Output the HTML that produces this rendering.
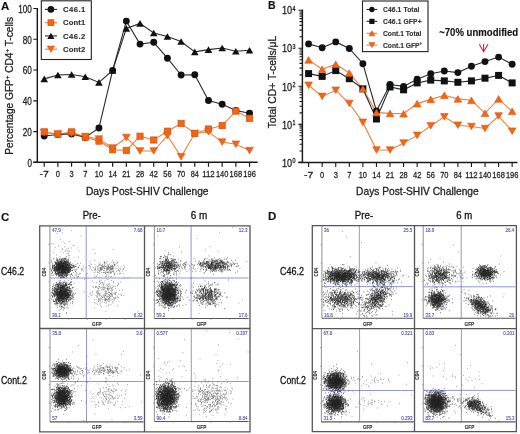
<!DOCTYPE html>
<html><head><meta charset="utf-8"><style>
html,body{margin:0;padding:0;background:#fff;width:520px;height:434px;overflow:hidden}
svg{display:block;font-family:"Liberation Sans", sans-serif;filter:blur(0.35px)}
</style></head><body>
<svg width="520" height="434" viewBox="0 0 520 434"><defs><filter id="soft" x="-5%" y="-5%" width="110%" height="110%"><feGaussianBlur stdDeviation="1.2"/></filter></defs>
<text x="1" y="9.6" font-size="11.5" text-anchor="start" font-weight="bold" fill="#111"  stroke="#111" stroke-width="0.14">A</text>
<path d="M37.3 8V162.3M33.3 162.3H257.7" stroke="#1a1a1a" stroke-width="1.45" fill="none"/>
<path d="M33.3 162.30H37.3M33.3 131.54H37.3M33.3 100.78H37.3M33.3 70.02H37.3M33.3 39.26H37.3M33.3 8.50H37.3M44.20 162.3V166.8M57.89 162.3V166.8M71.58 162.3V166.8M85.27 162.3V166.8M98.96 162.3V166.8M112.65 162.3V166.8M126.34 162.3V166.8M140.03 162.3V166.8M153.72 162.3V166.8M167.41 162.3V166.8M181.10 162.3V166.8M194.79 162.3V166.8M208.48 162.3V166.8M222.17 162.3V166.8M235.86 162.3V166.8M249.55 162.3V166.8" stroke="#1a1a1a" stroke-width="1.2" fill="none"/>
<text x="31.9" y="166.60" font-size="10.2" text-anchor="end" fill="#222" textLength="4.5" lengthAdjust="spacingAndGlyphs" stroke="#222" stroke-width="0.28">0</text>
<text x="31.9" y="135.84" font-size="10.2" text-anchor="end" fill="#222" textLength="9.1" lengthAdjust="spacingAndGlyphs" stroke="#222" stroke-width="0.28">20</text>
<text x="31.9" y="105.08" font-size="10.2" text-anchor="end" fill="#222" textLength="9.1" lengthAdjust="spacingAndGlyphs" stroke="#222" stroke-width="0.28">40</text>
<text x="31.9" y="74.32" font-size="10.2" text-anchor="end" fill="#222" textLength="9.1" lengthAdjust="spacingAndGlyphs" stroke="#222" stroke-width="0.28">60</text>
<text x="31.9" y="43.56" font-size="10.2" text-anchor="end" fill="#222" textLength="9.1" lengthAdjust="spacingAndGlyphs" stroke="#222" stroke-width="0.28">80</text>
<text x="31.9" y="12.80" font-size="10.2" text-anchor="end" fill="#222" textLength="13.6" lengthAdjust="spacingAndGlyphs" stroke="#222" stroke-width="0.28">100</text>
<text x="44.20" y="177.4" font-size="9.9" text-anchor="middle" fill="#222" textLength="9.3" lengthAdjust="spacingAndGlyphs" stroke="#222" stroke-width="0.28">-7</text>
<text x="57.89" y="177.4" font-size="9.9" text-anchor="middle" fill="#222" textLength="4.2" lengthAdjust="spacingAndGlyphs" stroke="#222" stroke-width="0.28">0</text>
<text x="71.58" y="177.4" font-size="9.9" text-anchor="middle" fill="#222" textLength="4.2" lengthAdjust="spacingAndGlyphs" stroke="#222" stroke-width="0.28">3</text>
<text x="85.27" y="177.4" font-size="9.9" text-anchor="middle" fill="#222" textLength="4.2" lengthAdjust="spacingAndGlyphs" stroke="#222" stroke-width="0.28">7</text>
<text x="98.96" y="177.4" font-size="9.9" text-anchor="middle" fill="#222" textLength="8.3" lengthAdjust="spacingAndGlyphs" stroke="#222" stroke-width="0.28">10</text>
<text x="112.65" y="177.4" font-size="9.9" text-anchor="middle" fill="#222" textLength="8.3" lengthAdjust="spacingAndGlyphs" stroke="#222" stroke-width="0.28">14</text>
<text x="126.34" y="177.4" font-size="9.9" text-anchor="middle" fill="#222" textLength="8.3" lengthAdjust="spacingAndGlyphs" stroke="#222" stroke-width="0.28">21</text>
<text x="140.03" y="177.4" font-size="9.9" text-anchor="middle" fill="#222" textLength="8.3" lengthAdjust="spacingAndGlyphs" stroke="#222" stroke-width="0.28">28</text>
<text x="153.72" y="177.4" font-size="9.9" text-anchor="middle" fill="#222" textLength="8.3" lengthAdjust="spacingAndGlyphs" stroke="#222" stroke-width="0.28">42</text>
<text x="167.41" y="177.4" font-size="9.9" text-anchor="middle" fill="#222" textLength="8.3" lengthAdjust="spacingAndGlyphs" stroke="#222" stroke-width="0.28">56</text>
<text x="181.10" y="177.4" font-size="9.9" text-anchor="middle" fill="#222" textLength="8.3" lengthAdjust="spacingAndGlyphs" stroke="#222" stroke-width="0.28">70</text>
<text x="194.79" y="177.4" font-size="9.9" text-anchor="middle" fill="#222" textLength="8.3" lengthAdjust="spacingAndGlyphs" stroke="#222" stroke-width="0.28">84</text>
<text x="208.48" y="177.4" font-size="9.9" text-anchor="middle" fill="#222" textLength="12.5" lengthAdjust="spacingAndGlyphs" stroke="#222" stroke-width="0.28">112</text>
<text x="222.17" y="177.4" font-size="9.9" text-anchor="middle" fill="#222" textLength="12.5" lengthAdjust="spacingAndGlyphs" stroke="#222" stroke-width="0.28">140</text>
<text x="235.86" y="177.4" font-size="9.9" text-anchor="middle" fill="#222" textLength="12.5" lengthAdjust="spacingAndGlyphs" stroke="#222" stroke-width="0.28">168</text>
<text x="249.55" y="177.4" font-size="9.9" text-anchor="middle" fill="#222" textLength="12.5" lengthAdjust="spacingAndGlyphs" stroke="#222" stroke-width="0.28">196</text>
<text x="86" y="194.7" font-size="10.2" fill="#222" textLength="122.5" lengthAdjust="spacingAndGlyphs" stroke="#222" stroke-width="0.28">Days Post-SHIV Challenge</text>
<text transform="translate(13.2,154.7) rotate(-90)" font-size="10.2" fill="#222" textLength="137.7" lengthAdjust="spacingAndGlyphs" stroke="#222" stroke-width="0.28">Percentage GFP<tspan font-size="6" dy="-4">+</tspan><tspan dy="4"> CD4</tspan><tspan font-size="6" dy="-4">+</tspan><tspan dy="4"> T-cells</tspan></text>
<polyline points="44.20,132.50 57.89,134.00 71.58,133.50 85.27,136.50 98.96,139.00 112.65,148.00 126.34,137.50 140.03,151.00 153.72,151.00 167.41,135.60 181.10,156.70 194.79,133.50 208.48,131.80 222.17,142.10 235.86,144.20 249.55,150.60" fill="none" stroke="#f0813a" stroke-width="1.1"/>
<polyline points="44.20,131.90 57.89,134.20 71.58,131.90 85.27,137.20 98.96,141.10 112.65,149.70 126.34,150.40 140.03,136.20 153.72,140.00 167.41,131.20 181.10,123.40 194.79,133.50 208.48,129.00 222.17,125.60 235.86,111.10 249.55,118.30" fill="none" stroke="#f0813a" stroke-width="1.1"/>
<polyline points="44.20,78.90 57.89,75.00 71.58,74.50 85.27,76.80 98.96,82.40 112.65,70.40 126.34,28.40 140.03,23.40 153.72,33.00 167.41,36.50 181.10,41.50 194.79,51.90 208.48,49.60 222.17,48.00 235.86,51.20 249.55,50.30" fill="none" stroke="#2a2a2a" stroke-width="1.1"/>
<polyline points="44.20,136.00 57.89,134.50 71.58,134.00 85.27,137.50 98.96,128.00 112.65,70.40 126.34,21.10 140.03,44.10 153.72,42.30 167.41,58.20 181.10,75.00 194.79,74.70 208.48,100.50 222.17,104.30 235.86,110.50 249.55,113.20" fill="none" stroke="#2a2a2a" stroke-width="1.1"/>
<circle cx="44.20" cy="136.00" r="3.45" fill="#111"/>
<circle cx="57.89" cy="134.50" r="3.45" fill="#111"/>
<circle cx="71.58" cy="134.00" r="3.45" fill="#111"/>
<circle cx="85.27" cy="137.50" r="3.45" fill="#111"/>
<circle cx="98.96" cy="128.00" r="3.45" fill="#111"/>
<circle cx="112.65" cy="70.40" r="3.45" fill="#111"/>
<circle cx="126.34" cy="21.10" r="3.45" fill="#111"/>
<circle cx="140.03" cy="44.10" r="3.45" fill="#111"/>
<circle cx="153.72" cy="42.30" r="3.45" fill="#111"/>
<circle cx="167.41" cy="58.20" r="3.45" fill="#111"/>
<circle cx="181.10" cy="75.00" r="3.45" fill="#111"/>
<circle cx="194.79" cy="74.70" r="3.45" fill="#111"/>
<circle cx="208.48" cy="100.50" r="3.45" fill="#111"/>
<circle cx="222.17" cy="104.30" r="3.45" fill="#111"/>
<circle cx="235.86" cy="110.50" r="3.45" fill="#111"/>
<circle cx="249.55" cy="113.20" r="3.45" fill="#111"/>
<path d="M40.40 82.20L44.20 75.60L48.00 82.20Z" fill="#111"/>
<path d="M54.09 78.30L57.89 71.70L61.69 78.30Z" fill="#111"/>
<path d="M67.78 77.80L71.58 71.20L75.38 77.80Z" fill="#111"/>
<path d="M81.47 80.10L85.27 73.50L89.07 80.10Z" fill="#111"/>
<path d="M95.16 85.70L98.96 79.10L102.76 85.70Z" fill="#111"/>
<path d="M108.85 73.70L112.65 67.10L116.45 73.70Z" fill="#111"/>
<path d="M122.54 31.70L126.34 25.10L130.14 31.70Z" fill="#111"/>
<path d="M136.23 26.70L140.03 20.10L143.83 26.70Z" fill="#111"/>
<path d="M149.92 36.30L153.72 29.70L157.52 36.30Z" fill="#111"/>
<path d="M163.61 39.80L167.41 33.20L171.21 39.80Z" fill="#111"/>
<path d="M177.30 44.80L181.10 38.20L184.90 44.80Z" fill="#111"/>
<path d="M190.99 55.20L194.79 48.60L198.59 55.20Z" fill="#111"/>
<path d="M204.68 52.90L208.48 46.30L212.28 52.90Z" fill="#111"/>
<path d="M218.37 51.30L222.17 44.70L225.97 51.30Z" fill="#111"/>
<path d="M232.06 54.50L235.86 47.90L239.66 54.50Z" fill="#111"/>
<path d="M245.75 53.60L249.55 47.00L253.35 53.60Z" fill="#111"/>
<rect x="41.10" y="128.80" width="6.20" height="6.20" fill="#f6660e" stroke="#d4561a" stroke-width=".8"/>
<rect x="54.79" y="131.10" width="6.20" height="6.20" fill="#f6660e" stroke="#d4561a" stroke-width=".8"/>
<rect x="68.48" y="128.80" width="6.20" height="6.20" fill="#f6660e" stroke="#d4561a" stroke-width=".8"/>
<rect x="82.17" y="134.10" width="6.20" height="6.20" fill="#f6660e" stroke="#d4561a" stroke-width=".8"/>
<rect x="95.86" y="138.00" width="6.20" height="6.20" fill="#f6660e" stroke="#d4561a" stroke-width=".8"/>
<rect x="109.55" y="146.60" width="6.20" height="6.20" fill="#f6660e" stroke="#d4561a" stroke-width=".8"/>
<rect x="123.24" y="147.30" width="6.20" height="6.20" fill="#f6660e" stroke="#d4561a" stroke-width=".8"/>
<rect x="136.93" y="133.10" width="6.20" height="6.20" fill="#f6660e" stroke="#d4561a" stroke-width=".8"/>
<rect x="150.62" y="136.90" width="6.20" height="6.20" fill="#f6660e" stroke="#d4561a" stroke-width=".8"/>
<rect x="164.31" y="128.10" width="6.20" height="6.20" fill="#f6660e" stroke="#d4561a" stroke-width=".8"/>
<rect x="178.00" y="120.30" width="6.20" height="6.20" fill="#f6660e" stroke="#d4561a" stroke-width=".8"/>
<rect x="191.69" y="130.40" width="6.20" height="6.20" fill="#f6660e" stroke="#d4561a" stroke-width=".8"/>
<rect x="205.38" y="125.90" width="6.20" height="6.20" fill="#f6660e" stroke="#d4561a" stroke-width=".8"/>
<rect x="219.07" y="122.50" width="6.20" height="6.20" fill="#f6660e" stroke="#d4561a" stroke-width=".8"/>
<rect x="232.76" y="108.00" width="6.20" height="6.20" fill="#f6660e" stroke="#d4561a" stroke-width=".8"/>
<rect x="246.45" y="115.20" width="6.20" height="6.20" fill="#f6660e" stroke="#d4561a" stroke-width=".8"/>
<path d="M40.40 129.20L44.20 135.80L48.00 129.20Z" fill="#f6660e" stroke="#d4561a" stroke-width=".6" stroke-linejoin="round"/>
<path d="M54.09 130.70L57.89 137.30L61.69 130.70Z" fill="#f6660e" stroke="#d4561a" stroke-width=".6" stroke-linejoin="round"/>
<path d="M67.78 130.20L71.58 136.80L75.38 130.20Z" fill="#f6660e" stroke="#d4561a" stroke-width=".6" stroke-linejoin="round"/>
<path d="M81.47 133.20L85.27 139.80L89.07 133.20Z" fill="#f6660e" stroke="#d4561a" stroke-width=".6" stroke-linejoin="round"/>
<path d="M95.16 135.70L98.96 142.30L102.76 135.70Z" fill="#f6660e" stroke="#d4561a" stroke-width=".6" stroke-linejoin="round"/>
<path d="M108.85 144.70L112.65 151.30L116.45 144.70Z" fill="#f6660e" stroke="#d4561a" stroke-width=".6" stroke-linejoin="round"/>
<path d="M122.54 134.20L126.34 140.80L130.14 134.20Z" fill="#f6660e" stroke="#d4561a" stroke-width=".6" stroke-linejoin="round"/>
<path d="M136.23 147.70L140.03 154.30L143.83 147.70Z" fill="#f6660e" stroke="#d4561a" stroke-width=".6" stroke-linejoin="round"/>
<path d="M149.92 147.70L153.72 154.30L157.52 147.70Z" fill="#f6660e" stroke="#d4561a" stroke-width=".6" stroke-linejoin="round"/>
<path d="M163.61 132.30L167.41 138.90L171.21 132.30Z" fill="#f6660e" stroke="#d4561a" stroke-width=".6" stroke-linejoin="round"/>
<path d="M177.30 153.40L181.10 160.00L184.90 153.40Z" fill="#f6660e" stroke="#d4561a" stroke-width=".6" stroke-linejoin="round"/>
<path d="M190.99 130.20L194.79 136.80L198.59 130.20Z" fill="#f6660e" stroke="#d4561a" stroke-width=".6" stroke-linejoin="round"/>
<path d="M204.68 128.50L208.48 135.10L212.28 128.50Z" fill="#f6660e" stroke="#d4561a" stroke-width=".6" stroke-linejoin="round"/>
<path d="M218.37 138.80L222.17 145.40L225.97 138.80Z" fill="#f6660e" stroke="#d4561a" stroke-width=".6" stroke-linejoin="round"/>
<path d="M232.06 140.90L235.86 147.50L239.66 140.90Z" fill="#f6660e" stroke="#d4561a" stroke-width=".6" stroke-linejoin="round"/>
<path d="M245.75 147.30L249.55 153.90L253.35 147.30Z" fill="#f6660e" stroke="#d4561a" stroke-width=".6" stroke-linejoin="round"/>
<rect x="41.3" y="0.8" width="50" height="58.7" fill="#fff" stroke="#222" stroke-width="1.1"/>
<path d="M45 9.40H57" stroke="#2a2a2a" stroke-width="1.1"/>
<circle cx="50.90" cy="9.40" r="3.3" fill="#111"/>
<text x="63" y="12.10" font-size="7.7" font-weight="bold" fill="#333" textLength="22.3" lengthAdjust="spacing" stroke="#333" stroke-width="0.14">C46.1</text>
<path d="M45 22.65H57" stroke="#f0813a" stroke-width="1.1"/>
<rect x="48.00" y="19.75" width="5.80" height="5.80" fill="#f6660e" stroke="#d4561a" stroke-width=".8"/>
<text x="63" y="25.35" font-size="7.7" font-weight="bold" fill="#333" textLength="22.3" lengthAdjust="spacing" stroke="#333" stroke-width="0.14">Cont1</text>
<path d="M45 35.90H57" stroke="#2a2a2a" stroke-width="1.1"/>
<path d="M47.30 39.00L50.90 32.80L54.50 39.00Z" fill="#111"/>
<text x="63" y="38.60" font-size="7.7" font-weight="bold" fill="#333" textLength="22.3" lengthAdjust="spacing" stroke="#333" stroke-width="0.14">C46.2</text>
<path d="M45 49.15H57" stroke="#f0813a" stroke-width="1.1"/>
<path d="M47.30 46.05L50.90 52.25L54.50 46.05Z" fill="#f6660e" stroke="#d4561a" stroke-width=".6" stroke-linejoin="round"/>
<text x="63" y="51.85" font-size="7.7" font-weight="bold" fill="#333" textLength="22.3" lengthAdjust="spacing" stroke="#333" stroke-width="0.14">Cont2</text>
<text x="268" y="9.4" font-size="10.5" text-anchor="start" font-weight="bold" fill="#111"  stroke="#111" stroke-width="0.14">B</text>
<path d="M302.4 9.5V162.5M298.5 162.5H517.5" stroke="#1a1a1a" stroke-width="1.45" fill="none"/>
<path d="M298.4 162.40H302.2M299.5 150.95H302.4M299.5 144.25H302.4M299.5 139.49H302.4M299.5 135.80H302.4M299.5 132.79H302.4M299.5 130.24H302.4M299.5 128.04H302.4M299.5 126.09H302.4M298.4 124.35H302.2M299.5 112.90H302.4M299.5 106.20H302.4M299.5 101.44H302.4M299.5 97.75H302.4M299.5 94.74H302.4M299.5 92.19H302.4M299.5 89.99H302.4M299.5 88.04H302.4M298.4 86.30H302.2M299.5 74.85H302.4M299.5 68.15H302.4M299.5 63.39H302.4M299.5 59.70H302.4M299.5 56.69H302.4M299.5 54.14H302.4M299.5 51.94H302.4M299.5 49.99H302.4M298.4 48.25H302.2M299.5 36.80H302.4M299.5 30.10H302.4M299.5 25.34H302.4M299.5 21.65H302.4M299.5 18.64H302.4M299.5 16.09H302.4M299.5 13.89H302.4M299.5 11.94H302.4M298.4 10.20H302.2M308.60 162.5V167M322.17 162.5V167M335.74 162.5V167M349.31 162.5V167M362.88 162.5V167M376.45 162.5V167M390.02 162.5V167M403.59 162.5V167M417.16 162.5V167M430.73 162.5V167M444.30 162.5V167M457.87 162.5V167M471.44 162.5V167M485.01 162.5V167M498.58 162.5V167M512.15 162.5V167" stroke="#1a1a1a" stroke-width="1.1" fill="none"/>
<text x="292.1" y="166.60" font-size="11.6" text-anchor="end" fill="#222" textLength="10.2" lengthAdjust="spacingAndGlyphs" stroke="#222" stroke-width="0.28">10</text>
<text x="292.4" y="162.80" font-size="6.6" fill="#222" textLength="3" lengthAdjust="spacingAndGlyphs" stroke="#222" stroke-width="0.28">0</text>
<text x="292.1" y="128.55" font-size="11.6" text-anchor="end" fill="#222" textLength="10.2" lengthAdjust="spacingAndGlyphs" stroke="#222" stroke-width="0.28">10</text>
<text x="292.4" y="124.75" font-size="6.6" fill="#222" textLength="3" lengthAdjust="spacingAndGlyphs" stroke="#222" stroke-width="0.28">1</text>
<text x="292.1" y="90.50" font-size="11.6" text-anchor="end" fill="#222" textLength="10.2" lengthAdjust="spacingAndGlyphs" stroke="#222" stroke-width="0.28">10</text>
<text x="292.4" y="86.70" font-size="6.6" fill="#222" textLength="3" lengthAdjust="spacingAndGlyphs" stroke="#222" stroke-width="0.28">2</text>
<text x="292.1" y="52.45" font-size="11.6" text-anchor="end" fill="#222" textLength="10.2" lengthAdjust="spacingAndGlyphs" stroke="#222" stroke-width="0.28">10</text>
<text x="292.4" y="48.65" font-size="6.6" fill="#222" textLength="3" lengthAdjust="spacingAndGlyphs" stroke="#222" stroke-width="0.28">3</text>
<text x="292.1" y="14.40" font-size="11.6" text-anchor="end" fill="#222" textLength="10.2" lengthAdjust="spacingAndGlyphs" stroke="#222" stroke-width="0.28">10</text>
<text x="292.4" y="10.60" font-size="6.6" fill="#222" textLength="3" lengthAdjust="spacingAndGlyphs" stroke="#222" stroke-width="0.28">4</text>
<text x="308.60" y="177.5" font-size="9.9" text-anchor="middle" fill="#222" textLength="9.3" lengthAdjust="spacingAndGlyphs" stroke="#222" stroke-width="0.28">-7</text>
<text x="322.17" y="177.5" font-size="9.9" text-anchor="middle" fill="#222" textLength="4.2" lengthAdjust="spacingAndGlyphs" stroke="#222" stroke-width="0.28">0</text>
<text x="335.74" y="177.5" font-size="9.9" text-anchor="middle" fill="#222" textLength="4.2" lengthAdjust="spacingAndGlyphs" stroke="#222" stroke-width="0.28">3</text>
<text x="349.31" y="177.5" font-size="9.9" text-anchor="middle" fill="#222" textLength="4.2" lengthAdjust="spacingAndGlyphs" stroke="#222" stroke-width="0.28">7</text>
<text x="362.88" y="177.5" font-size="9.9" text-anchor="middle" fill="#222" textLength="8.3" lengthAdjust="spacingAndGlyphs" stroke="#222" stroke-width="0.28">10</text>
<text x="376.45" y="177.5" font-size="9.9" text-anchor="middle" fill="#222" textLength="8.3" lengthAdjust="spacingAndGlyphs" stroke="#222" stroke-width="0.28">14</text>
<text x="390.02" y="177.5" font-size="9.9" text-anchor="middle" fill="#222" textLength="8.3" lengthAdjust="spacingAndGlyphs" stroke="#222" stroke-width="0.28">21</text>
<text x="403.59" y="177.5" font-size="9.9" text-anchor="middle" fill="#222" textLength="8.3" lengthAdjust="spacingAndGlyphs" stroke="#222" stroke-width="0.28">28</text>
<text x="417.16" y="177.5" font-size="9.9" text-anchor="middle" fill="#222" textLength="8.3" lengthAdjust="spacingAndGlyphs" stroke="#222" stroke-width="0.28">42</text>
<text x="430.73" y="177.5" font-size="9.9" text-anchor="middle" fill="#222" textLength="8.3" lengthAdjust="spacingAndGlyphs" stroke="#222" stroke-width="0.28">56</text>
<text x="444.30" y="177.5" font-size="9.9" text-anchor="middle" fill="#222" textLength="8.3" lengthAdjust="spacingAndGlyphs" stroke="#222" stroke-width="0.28">70</text>
<text x="457.87" y="177.5" font-size="9.9" text-anchor="middle" fill="#222" textLength="8.3" lengthAdjust="spacingAndGlyphs" stroke="#222" stroke-width="0.28">84</text>
<text x="471.44" y="177.5" font-size="9.9" text-anchor="middle" fill="#222" textLength="12.5" lengthAdjust="spacingAndGlyphs" stroke="#222" stroke-width="0.28">112</text>
<text x="485.01" y="177.5" font-size="9.9" text-anchor="middle" fill="#222" textLength="12.5" lengthAdjust="spacingAndGlyphs" stroke="#222" stroke-width="0.28">140</text>
<text x="498.58" y="177.5" font-size="9.9" text-anchor="middle" fill="#222" textLength="12.5" lengthAdjust="spacingAndGlyphs" stroke="#222" stroke-width="0.28">168</text>
<text x="512.15" y="177.5" font-size="9.9" text-anchor="middle" fill="#222" textLength="12.5" lengthAdjust="spacingAndGlyphs" stroke="#222" stroke-width="0.28">196</text>
<text x="356.1" y="194.6" font-size="10.2" fill="#222" textLength="122.6" lengthAdjust="spacingAndGlyphs" stroke="#222" stroke-width="0.28">Days Post-SHIV Challenge</text>
<text transform="translate(276.2,128.3) rotate(-90)" font-size="10.8" fill="#222" textLength="92.5" lengthAdjust="spacingAndGlyphs" stroke="#222" stroke-width="0.28">Total CD+ T-cells/μL</text>
<polyline points="308.60,85.30 322.17,96.40 335.74,90.30 349.31,103.50 362.88,122.40 376.45,150.00 390.02,150.00 403.59,143.00 417.16,135.40 430.73,125.70 444.30,116.90 457.87,125.20 471.44,126.50 485.01,128.50 498.58,116.00 512.15,131.20" fill="none" stroke="#f0813a" stroke-width="1.1"/>
<polyline points="308.60,59.90 322.17,69.30 335.74,64.20 349.31,73.10 362.88,88.80 376.45,112.60 390.02,113.40 403.59,113.80 417.16,103.60 430.73,99.40 444.30,95.30 457.87,98.90 471.44,100.30 485.01,113.30 498.58,98.90 512.15,111.30" fill="none" stroke="#f0813a" stroke-width="1.1"/>
<polyline points="308.60,73.60 322.17,76.40 335.74,70.60 349.31,78.70 362.88,88.80 376.45,119.00 390.02,87.00 403.59,89.80 417.16,82.90 430.73,80.10 444.30,80.90 457.87,82.30 471.44,80.90 485.01,78.20 498.58,75.40 512.15,82.90" fill="none" stroke="#1f2a3a" stroke-width="1.1"/>
<polyline points="308.60,43.90 322.17,47.70 335.74,41.90 349.31,48.50 362.88,63.70 376.45,111.00 390.02,84.50 403.59,86.40 417.16,79.30 430.73,73.70 444.30,71.00 457.87,72.60 471.44,66.30 485.01,61.60 498.58,57.10 512.15,64.30" fill="none" stroke="#2a2a2a" stroke-width="1.1"/>
<rect x="305.10" y="70.10" width="7.00" height="7.00" fill="#111"/>
<rect x="318.67" y="72.90" width="7.00" height="7.00" fill="#111"/>
<rect x="332.24" y="67.10" width="7.00" height="7.00" fill="#111"/>
<rect x="345.81" y="75.20" width="7.00" height="7.00" fill="#111"/>
<rect x="359.38" y="85.30" width="7.00" height="7.00" fill="#111"/>
<rect x="372.95" y="115.50" width="7.00" height="7.00" fill="#111"/>
<rect x="386.52" y="83.50" width="7.00" height="7.00" fill="#111"/>
<rect x="400.09" y="86.30" width="7.00" height="7.00" fill="#111"/>
<rect x="413.66" y="79.40" width="7.00" height="7.00" fill="#111"/>
<rect x="427.23" y="76.60" width="7.00" height="7.00" fill="#111"/>
<rect x="440.80" y="77.40" width="7.00" height="7.00" fill="#111"/>
<rect x="454.37" y="78.80" width="7.00" height="7.00" fill="#111"/>
<rect x="467.94" y="77.40" width="7.00" height="7.00" fill="#111"/>
<rect x="481.51" y="74.70" width="7.00" height="7.00" fill="#111"/>
<rect x="495.08" y="71.90" width="7.00" height="7.00" fill="#111"/>
<rect x="508.65" y="79.40" width="7.00" height="7.00" fill="#111"/>
<circle cx="308.60" cy="43.90" r="3.45" fill="#111"/>
<circle cx="322.17" cy="47.70" r="3.45" fill="#111"/>
<circle cx="335.74" cy="41.90" r="3.45" fill="#111"/>
<circle cx="349.31" cy="48.50" r="3.45" fill="#111"/>
<circle cx="362.88" cy="63.70" r="3.45" fill="#111"/>
<circle cx="376.45" cy="111.00" r="3.45" fill="#111"/>
<circle cx="390.02" cy="84.50" r="3.45" fill="#111"/>
<circle cx="403.59" cy="86.40" r="3.45" fill="#111"/>
<circle cx="417.16" cy="79.30" r="3.45" fill="#111"/>
<circle cx="430.73" cy="73.70" r="3.45" fill="#111"/>
<circle cx="444.30" cy="71.00" r="3.45" fill="#111"/>
<circle cx="457.87" cy="72.60" r="3.45" fill="#111"/>
<circle cx="471.44" cy="66.30" r="3.45" fill="#111"/>
<circle cx="485.01" cy="61.60" r="3.45" fill="#111"/>
<circle cx="498.58" cy="57.10" r="3.45" fill="#111"/>
<circle cx="512.15" cy="64.30" r="3.45" fill="#111"/>
<path d="M304.80 82.00L308.60 88.60L312.40 82.00Z" fill="#f6660e" stroke="#d4561a" stroke-width=".6" stroke-linejoin="round"/>
<path d="M318.37 93.10L322.17 99.70L325.97 93.10Z" fill="#f6660e" stroke="#d4561a" stroke-width=".6" stroke-linejoin="round"/>
<path d="M331.94 87.00L335.74 93.60L339.54 87.00Z" fill="#f6660e" stroke="#d4561a" stroke-width=".6" stroke-linejoin="round"/>
<path d="M345.51 100.20L349.31 106.80L353.11 100.20Z" fill="#f6660e" stroke="#d4561a" stroke-width=".6" stroke-linejoin="round"/>
<path d="M359.08 119.10L362.88 125.70L366.68 119.10Z" fill="#f6660e" stroke="#d4561a" stroke-width=".6" stroke-linejoin="round"/>
<path d="M372.65 146.70L376.45 153.30L380.25 146.70Z" fill="#f6660e" stroke="#d4561a" stroke-width=".6" stroke-linejoin="round"/>
<path d="M386.22 146.70L390.02 153.30L393.82 146.70Z" fill="#f6660e" stroke="#d4561a" stroke-width=".6" stroke-linejoin="round"/>
<path d="M399.79 139.70L403.59 146.30L407.39 139.70Z" fill="#f6660e" stroke="#d4561a" stroke-width=".6" stroke-linejoin="round"/>
<path d="M413.36 132.10L417.16 138.70L420.96 132.10Z" fill="#f6660e" stroke="#d4561a" stroke-width=".6" stroke-linejoin="round"/>
<path d="M426.93 122.40L430.73 129.00L434.53 122.40Z" fill="#f6660e" stroke="#d4561a" stroke-width=".6" stroke-linejoin="round"/>
<path d="M440.50 113.60L444.30 120.20L448.10 113.60Z" fill="#f6660e" stroke="#d4561a" stroke-width=".6" stroke-linejoin="round"/>
<path d="M454.07 121.90L457.87 128.50L461.67 121.90Z" fill="#f6660e" stroke="#d4561a" stroke-width=".6" stroke-linejoin="round"/>
<path d="M467.64 123.20L471.44 129.80L475.24 123.20Z" fill="#f6660e" stroke="#d4561a" stroke-width=".6" stroke-linejoin="round"/>
<path d="M481.21 125.20L485.01 131.80L488.81 125.20Z" fill="#f6660e" stroke="#d4561a" stroke-width=".6" stroke-linejoin="round"/>
<path d="M494.78 112.70L498.58 119.30L502.38 112.70Z" fill="#f6660e" stroke="#d4561a" stroke-width=".6" stroke-linejoin="round"/>
<path d="M508.35 127.90L512.15 134.50L515.95 127.90Z" fill="#f6660e" stroke="#d4561a" stroke-width=".6" stroke-linejoin="round"/>
<path d="M304.80 63.20L308.60 56.60L312.40 63.20Z" fill="#f6660e" stroke="#d4561a" stroke-width=".6" stroke-linejoin="round"/>
<path d="M318.37 72.60L322.17 66.00L325.97 72.60Z" fill="#f6660e" stroke="#d4561a" stroke-width=".6" stroke-linejoin="round"/>
<path d="M331.94 67.50L335.74 60.90L339.54 67.50Z" fill="#f6660e" stroke="#d4561a" stroke-width=".6" stroke-linejoin="round"/>
<path d="M345.51 76.40L349.31 69.80L353.11 76.40Z" fill="#f6660e" stroke="#d4561a" stroke-width=".6" stroke-linejoin="round"/>
<path d="M359.08 92.10L362.88 85.50L366.68 92.10Z" fill="#f6660e" stroke="#d4561a" stroke-width=".6" stroke-linejoin="round"/>
<path d="M372.65 115.90L376.45 109.30L380.25 115.90Z" fill="#f6660e" stroke="#d4561a" stroke-width=".6" stroke-linejoin="round"/>
<path d="M386.22 116.70L390.02 110.10L393.82 116.70Z" fill="#f6660e" stroke="#d4561a" stroke-width=".6" stroke-linejoin="round"/>
<path d="M399.79 117.10L403.59 110.50L407.39 117.10Z" fill="#f6660e" stroke="#d4561a" stroke-width=".6" stroke-linejoin="round"/>
<path d="M413.36 106.90L417.16 100.30L420.96 106.90Z" fill="#f6660e" stroke="#d4561a" stroke-width=".6" stroke-linejoin="round"/>
<path d="M426.93 102.70L430.73 96.10L434.53 102.70Z" fill="#f6660e" stroke="#d4561a" stroke-width=".6" stroke-linejoin="round"/>
<path d="M440.50 98.60L444.30 92.00L448.10 98.60Z" fill="#f6660e" stroke="#d4561a" stroke-width=".6" stroke-linejoin="round"/>
<path d="M454.07 102.20L457.87 95.60L461.67 102.20Z" fill="#f6660e" stroke="#d4561a" stroke-width=".6" stroke-linejoin="round"/>
<path d="M467.64 103.60L471.44 97.00L475.24 103.60Z" fill="#f6660e" stroke="#d4561a" stroke-width=".6" stroke-linejoin="round"/>
<path d="M481.21 116.60L485.01 110.00L488.81 116.60Z" fill="#f6660e" stroke="#d4561a" stroke-width=".6" stroke-linejoin="round"/>
<path d="M494.78 102.20L498.58 95.60L502.38 102.20Z" fill="#f6660e" stroke="#d4561a" stroke-width=".6" stroke-linejoin="round"/>
<path d="M508.35 114.60L512.15 108.00L515.95 114.60Z" fill="#f6660e" stroke="#d4561a" stroke-width=".6" stroke-linejoin="round"/>
<rect x="362.5" y="1" width="65.5" height="50.6" fill="#fff" stroke="#222" stroke-width="1.1"/>
<path d="M366.5 9.50H377.3" stroke="#2a2a2a" stroke-width="1.1"/>
<circle cx="371.90" cy="9.50" r="2.7" fill="#111"/>
<text x="383" y="12.00" font-size="6.7" font-weight="bold" fill="#333" textLength="36.4" lengthAdjust="spacing" stroke="#333" stroke-width="0.14">C46.1 Total</text>
<path d="M366.5 21.37H377.3" stroke="#2a2a2a" stroke-width="1.1"/>
<rect x="369.30" y="18.77" width="5.20" height="5.20" fill="#111"/>
<text x="383" y="23.87" font-size="6.7" font-weight="bold" fill="#333" textLength="38.6" lengthAdjust="spacing" stroke="#333" stroke-width="0.14">C46.1 GFP+</text>
<path d="M366.5 33.24H377.3" stroke="#f0813a" stroke-width="1.1"/>
<path d="M368.90 35.74L371.90 30.74L374.90 35.74Z" fill="#f6660e" stroke="#d4561a" stroke-width=".6" stroke-linejoin="round"/>
<text x="383" y="35.74" font-size="6.7" font-weight="bold" fill="#333" textLength="38.3" lengthAdjust="spacing" stroke="#333" stroke-width="0.14">Cont.1 Total</text>
<path d="M366.5 45.11H377.3" stroke="#f0813a" stroke-width="1.1"/>
<path d="M368.90 42.61L371.90 47.61L374.90 42.61Z" fill="#f6660e" stroke="#d4561a" stroke-width=".6" stroke-linejoin="round"/>
<text x="383" y="47.61" font-size="6.7" font-weight="bold" fill="#333" textLength="39.2" lengthAdjust="spacing" stroke="#333" stroke-width="0.14">Cont.1 GFP<tspan font-size="4.5" dy="-2.5">+</tspan></text>
<text x="439.2" y="35.6" font-size="10.6" font-weight="bold" fill="#111" textLength="79" lengthAdjust="spacingAndGlyphs" stroke="#111" stroke-width="0.14">~70% unmodified</text>
<path d="M479.3 44.2L483.6 51.7L488 44.2M483.6 44V51.7" stroke="#d8232a" stroke-width="1.1" fill="none"/>
<text x="1" y="220.5" font-size="11.5" text-anchor="start" font-weight="bold" fill="#111"  stroke="#111" stroke-width="0.14">C</text>
<text x="82.7" y="219.4" font-size="10.2" fill="#111" textLength="18.1" lengthAdjust="spacingAndGlyphs" stroke="#111" stroke-width="0.28">Pre-</text>
<text x="190.8" y="219" font-size="10.2" fill="#111" textLength="16.6" lengthAdjust="spacingAndGlyphs" stroke="#111" stroke-width="0.28">6 m</text>
<text x="0.9" y="274.9" font-size="10.9" fill="#111" textLength="23.3" lengthAdjust="spacingAndGlyphs" stroke="#111" stroke-width="0.28">C46.2</text>
<text x="1" y="383.9" font-size="10.7" fill="#111" textLength="25.9" lengthAdjust="spacingAndGlyphs" stroke="#111" stroke-width="0.28">Cont.2</text>
<path filter="url(#soft)" transform="scale(0.333333)" d="M213 692h2m-29 7h2m-18 1h2m70 8h2m-63 10h2m5 6h2m18 1h2m-18 5h2m-41 1h2m6 1h2m55 4h2m-46 1h2m45 0h2m-29 4h2m-31 2h2m47 1h2m17 0h2m-30 1h2m-20 2h2m11 0h2m76 1h2m58 0h2m-154 1h2m8 2h2m2 2h2m3 0h2m29 0h2m-31 1h2m-27 1h2m10 0h2m-36 3h2m28 1h2m9 1h2m82 0h2m-82 1h2m-39 4h2m38 1h2m-5 1h2m27 5h2m-40 3h2m84 6h2m52 0h2m-26 3h2m-45 1h2m50 0h2m16 1h2m9 1h2m-52 1h2m9 0h2m0 0h2m0 0h2m18 0h2m15 0h2m-40 1h2m3 0h2m19 0h2m2 0h2m-179 1h2m72 0h2m53 0h2m14 0h2m36 0h2m-82 2h2m56 0h2m-56 1h2m67 0h2m-61 1h2m10 0h2m8 0h2m34 0h2m2 0h2m-51 1h2m0 0h2m0 0h2m4 0h2m3 0h2m7 0h2m0 0h2m1 0h2m7 0h2m5 0h2m-106 1h2m64 0h2m7 0h2m21 0h2m4 0h2m-79 1h2m0 0h2m62 0h2m2 0h2m34 0h2m-79 1h2m12 0h2m14 0h2m17 0h2m5 0h2m-102 1h2m38 0h2m12 0h2m0 0h2m-1 0h2m7 0h2m1 0h2m2 0h2m0 0h2m8 0h2m-1 0h2m-30 1h2m-1 0h2m0 0h2m2 0h2m7 0h2m5 0h2m1 0h2m3 0h2m-143 1h2m35 0h2m32 0h2m0 0h2m12 0h2m5 0h2m18 0h2m9 0h2m4 0h2m-1 0h2m1 0h2m1 0h2m16 0h2m6 0h2m-141 1h2m9 0h2m21 0h2m43 0h2m22 0h2m-93 1h2m42 0h2m20 0h2m1 0h2m2 0h2m11 0h2m0 0h2m3 0h2m-1 0h2m6 0h2m34 0h2m-142 1h2m60 0h2m1 0h2m1 0h2m5 0h2m9 0h2m1 0h2m1 0h2m3 0h2m3 0h2m-1 0h2m1 0h2m4 0h2m-103 1h2m2 0h2m35 0h2m15 0h2m2 0h2m4 0h2m6 0h2m3 0h2m9 0h2m0 0h2m19 0h2m-92 1h2m21 0h2m6 0h2m0 0h2m1 0h2m6 0h2m0 0h2m7 0h2m2 0h2m-1 0h2m2 0h2m-1 0h2m2 0h2m10 0h2m18 0h2m-87 1h2m16 0h2m15 0h2m-1 0h2m2 0h2m4 0h2m-1 0h2m-159 1h2m44 0h2m20 0h2m37 0h2m15 0h2m0 0h2m-1 0h2m3 0h2m9 0h2m1 0h2m7 0h2m2 0h2m24 0h2m6 0h2m0 0h2m-142 1h2m15 0h2m24 0h2m10 0h2m6 0h2m28 0h2m7 0h2m3 0h2m15 0h2m-129 1h2m74 0h2m0 0h2m32 0h2m-63 1h2m4 0h2m7 0h2m15 0h2m1 0h2m3 0h2m1 0h2m5 0h2m5 0h2m19 0h2m-114 1h2m51 0h2m1 0h2m27 0h2m22 0h2m22 0h2m-129 1h2m47 0h2m26 0h2m29 0h2m6 0h2m-142 1h2m107 0h2m0 0h2m10 0h2m-53 1h2m39 0h2m-56 1h2m5 0h2m22 0h2m-1 0h2m5 0h2m5 0h2m-1 0h2m6 0h2m17 0h2m-167 1h2m85 0h2m8 0h2m16 0h2m1 0h2m6 0h2m-1 0h2m3 0h2m-123 1h2m22 0h2m63 0h2m7 0h2m4 0h2m4 0h2m5 0h2m6 0h2m-1 0h2m0 0h2m-11 1h2m-89 1h2m22 0h2m68 0h2m10 0h2m-1 0h2m-106 1h2m55 0h2m16 0h2m43 0h2m-162 1h2m150 0h2m4 0h2m10 0h2m-139 1h2m108 0h2m-109 1h2m19 0h2m61 0h2m-31 1h2m50 0h2m-116 1h2m52 1h2m-64 1h2m94 0h2m5 0h2m-92 1h2m52 0h2m29 0h2m12 0h2m-103 1h2m1 0h2m79 0h2m11 0h2m-35 1h2m-12 1h2m95 1h2m-162 1h2m6 0h2m138 1h2m-53 2h2m-70 1h2m69 1h2m-27 2h2m2 0h2m-99 1h2m126 0h2m-58 1h2m35 0h2m-17 2h2m38 0h2m-44 1h2m62 0h2m-82 1h2m24 0h2m-21 1h2m13 0h2m6 0h2m26 0h2m-152 1h2m31 1h2m76 0h2m26 0h2m-23 1h2m45 0h2m-33 1h2m-16 1h2m0 0h2m12 0h2m28 0h2m-60 1h2m20 1h2m14 0h2m-9 1h2m-20 1h2m10 0h2m27 0h2m-1 0h2m-78 2h2m18 0h2m26 0h2m15 0h2m3 0h2m-62 1h2m1 0h2m7 0h2m11 0h2m7 0h2m7 0h2m-44 1h2m9 0h2m6 0h2m30 0h2m-61 1h2m23 0h2m5 0h2m3 0h2m5 0h2m11 0h2m-52 1h2m3 0h2m17 0h2m20 0h2m-34 1h2m10 0h2m15 0h2m-35 1h2m36 0h2m-22 1h2m4 0h2m-1 0h2m0 0h2m2 0h2m16 0h2m-117 1h2m61 0h2m-1 0h2m11 0h2m-1 0h2m11 0h2m-1 0h2m-1 0h2m1 0h2m5 0h2m-12 1h2m12 0h2m-28 1h2m-10 1h2m5 0h2m12 0h2m40 0h2m-36 1h2m2 0h2m20 0h2m-69 1h2m3 0h2m17 0h2m-160 1h2m164 0h2m-49 1h2m12 0h2m41 0h2m-82 1h2m35 0h2m22 0h2m2 0h2m-26 1h2m20 0h2m8 0h2m18 1h2m0 0h2m-74 1h2m10 0h2m34 0h2m1 0h2m-59 1h2m19 0h2m9 0h2m13 0h2m14 0h2m4 0h2m-46 1h2m-1 0h2m21 0h2m1 0h2m19 0h2m-1 0h2m-77 1h2m45 0h2m12 0h2m-1 0h2m1 0h2m-45 1h2m-1 0h2m4 0h2m11 0h2m1 0h2m19 0h2m8 0h2m8 0h2m3 0h2m-26 1h2m7 0h2m-51 1h2m19 0h2m5 0h2m1 0h2m4 0h2m10 0h2m-72 1h2m20 0h2m17 0h2m14 0h2m-62 1h2m13 0h2m11 0h2m6 0h2m6 0h2m45 0h2m6 0h2m-83 1h2m19 0h2m2 0h2m10 0h2m-1 0h2m6 0h2m26 0h2m-69 1h2m14 0h2m6 0h2m11 0h2m-72 1h2m37 0h2m6 0h2m11 0h2m5 0h2m3 0h2m13 0h2m-61 1h2m23 0h2m-30 1h2m14 0h2m13 0h2m0 0h2m3 0h2m3 0h2m-28 1h2m0 0h2m2 0h2m12 0h2m18 0h2m-20 1h2m10 0h2m8 0h2m2 0h2m-63 1h2m49 0h2m-50 1h2m3 0h2m23 0h2m14 0h2m-41 1h2m9 0h2m1 0h2m6 0h2m19 0h2m-34 1h2m12 0h2m-1 0h2m-35 1h2m1 0h2m15 0h2m-1 0h2m1 0h2m1 0h2m11 0h2m-56 1h2m10 0h2m9 0h2m1 0h2m8 0h2m-1 0h2m4 0h2m-32 1h2m16 0h2m0 0h2m11 0h2m2 0h2m6 0h2m1 0h2m-48 1h2m15 0h2m-1 0h2m5 1h2m-128 1h2m102 0h2m14 0h2m-24 1h2m28 0h2m1 0h2m-34 1h2m8 0h2m30 0h2m17 0h2m-40 1h2m-7 1h2m-32 1h2m17 1h2m34 0h2m-172 1h2m117 0h2m28 0h2m-20 2h2m-10 1h2m39 0h2m-8 2h2m-28 1h2m23 0h2m25 1h2m-35 1h2m-18 3h2m-22 4h2m32 9h2m94 1h2m-216 3h2" stroke="#5a5a5a" stroke-width="2.40" fill="none"/>
<path filter="url(#soft)" transform="scale(0.333333)" d="M198 769h2m-21 2h2m-13 3h2m25 0h2m9 0h2m-47 1h2m27 0h2m1 0h2m2 0h2m-20 1h2m4 0h2m0 0h2m-29 1h2m10 0h2m19 0h2m-1 0h2m-25 1h2m11 0h2m1 0h2m5 0h2m0 0h2m1 0h2m-33 1h2m7 0h2m3 0h2m5 0h2m12 0h2m0 0h2m-34 1h2m2 0h2m0 0h2m2 0h2m3 0h2m-8 1h2m1 0h2m3 0h2m-1 0h2m-40 1h2m14 0h2m0 0h2m25 0h2m5 0h2m-36 1h2m2 0h2m2 0h2m6 0h2m2 0h2m-1 0h2m-1 0h2m2 0h2m-1 0h2m2 0h2m-34 1h2m1 0h2m1 0h2m3 0h2m-1 0h2m0 0h2m-1 0h2m1 0h2m3 0h2m1 0h2m0 0h2m0 0h2m-1 0h2m-29 1h2m4 0h2m0 0h2m-1 0h2m-1 0h2m7 0h2m-1 0h2m-1 0h2m-1 0h2m6 0h2m-52 1h2m7 0h2m0 0h2m11 0h2m-1 0h2m0 0h2m1 0h2m1 0h2m2 0h2m-1 0h2m0 0h2m1 0h2m4 0h2m-40 1h2m4 0h2m3 0h2m1 0h2m1 0h2m0 0h2m2 0h2m-1 0h2m2 0h2m2 0h2m-1 0h2m1 0h2m-1 0h2m-36 1h2m0 0h2m1 0h2m-1 0h2m1 0h2m2 0h2m-1 0h2m-1 0h2m1 0h2m1 0h2m-1 0h2m-1 0h2m0 0h2m0 0h2m-1 0h2m-1 0h2m1 0h2m2 0h2m4 0h2m-46 1h2m-1 0h2m-1 0h2m4 0h2m0 0h2m2 0h2m-1 0h2m2 0h2m2 0h2m-1 0h2m-1 0h2m-1 0h2m-1 0h2m-1 0h2m0 0h2m5 0h2m0 0h2m0 0h2m-53 1h2m7 0h2m3 0h2m-1 0h2m0 0h2m-1 0h2m0 0h2m1 0h2m1 0h2m-1 0h2m0 0h2m-1 0h2m-1 0h2m0 0h2m5 0h2m0 0h2m-1 0h2m0 0h2m2 0h2m1 0h2m-44 1h2m1 0h2m4 0h2m-1 0h2m-1 0h2m-1 0h2m0 0h2m0 0h2m1 0h2m0 0h2m-1 0h2m1 0h2m-1 0h2m0 0h2m5 0h2m6 0h2m20 0h2m-65 1h2m-1 0h2m0 0h2m1 0h2m-1 0h2m0 0h2m1 0h2m0 0h2m1 0h2m-1 0h2m0 0h2m0 0h2m-1 0h2m-1 0h2m1 0h2m-1 0h2m-1 0h2m0 0h2m0 0h2m4 0h2m0 0h2m6 0h2m-54 1h2m0 0h2m2 0h2m-1 0h2m-1 0h2m-1 0h2m-1 0h2m-1 0h2m-1 0h2m-1 0h2m-1 0h2m1 0h2m-1 0h2m-1 0h2m-1 0h2m2 0h2m0 0h2m0 0h2m0 0h2m-1 0h2m-1 0h2m0 0h2m1 0h2m-35 1h2m1 0h2m0 0h2m1 0h2m-1 0h2m2 0h2m-1 0h2m-1 0h2m-1 0h2m2 0h2m3 0h2m2 0h2m0 0h2m-1 0h2m1 0h2m2 0h2m-1 0h2m1 0h2m0 0h2m-59 1h2m3 0h2m12 0h2m-1 0h2m0 0h2m-1 0h2m0 0h2m-1 0h2m-1 0h2m-1 0h2m-1 0h2m-1 0h2m-1 0h2m-1 0h2m2 0h2m0 0h2m-1 0h2m1 0h2m0 0h2m0 0h2m-1 0h2m-1 0h2m0 0h2m-1 0h2m17 0h2m-72 1h2m-1 0h2m-1 0h2m1 0h2m-1 0h2m3 0h2m-1 0h2m-1 0h2m0 0h2m-1 0h2m0 0h2m-1 0h2m-1 0h2m-1 0h2m-1 0h2m0 0h2m-1 0h2m-1 0h2m-1 0h2m-1 0h2m-1 0h2m-1 0h2m-1 0h2m-1 0h2m-1 0h2m-1 0h2m-1 0h2m1 0h2m-1 0h2m-1 0h2m-1 0h2m-1 0h2m0 0h2m-1 0h2m1 0h2m2 0h2m3 0h2m3 0h2m-50 1h2m0 0h2m0 0h2m-1 0h2m0 0h2m0 0h2m0 0h2m-1 0h2m-1 0h2m-1 0h2m-1 0h2m-1 0h2m0 0h2m-1 0h2m3 0h2m-1 0h2m-1 0h2m0 0h2m-1 0h2m-1 0h2m0 0h2m-1 0h2m-1 0h2m1 0h2m8 0h2m-1 0h2m-65 1h2m3 0h2m4 0h2m-1 0h2m0 0h2m0 0h2m-1 0h2m-1 0h2m0 0h2m-1 0h2m-1 0h2m-1 0h2m-1 0h2m-1 0h2m0 0h2m-1 0h2m-1 0h2m0 0h2m-1 0h2m-1 0h2m2 0h2m-1 0h2m-1 0h2m0 0h2m0 0h2m7 0h2m6 0h2m5 0h2m-65 1h2m4 0h2m0 0h2m3 0h2m0 0h2m-1 0h2m1 0h2m-1 0h2m-1 0h2m-1 0h2m0 0h2m-1 0h2m-1 0h2m-1 0h2m-1 0h2m-1 0h2m-1 0h2m-1 0h2m-1 0h2m-1 0h2m-1 0h2m1 0h2m-1 0h2m-1 0h2m3 0h2m2 0h2m1 0h2m7 0h2m4 0h2m-71 1h2m3 0h2m3 0h2m-1 0h2m0 0h2m1 0h2m-1 0h2m-1 0h2m-1 0h2m0 0h2m0 0h2m-1 0h2m-1 0h2m-1 0h2m0 0h2m-1 0h2m-1 0h2m-1 0h2m-1 0h2m-1 0h2m-1 0h2m-1 0h2m-1 0h2m-1 0h2m0 0h2m-1 0h2m0 0h2m-1 0h2m2 0h2m3 0h2m0 0h2m6 0h2m3 0h2m1 0h2m-62 1h2m-1 0h2m2 0h2m-1 0h2m-1 0h2m-1 0h2m-1 0h2m-1 0h2m0 0h2m-1 0h2m-1 0h2m-1 0h2m-1 0h2m0 0h2m0 0h2m-1 0h2m-1 0h2m-1 0h2m-1 0h2m0 0h2m0 0h2m0 0h2m2 0h2m-1 0h2m0 0h2m3 0h2m3 0h2m-59 1h2m3 0h2m0 0h2m0 0h2m0 0h2m-1 0h2m2 0h2m0 0h2m0 0h2m-1 0h2m0 0h2m-1 0h2m-1 0h2m-1 0h2m-1 0h2m-1 0h2m-1 0h2m-1 0h2m-1 0h2m-1 0h2m-1 0h2m-1 0h2m-1 0h2m-1 0h2m-1 0h2m-1 0h2m-1 0h2m0 0h2m-1 0h2m-1 0h2m0 0h2m0 0h2m-1 0h2m-1 0h2m1 0h2m0 0h2m0 0h2m3 0h2m1 0h2m-67 1h2m-1 0h2m-1 0h2m2 0h2m0 0h2m-1 0h2m1 0h2m3 0h2m-1 0h2m-1 0h2m-1 0h2m0 0h2m-1 0h2m-1 0h2m-1 0h2m-1 0h2m0 0h2m-1 0h2m-1 0h2m1 0h2m-1 0h2m-1 0h2m0 0h2m-1 0h2m0 0h2m-1 0h2m-1 0h2m-1 0h2m1 0h2m-1 0h2m2 0h2m0 0h2m-1 0h2m1 0h2m0 0h2m-1 0h2m-60 1h2m3 0h2m0 0h2m1 0h2m1 0h2m-1 0h2m0 0h2m-1 0h2m-1 0h2m0 0h2m-1 0h2m0 0h2m-1 0h2m-1 0h2m-1 0h2m1 0h2m-1 0h2m-1 0h2m-1 0h2m-1 0h2m1 0h2m-1 0h2m-1 0h2m1 0h2m-1 0h2m-1 0h2m1 0h2m4 0h2m1 0h2m-56 1h2m0 0h2m-1 0h2m3 0h2m0 0h2m-1 0h2m0 0h2m-1 0h2m0 0h2m0 0h2m-1 0h2m-1 0h2m0 0h2m0 0h2m-1 0h2m-1 0h2m-1 0h2m-1 0h2m-1 0h2m-1 0h2m-1 0h2m-1 0h2m-1 0h2m-1 0h2m-1 0h2m0 0h2m0 0h2m0 0h2m-1 0h2m-1 0h2m-1 0h2m-1 0h2m2 0h2m0 0h2m-55 1h2m3 0h2m6 0h2m-1 0h2m-1 0h2m0 0h2m1 0h2m0 0h2m-1 0h2m-1 0h2m0 0h2m-1 0h2m-1 0h2m-1 0h2m-1 0h2m-1 0h2m-1 0h2m-1 0h2m0 0h2m2 0h2m-1 0h2m4 0h2m1 0h2m0 0h2m0 0h2m3 0h2m-65 1h2m11 0h2m-1 0h2m0 0h2m0 0h2m-1 0h2m-1 0h2m0 0h2m0 0h2m0 0h2m-1 0h2m-1 0h2m-1 0h2m-1 0h2m1 0h2m-1 0h2m0 0h2m0 0h2m-1 0h2m0 0h2m-1 0h2m0 0h2m0 0h2m-1 0h2m-1 0h2m-1 0h2m1 0h2m0 0h2m1 0h2m-53 1h2m3 0h2m4 0h2m-1 0h2m0 0h2m-1 0h2m-1 0h2m1 0h2m0 0h2m-1 0h2m-1 0h2m1 0h2m-1 0h2m-1 0h2m-1 0h2m-1 0h2m-1 0h2m-1 0h2m-1 0h2m-1 0h2m-1 0h2m-1 0h2m0 0h2m-1 0h2m-1 0h2m-1 0h2m-1 0h2m-1 0h2m-1 0h2m-1 0h2m-1 0h2m0 0h2m-45 1h2m-1 0h2m-1 0h2m0 0h2m0 0h2m-1 0h2m0 0h2m-1 0h2m-1 0h2m-1 0h2m-1 0h2m0 0h2m-1 0h2m2 0h2m-1 0h2m-1 0h2m-1 0h2m-1 0h2m-1 0h2m-1 0h2m-1 0h2m-1 0h2m-1 0h2m-1 0h2m-1 0h2m-1 0h2m-1 0h2m5 0h2m0 0h2m-1 0h2m0 0h2m-1 0h2m-1 0h2m-1 0h2m-59 1h2m5 0h2m0 0h2m-1 0h2m-1 0h2m0 0h2m-1 0h2m1 0h2m-1 0h2m0 0h2m-1 0h2m-1 0h2m0 0h2m-1 0h2m1 0h2m-1 0h2m2 0h2m0 0h2m0 0h2m1 0h2m2 0h2m1 0h2m0 0h2m0 0h2m1 0h2m14 0h2m-64 1h2m-1 0h2m0 0h2m7 0h2m-1 0h2m-1 0h2m-1 0h2m3 0h2m1 0h2m0 0h2m-1 0h2m-1 0h2m0 0h2m0 0h2m1 0h2m0 0h2m-1 0h2m0 0h2m-1 0h2m-1 0h2m2 0h2m1 0h2m3 0h2m-1 0h2m-65 1h2m5 0h2m-1 0h2m5 0h2m1 0h2m-1 0h2m1 0h2m0 0h2m1 0h2m1 0h2m-1 0h2m-1 0h2m-1 0h2m-1 0h2m-1 0h2m-1 0h2m-1 0h2m-1 0h2m0 0h2m-1 0h2m-1 0h2m-1 0h2m2 0h2m-1 0h2m-1 0h2m0 0h2m-1 0h2m2 0h2m4 0h2m-49 1h2m-1 0h2m1 0h2m0 0h2m1 0h2m1 0h2m0 0h2m0 0h2m-1 0h2m-1 0h2m5 0h2m-1 0h2m-1 0h2m0 0h2m-1 0h2m1 0h2m-1 0h2m-1 0h2m2 0h2m-39 1h2m7 0h2m0 0h2m0 0h2m-1 0h2m-1 0h2m0 0h2m-1 0h2m0 0h2m-1 0h2m-1 0h2m0 0h2m-1 0h2m2 0h2m1 0h2m0 0h2m1 0h2m0 0h2m0 0h2m-58 1h2m5 0h2m2 0h2m-1 0h2m2 0h2m4 0h2m-1 0h2m3 0h2m-1 0h2m-1 0h2m-1 0h2m-1 0h2m0 0h2m0 0h2m0 0h2m1 0h2m4 0h2m0 0h2m19 0h2m-61 1h2m3 0h2m1 0h2m-1 0h2m-1 0h2m-1 0h2m3 0h2m-1 0h2m-1 0h2m-1 0h2m1 0h2m-1 0h2m1 0h2m-1 0h2m-1 0h2m0 0h2m2 0h2m0 0h2m0 0h2m-1 0h2m-1 0h2m1 0h2m-54 1h2m6 0h2m-1 0h2m6 0h2m-1 0h2m1 0h2m0 0h2m-1 0h2m1 0h2m-1 0h2m-1 0h2m-1 0h2m-1 0h2m-1 0h2m-1 0h2m-1 0h2m-1 0h2m-1 0h2m-1 0h2m-1 0h2m-1 0h2m-1 0h2m-1 0h2m2 0h2m16 0h2m-57 1h2m5 0h2m0 0h2m-1 0h2m2 0h2m0 0h2m-1 0h2m-1 0h2m-1 0h2m1 0h2m0 0h2m-1 0h2m3 0h2m-1 0h2m0 0h2m2 0h2m-1 0h2m1 0h2m0 0h2m-54 1h2m12 0h2m4 0h2m-1 0h2m-1 0h2m2 0h2m3 0h2m0 0h2m-1 0h2m0 0h2m-1 0h2m0 0h2m-1 0h2m0 0h2m1 0h2m-39 1h2m-1 0h2m2 0h2m0 0h2m0 0h2m0 0h2m-1 0h2m7 0h2m-1 0h2m10 0h2m2 0h2m-50 1h2m12 0h2m0 0h2m-1 0h2m4 0h2m-1 0h2m1 0h2m0 0h2m2 0h2m-1 0h2m-1 0h2m1 0h2m0 0h2m1 0h2m15 0h2m-44 1h2m6 0h2m3 0h2m2 0h2m4 0h2m1 0h2m2 0h2m23 0h2m-64 1h2m1 0h2m5 0h2m2 0h2m0 0h2m2 0h2m-1 0h2m0 0h2m14 0h2m8 0h2m-48 1h2m0 0h2m1 0h2m0 0h2m-1 0h2m3 0h2m2 0h2m4 0h2m0 0h2m0 0h2m0 0h2m3 0h2m8 0h2m-55 1h2m15 0h2m1 0h2m3 0h2m0 0h2m9 0h2m-1 0h2m-1 0h2m8 0h2m-56 1h2m21 0h2m3 0h2m0 0h2m1 0h2m1 0h2m5 0h2m1 0h2m13 0h2m-49 1h2m4 0h2m4 0h2m-1 0h2m9 0h2m-1 0h2m2 0h2m0 0h2m-26 1h2m-1 0h2m0 0h2m4 0h2m0 0h2m5 0h2m-17 1h2m9 0h2m5 0h2m11 0h2m-37 1h2m7 0h2m4 0h2m6 0h2m-14 1h2m10 0h2m-19 1h2m0 0h2m3 0h2m0 0h2m0 0h2m-6 1h2m3 0h2m-14 1h2m1 0h2m27 5h2m-34 3h2m-6 1h2m13 0h2m-6 3h2m7 0h2m12 0h2m1 0h2m-47 1h2m5 0h2m4 0h2m6 0h2m5 0h2m13 0h2m-37 1h2m13 0h2m16 0h2m-43 1h2m7 0h2m2 0h2m16 0h2m-20 1h2m2 0h2m8 0h2m-1 0h2m8 0h2m-36 1h2m6 0h2m7 0h2m4 0h2m-1 0h2m-39 1h2m11 0h2m1 0h2m-1 0h2m1 0h2m26 0h2m-41 1h2m-1 0h2m0 0h2m-1 0h2m22 0h2m1 0h2m2 0h2m3 0h2m-45 1h2m2 0h2m-1 0h2m2 0h2m0 0h2m0 0h2m7 0h2m1 0h2m2 0h2m1 0h2m-1 0h2m3 0h2m3 0h2m3 0h2m-37 1h2m2 0h2m-1 0h2m-1 0h2m2 0h2m1 0h2m1 0h2m-1 0h2m12 0h2m2 0h2m-42 1h2m-1 0h2m2 0h2m1 0h2m1 0h2m1 0h2m6 0h2m-1 0h2m0 0h2m-1 0h2m-38 1h2m0 0h2m2 0h2m2 0h2m6 0h2m1 0h2m0 0h2m0 0h2m1 0h2m1 0h2m2 0h2m-41 1h2m8 0h2m1 0h2m2 0h2m1 0h2m4 0h2m0 0h2m0 0h2m-1 0h2m-1 0h2m-1 0h2m-1 0h2m-1 0h2m2 0h2m-31 1h2m0 0h2m0 0h2m4 0h2m-1 0h2m2 0h2m-1 0h2m1 0h2m1 0h2m-38 1h2m7 0h2m5 0h2m0 0h2m-1 0h2m7 0h2m4 0h2m11 0h2m2 0h2m-38 1h2m3 0h2m4 0h2m2 0h2m0 0h2m-1 0h2m2 0h2m-1 0h2m0 0h2m4 0h2m3 0h2m-40 1h2m6 0h2m1 0h2m-1 0h2m-1 0h2m-1 0h2m-1 0h2m-1 0h2m-1 0h2m-1 0h2m-1 0h2m-1 0h2m1 0h2m4 0h2m1 0h2m-1 0h2m3 0h2m11 0h2m-59 1h2m-1 0h2m7 0h2m0 0h2m-1 0h2m0 0h2m-1 0h2m-1 0h2m1 0h2m2 0h2m1 0h2m1 0h2m6 0h2m0 0h2m-1 0h2m11 0h2m-61 1h2m2 0h2m0 0h2m7 0h2m3 0h2m1 0h2m-1 0h2m3 0h2m0 0h2m3 0h2m2 0h2m-1 0h2m-1 0h2m-1 0h2m0 0h2m12 0h2m-54 1h2m2 0h2m3 0h2m4 0h2m0 0h2m2 0h2m-1 0h2m1 0h2m-1 0h2m1 0h2m0 0h2m2 0h2m4 0h2m4 0h2m-57 1h2m-1 0h2m7 0h2m2 0h2m4 0h2m0 0h2m-1 0h2m-1 0h2m-1 0h2m3 0h2m-1 0h2m-1 0h2m0 0h2m-1 0h2m0 0h2m1 0h2m1 0h2m5 0h2m-1 0h2m0 0h2m-50 1h2m1 0h2m2 0h2m1 0h2m-1 0h2m-1 0h2m0 0h2m2 0h2m1 0h2m-1 0h2m-1 0h2m-1 0h2m3 0h2m0 0h2m12 0h2m-44 1h2m1 0h2m-1 0h2m2 0h2m-1 0h2m2 0h2m0 0h2m-1 0h2m1 0h2m1 0h2m-1 0h2m1 0h2m2 0h2m-1 0h2m-1 0h2m-1 0h2m-1 0h2m-37 1h2m4 0h2m-1 0h2m-1 0h2m2 0h2m3 0h2m-1 0h2m5 0h2m-1 0h2m2 0h2m-1 0h2m3 0h2m-1 0h2m2 0h2m-51 1h2m2 0h2m-1 0h2m0 0h2m6 0h2m1 0h2m0 0h2m2 0h2m-1 0h2m-1 0h2m-1 0h2m0 0h2m-1 0h2m4 0h2m-1 0h2m3 0h2m-1 0h2m-1 0h2m-1 0h2m1 0h2m6 0h2m-55 1h2m7 0h2m2 0h2m-1 0h2m3 0h2m0 0h2m-1 0h2m-1 0h2m-1 0h2m2 0h2m2 0h2m-1 0h2m0 0h2m-1 0h2m-1 0h2m0 0h2m0 0h2m1 0h2m0 0h2m-1 0h2m1 0h2m-49 1h2m-1 0h2m2 0h2m0 0h2m-1 0h2m0 0h2m6 0h2m-1 0h2m-1 0h2m-1 0h2m1 0h2m-1 0h2m0 0h2m1 0h2m0 0h2m-1 0h2m0 0h2m-1 0h2m-1 0h2m-1 0h2m0 0h2m-1 0h2m-1 0h2m2 0h2m-1 0h2m1 0h2m1 0h2m-61 1h2m7 0h2m1 0h2m0 0h2m4 0h2m1 0h2m0 0h2m-1 0h2m-1 0h2m-1 0h2m-1 0h2m-1 0h2m1 0h2m-1 0h2m-1 0h2m-1 0h2m5 0h2m0 0h2m-1 0h2m3 0h2m3 0h2m-52 1h2m1 0h2m-1 0h2m2 0h2m5 0h2m-1 0h2m-1 0h2m-1 0h2m-1 0h2m-1 0h2m-1 0h2m-1 0h2m0 0h2m3 0h2m0 0h2m1 0h2m-1 0h2m0 0h2m2 0h2m7 0h2m1 0h2m-54 1h2m-1 0h2m1 0h2m3 0h2m-1 0h2m0 0h2m-1 0h2m0 0h2m-1 0h2m-1 0h2m-1 0h2m-1 0h2m0 0h2m0 0h2m0 0h2m-1 0h2m-1 0h2m-1 0h2m-1 0h2m-1 0h2m0 0h2m0 0h2m10 0h2m-44 1h2m1 0h2m0 0h2m-1 0h2m1 0h2m-1 0h2m-1 0h2m-1 0h2m-1 0h2m1 0h2m-1 0h2m-1 0h2m-1 0h2m-1 0h2m0 0h2m0 0h2m-1 0h2m-1 0h2m0 0h2m1 0h2m8 0h2m1 0h2m-51 1h2m1 0h2m0 0h2m1 0h2m1 0h2m0 0h2m0 0h2m0 0h2m0 0h2m0 0h2m0 0h2m-1 0h2m-1 0h2m0 0h2m-1 0h2m-1 0h2m-1 0h2m0 0h2m-1 0h2m-1 0h2m-1 0h2m0 0h2m1 0h2m0 0h2m1 0h2m-1 0h2m-57 1h2m2 0h2m3 0h2m4 0h2m0 0h2m-1 0h2m1 0h2m1 0h2m-1 0h2m0 0h2m-1 0h2m-1 0h2m-1 0h2m1 0h2m-1 0h2m-1 0h2m0 0h2m0 0h2m0 0h2m-1 0h2m-1 0h2m-1 0h2m0 0h2m-1 0h2m-1 0h2m-1 0h2m-1 0h2m-1 0h2m4 0h2m1 0h2m-59 1h2m0 0h2m7 0h2m0 0h2m1 0h2m1 0h2m1 0h2m-1 0h2m-1 0h2m-1 0h2m0 0h2m-1 0h2m-1 0h2m-1 0h2m-1 0h2m-1 0h2m1 0h2m-1 0h2m4 0h2m5 0h2m0 0h2m3 0h2m3 0h2m-61 1h2m0 0h2m4 0h2m-1 0h2m0 0h2m-1 0h2m-1 0h2m-1 0h2m-1 0h2m0 0h2m-1 0h2m-1 0h2m-1 0h2m0 0h2m-1 0h2m0 0h2m-1 0h2m-1 0h2m-1 0h2m-1 0h2m-1 0h2m-1 0h2m-1 0h2m0 0h2m-1 0h2m-1 0h2m-1 0h2m-1 0h2m-1 0h2m1 0h2m-1 0h2m-1 0h2m6 0h2m7 0h2m5 0h2m-67 1h2m2 0h2m2 0h2m-1 0h2m3 0h2m0 0h2m-1 0h2m0 0h2m0 0h2m-1 0h2m-1 0h2m-1 0h2m-1 0h2m0 0h2m-1 0h2m-1 0h2m1 0h2m0 0h2m-1 0h2m0 0h2m-1 0h2m1 0h2m-1 0h2m-1 0h2m-1 0h2m-48 1h2m1 0h2m0 0h2m1 0h2m1 0h2m-1 0h2m-1 0h2m1 0h2m-1 0h2m-1 0h2m0 0h2m-1 0h2m-1 0h2m-1 0h2m0 0h2m-1 0h2m-1 0h2m0 0h2m2 0h2m0 0h2m-1 0h2m-1 0h2m-1 0h2m-1 0h2m-1 0h2m4 0h2m-1 0h2m1 0h2m-50 1h2m-1 0h2m6 0h2m-1 0h2m-1 0h2m-1 0h2m-1 0h2m-1 0h2m-1 0h2m-1 0h2m-1 0h2m-1 0h2m0 0h2m-1 0h2m-1 0h2m-1 0h2m0 0h2m0 0h2m-1 0h2m0 0h2m0 0h2m-1 0h2m-1 0h2m0 0h2m0 0h2m2 0h2m-1 0h2m-1 0h2m1 0h2m1 0h2m8 0h2m-64 1h2m2 0h2m1 0h2m0 0h2m0 0h2m0 0h2m0 0h2m1 0h2m-1 0h2m-1 0h2m-1 0h2m-1 0h2m0 0h2m-1 0h2m-1 0h2m-1 0h2m-1 0h2m-1 0h2m2 0h2m-1 0h2m1 0h2m0 0h2m0 0h2m-1 0h2m2 0h2m2 0h2m-1 0h2m4 0h2m-65 1h2m12 0h2m0 0h2m-1 0h2m1 0h2m-1 0h2m-1 0h2m0 0h2m0 0h2m0 0h2m0 0h2m-1 0h2m0 0h2m-1 0h2m-1 0h2m-1 0h2m-1 0h2m-1 0h2m-1 0h2m-1 0h2m1 0h2m0 0h2m0 0h2m-1 0h2m-1 0h2m-1 0h2m-1 0h2m0 0h2m-1 0h2m6 0h2m-57 1h2m1 0h2m0 0h2m5 0h2m0 0h2m-1 0h2m-1 0h2m-1 0h2m-1 0h2m0 0h2m0 0h2m-1 0h2m-1 0h2m-1 0h2m-1 0h2m0 0h2m-1 0h2m-1 0h2m-1 0h2m1 0h2m-1 0h2m-1 0h2m-1 0h2m-1 0h2m0 0h2m-1 0h2m2 0h2m0 0h2m0 0h2m-1 0h2m-1 0h2m-58 1h2m5 0h2m4 0h2m0 0h2m-1 0h2m0 0h2m5 0h2m-1 0h2m-1 0h2m-1 0h2m-1 0h2m-1 0h2m-1 0h2m0 0h2m-1 0h2m0 0h2m-1 0h2m-1 0h2m-1 0h2m-1 0h2m0 0h2m0 0h2m-1 0h2m-1 0h2m0 0h2m-1 0h2m7 0h2m2 0h2m-53 1h2m4 0h2m0 0h2m3 0h2m-1 0h2m-1 0h2m-1 0h2m-1 0h2m0 0h2m-1 0h2m0 0h2m2 0h2m-1 0h2m-1 0h2m5 0h2m-1 0h2m0 0h2m-1 0h2m1 0h2m9 0h2m-65 1h2m0 0h2m2 0h2m11 0h2m1 0h2m0 0h2m0 0h2m-1 0h2m0 0h2m-1 0h2m1 0h2m-1 0h2m2 0h2m0 0h2m-1 0h2m1 0h2m1 0h2m-1 0h2m-49 1h2m3 0h2m8 0h2m-1 0h2m-1 0h2m1 0h2m0 0h2m-1 0h2m-1 0h2m-1 0h2m-1 0h2m-1 0h2m-1 0h2m-1 0h2m3 0h2m-1 0h2m0 0h2m-1 0h2m-1 0h2m1 0h2m4 0h2m0 0h2m7 0h2m-55 1h2m4 0h2m-1 0h2m-1 0h2m-1 0h2m0 0h2m-1 0h2m-1 0h2m-1 0h2m0 0h2m0 0h2m-1 0h2m-1 0h2m2 0h2m3 0h2m1 0h2m1 0h2m-1 0h2m-1 0h2m-1 0h2m0 0h2m-1 0h2m0 0h2m4 0h2m1 0h2m-60 1h2m11 0h2m4 0h2m-1 0h2m-1 0h2m-1 0h2m-1 0h2m0 0h2m0 0h2m-1 0h2m-1 0h2m2 0h2m-1 0h2m0 0h2m3 0h2m1 0h2m-1 0h2m-1 0h2m-32 1h2m0 0h2m-1 0h2m1 0h2m1 0h2m0 0h2m-1 0h2m-1 0h2m-1 0h2m-1 0h2m0 0h2m2 0h2m6 0h2m0 0h2m2 0h2m0 0h2m6 0h2m-1 0h2m-52 1h2m-1 0h2m2 0h2m1 0h2m0 0h2m0 0h2m-1 0h2m0 0h2m1 0h2m0 0h2m-1 0h2m-1 0h2m-1 0h2m0 0h2m0 0h2m1 0h2m-1 0h2m-1 0h2m2 0h2m2 0h2m-38 1h2m-1 0h2m0 0h2m-1 0h2m1 0h2m-1 0h2m0 0h2m0 0h2m-1 0h2m-1 0h2m-1 0h2m0 0h2m-1 0h2m2 0h2m-1 0h2m0 0h2m-1 0h2m0 0h2m9 0h2m0 0h2m-50 1h2m1 0h2m2 0h2m-1 0h2m2 0h2m-1 0h2m1 0h2m0 0h2m2 0h2m0 0h2m0 0h2m0 0h2m0 0h2m1 0h2m1 0h2m5 0h2m-58 1h2m16 0h2m-1 0h2m0 0h2m-1 0h2m-1 0h2m-1 0h2m-1 0h2m0 0h2m3 0h2m0 0h2m-1 0h2m-1 0h2m-1 0h2m1 0h2m-1 0h2m21 0h2m-49 1h2m0 0h2m-1 0h2m-1 0h2m-1 0h2m3 0h2m2 0h2m-1 0h2m-1 0h2m-1 0h2m1 0h2m1 0h2m5 0h2m1 0h2m1 0h2m4 0h2m7 0h2m-63 1h2m3 0h2m0 0h2m1 0h2m-1 0h2m-1 0h2m3 0h2m-1 0h2m3 0h2m0 0h2m1 0h2m-1 0h2m4 0h2m1 0h2m-1 0h2m-1 0h2m7 0h2m0 0h2m-44 1h2m0 0h2m11 0h2m-1 0h2m4 0h2m0 0h2m4 0h2m3 0h2m3 0h2m-45 1h2m-1 0h2m4 0h2m1 0h2m-1 0h2m0 0h2m-1 0h2m2 0h2m7 0h2m2 0h2m0 0h2m3 0h2m-38 1h2m4 0h2m-1 0h2m1 0h2m-1 0h2m1 0h2m-1 0h2m1 0h2m-1 0h2m8 0h2m6 0h2m-48 1h2m-1 0h2m13 0h2m-1 0h2m0 0h2m0 0h2m5 0h2m1 0h2m5 0h2m7 0h2m-45 1h2m5 0h2m3 0h2m4 0h2m4 0h2m-1 0h2m-1 0h2m-1 0h2m-1 0h2m-1 0h2m4 0h2m0 0h2m15 0h2m-60 1h2m2 0h2m2 0h2m-1 0h2m5 0h2m2 0h2m5 0h2m-1 0h2m2 0h2m-28 1h2m10 0h2m-1 0h2m-1 0h2m2 0h2m1 0h2m0 0h2m0 0h2m4 0h2m1 0h2m0 0h2m15 0h2m-51 1h2m-1 0h2m-1 0h2m10 0h2m15 0h2m-23 1h2m11 0h2m-14 1h2m1 0h2m1 0h2m1 0h2m2 0h2m15 0h2m-46 1h2m0 0h2m1 0h2m0 0h2m1 0h2m4 0h2m-1 0h2m0 0h2m13 0h2m-40 1h2m7 0h2m23 0h2m18 0h2m-39 1h2m0 0h2m5 0h2m4 0h2m4 0h2m-36 1h2m2 0h2m10 0h2m6 0h2m5 0h2m-7 1h2m-12 1h2m7 0h2m1 0h2m6 0h2m-34 1h2m21 1h2m-17 1h2m4 0h2m-3 2h2m-1 0h2m0 0h2m-9 1h2m4 0h2m-15 1h2m25 0h2m-12 1h2m0 0h2m10 1h2m-12 1h2m-11 1h2m-5 2h2m7 2h2m-16 1h2m21 9h2" stroke="#222" stroke-width="2.40" fill="none"/>
<path d="M86.2 226V318.5M49.9 278H143.6" stroke="#3a3ab8" stroke-width=".55" fill="none"/>
<path d="M49.9 226V318.5" stroke="#999" stroke-width="1.1" fill="none"/>
<path d="M49.9 318.5H143.6" stroke="#555" stroke-width="1.1" fill="none"/>
<path d="M48.5 300.0H49.9M48.5 281.5H49.9M48.5 263.0H49.9M48.5 244.5H49.9M68.6 318.5v1.4M87.4 318.5v1.4M106.1 318.5v1.4M124.9 318.5v1.4" stroke="#888" stroke-width=".7" fill="none"/>
<text x="52.1" y="232.1" font-size="4.5" fill="#5050a8" stroke="#5050a8" stroke-width=".12" text-anchor="start">47.9</text>
<text x="142.4" y="232.1" font-size="4.5" fill="#5050a8" stroke="#5050a8" stroke-width=".12" text-anchor="end">7.68</text>
<text x="52.1" y="316.9" font-size="4.5" fill="#5050a8" stroke="#5050a8" stroke-width=".12" text-anchor="start">38.1</text>
<text x="142.4" y="316.9" font-size="4.5" fill="#5050a8" stroke="#5050a8" stroke-width=".12" text-anchor="end">6.32</text>
<text x="96.8" y="325.9" font-size="5.4" font-weight="bold" fill="#333" text-anchor="middle" textLength="9.4" lengthAdjust="spacingAndGlyphs" stroke="#333" stroke-width="0.14">GFP</text>
<text transform="translate(45.5,272.2) rotate(-90)" font-size="5" font-weight="bold" fill="#333" text-anchor="middle" textLength="8.8" lengthAdjust="spacingAndGlyphs" stroke="#333" stroke-width="0.14">CD4</text>
<path filter="url(#soft)" transform="scale(0.333333)" d="M696 682h2m-40 15h2m-189 11h2m117 8h2m37 24h2m-94 1h2m76 9h2m-123 3h2m48 1h2m107 1h2m-171 15h2m48 7h2m-16 3h2m19 4h2m197 0h2m-185 2h2m-38 1h2m11 0h2m18 1h2m-2 1h2m-5 1h2m1 0h2m-35 1h2m27 0h2m-20 1h2m6 0h2m10 0h2m9 0h2m-17 1h2m-14 1h2m9 0h2m5 0h2m-16 1h2m14 0h2m1 0h2m-37 1h2m9 0h2m3 0h2m7 0h2m17 0h2m-37 1h2m15 0h2m-28 1h2m9 0h2m8 1h2m6 0h2m1 0h2m-26 1h2m3 0h2m13 1h2m-26 1h2m13 0h2m-31 1h2m12 0h2m-7 1h2m2 0h2m9 0h2m5 0h2m7 0h2m19 0h2m-31 1h2m5 0h2m164 0h2m-176 2h2m8 2h2m27 0h2m15 0h2m-69 1h2m-38 1h2m30 0h2m8 2h2m-7 1h2m23 1h2m144 3h2m-170 2h2m73 0h2m-73 36h2m91 16h2m-95 18h2m61 10h2m119 0h2m-12 9h2m-94 4h2m-30 27h2m121 9h2" stroke="#5a5a5a" stroke-width="2.40" fill="none"/>
<path filter="url(#soft)" transform="scale(0.333333)" d="M505 758h2m-2 5h2m-4 1h2m6 0h2m-21 3h2m25 1h2m105 0h2m-126 1h2m-24 1h2m0 0h2m13 0h2m-5 1h2m1 0h2m-10 1h2m-1 1h2m9 0h2m179 0h2m-182 1h2m139 0h2m-165 1h2m18 0h2m79 0h2m31 0h2m-138 1h2m2 0h2m13 0h2m13 0h2m0 0h2m104 0h2m35 0h2m-163 1h2m3 0h2m15 0h2m113 0h2m2 0h2m34 0h2m3 0h2m-183 1h2m19 0h2m3 0h2m1 0h2m119 0h2m4 0h2m22 0h2m-179 1h2m2 0h2m106 0h2m0 0h2m19 0h2m17 0h2m-166 1h2m3 0h2m0 0h2m-1 0h2m-1 0h2m1 0h2m0 0h2m19 0h2m99 0h2m32 0h2m-165 1h2m14 0h2m1 0h2m-1 0h2m0 0h2m0 0h2m112 0h2m3 0h2m2 0h2m3 0h2m11 0h2m0 0h2m0 0h2m26 0h2m10 0h2m-212 1h2m7 0h2m35 0h2m92 0h2m10 0h2m2 0h2m4 0h2m1 0h2m-183 1h2m13 0h2m-1 0h2m-1 0h2m-1 0h2m13 0h2m2 0h2m78 0h2m10 0h2m18 0h2m4 0h2m4 0h2m0 0h2m0 0h2m-155 1h2m6 0h2m0 0h2m9 0h2m3 0h2m1 0h2m62 0h2m35 0h2m5 0h2m12 0h2m2 0h2m2 0h2m-1 0h2m-1 0h2m6 0h2m0 0h2m-1 0h2m-188 1h2m5 0h2m-1 0h2m-1 0h2m-1 0h2m7 0h2m3 0h2m-1 0h2m0 0h2m0 0h2m0 0h2m11 0h2m94 0h2m-1 0h2m1 0h2m11 0h2m8 0h2m1 0h2m13 0h2m3 0h2m11 0h2m-203 1h2m5 0h2m0 0h2m1 0h2m12 0h2m3 0h2m-1 0h2m0 0h2m6 0h2m5 0h2m65 0h2m10 0h2m3 0h2m4 0h2m-1 0h2m2 0h2m-1 0h2m6 0h2m3 0h2m1 0h2m1 0h2m13 0h2m5 0h2m2 0h2m1 0h2m5 0h2m0 0h2m14 0h2m-205 1h2m3 0h2m0 0h2m14 0h2m6 0h2m1 0h2m27 0h2m51 0h2m4 0h2m1 0h2m1 0h2m9 0h2m-1 0h2m0 0h2m-1 0h2m-1 0h2m5 0h2m9 0h2m4 0h2m0 0h2m1 0h2m14 0h2m-187 1h2m2 0h2m-1 0h2m-1 0h2m-1 0h2m-1 0h2m-1 0h2m2 0h2m-1 0h2m3 0h2m3 0h2m75 0h2m4 0h2m1 0h2m13 0h2m9 0h2m5 0h2m6 0h2m4 0h2m-1 0h2m2 0h2m-1 0h2m-1 0h2m2 0h2m1 0h2m-191 1h2m0 0h2m2 0h2m2 0h2m2 0h2m0 0h2m3 0h2m0 0h2m-1 0h2m1 0h2m16 0h2m2 0h2m62 0h2m5 0h2m0 0h2m16 0h2m6 0h2m2 0h2m-1 0h2m2 0h2m11 0h2m-1 0h2m-1 0h2m-1 0h2m10 0h2m3 0h2m0 0h2m-1 0h2m7 0h2m4 0h2m-209 1h2m3 0h2m2 0h2m2 0h2m0 0h2m0 0h2m1 0h2m2 0h2m1 0h2m2 0h2m5 0h2m74 0h2m3 0h2m8 0h2m-1 0h2m2 0h2m7 0h2m6 0h2m-1 0h2m-1 0h2m-1 0h2m3 0h2m6 0h2m6 0h2m0 0h2m5 0h2m0 0h2m4 0h2m3 0h2m-209 1h2m12 0h2m4 0h2m5 0h2m-1 0h2m-1 0h2m-1 0h2m2 0h2m1 0h2m-1 0h2m1 0h2m2 0h2m81 0h2m-1 0h2m9 0h2m1 0h2m1 0h2m-1 0h2m7 0h2m5 0h2m8 0h2m0 0h2m-1 0h2m-1 0h2m1 0h2m-1 0h2m-1 0h2m5 0h2m-1 0h2m2 0h2m0 0h2m6 0h2m14 0h2m5 0h2m1 0h2m3 0h2m2 0h2m-227 1h2m0 0h2m2 0h2m1 0h2m6 0h2m-1 0h2m1 0h2m3 0h2m1 0h2m56 0h2m29 0h2m0 0h2m0 0h2m4 0h2m0 0h2m0 0h2m1 0h2m-1 0h2m7 0h2m1 0h2m2 0h2m7 0h2m-1 0h2m3 0h2m14 0h2m7 0h2m-203 1h2m3 0h2m6 0h2m1 0h2m3 0h2m6 0h2m0 0h2m0 0h2m-1 0h2m0 0h2m1 0h2m3 0h2m0 0h2m-1 0h2m1 0h2m63 0h2m4 0h2m-1 0h2m6 0h2m0 0h2m0 0h2m9 0h2m5 0h2m4 0h2m2 0h2m3 0h2m10 0h2m15 0h2m0 0h2m2 0h2m16 0h2m-221 1h2m19 0h2m7 0h2m2 0h2m1 0h2m7 0h2m30 0h2m19 0h2m20 0h2m0 0h2m21 0h2m-1 0h2m-1 0h2m3 0h2m0 0h2m-1 0h2m0 0h2m0 0h2m6 0h2m1 0h2m2 0h2m7 0h2m8 0h2m7 0h2m6 0h2m2 0h2m8 0h2m-232 1h2m1 0h2m6 0h2m1 0h2m5 0h2m4 0h2m1 0h2m-1 0h2m-1 0h2m1 0h2m8 0h2m1 0h2m9 0h2m0 0h2m46 0h2m39 0h2m7 0h2m-1 0h2m0 0h2m-1 0h2m8 0h2m4 0h2m1 0h2m-1 0h2m-1 0h2m-1 0h2m0 0h2m4 0h2m0 0h2m7 0h2m-195 1h2m1 0h2m0 0h2m0 0h2m0 0h2m-1 0h2m4 0h2m-1 0h2m7 0h2m1 0h2m-1 0h2m8 0h2m2 0h2m51 0h2m13 0h2m2 0h2m2 0h2m2 0h2m7 0h2m-1 0h2m4 0h2m-1 0h2m0 0h2m-1 0h2m1 0h2m8 0h2m0 0h2m-1 0h2m0 0h2m3 0h2m-1 0h2m2 0h2m7 0h2m1 0h2m-1 0h2m21 0h2m-205 1h2m0 0h2m2 0h2m1 0h2m-1 0h2m-1 0h2m-1 0h2m0 0h2m-1 0h2m-1 0h2m0 0h2m0 0h2m-1 0h2m-1 0h2m-1 0h2m3 0h2m1 0h2m0 0h2m6 0h2m74 0h2m12 0h2m11 0h2m1 0h2m2 0h2m-1 0h2m1 0h2m0 0h2m1 0h2m3 0h2m0 0h2m1 0h2m-1 0h2m0 0h2m4 0h2m1 0h2m3 0h2m4 0h2m9 0h2m19 0h2m-233 1h2m11 0h2m-1 0h2m-1 0h2m1 0h2m-1 0h2m-1 0h2m-1 0h2m-1 0h2m2 0h2m2 0h2m2 0h2m1 0h2m-1 0h2m82 0h2m0 0h2m2 0h2m8 0h2m5 0h2m0 0h2m2 0h2m-1 0h2m-1 0h2m8 0h2m-1 0h2m6 0h2m4 0h2m5 0h2m-1 0h2m12 0h2m-1 0h2m-1 0h2m-214 1h2m6 0h2m3 0h2m1 0h2m5 0h2m1 0h2m2 0h2m-1 0h2m-1 0h2m10 0h2m-1 0h2m2 0h2m3 0h2m0 0h2m6 0h2m30 0h2m39 0h2m3 0h2m6 0h2m1 0h2m3 0h2m0 0h2m10 0h2m1 0h2m0 0h2m-1 0h2m0 0h2m1 0h2m3 0h2m-1 0h2m6 0h2m21 0h2m16 0h2m-242 1h2m16 0h2m-1 0h2m7 0h2m4 0h2m0 0h2m0 0h2m0 0h2m0 0h2m6 0h2m1 0h2m74 0h2m2 0h2m8 0h2m7 0h2m1 0h2m5 0h2m0 0h2m3 0h2m0 0h2m-1 0h2m-1 0h2m1 0h2m5 0h2m4 0h2m1 0h2m3 0h2m2 0h2m7 0h2m5 0h2m19 0h2m-239 1h2m3 0h2m3 0h2m0 0h2m7 0h2m1 0h2m-1 0h2m4 0h2m-1 0h2m-1 0h2m-1 0h2m-1 0h2m3 0h2m3 0h2m60 0h2m34 0h2m-1 0h2m0 0h2m1 0h2m0 0h2m0 0h2m0 0h2m-1 0h2m0 0h2m4 0h2m7 0h2m0 0h2m0 0h2m11 0h2m-1 0h2m3 0h2m-1 0h2m-1 0h2m1 0h2m0 0h2m-1 0h2m3 0h2m-1 0h2m-207 1h2m5 0h2m2 0h2m-1 0h2m0 0h2m4 0h2m2 0h2m1 0h2m-1 0h2m-1 0h2m3 0h2m-1 0h2m-1 0h2m7 0h2m8 0h2m20 0h2m54 0h2m5 0h2m8 0h2m-1 0h2m-1 0h2m-1 0h2m0 0h2m2 0h2m8 0h2m-1 0h2m-1 0h2m3 0h2m0 0h2m4 0h2m-1 0h2m11 0h2m0 0h2m-204 1h2m1 0h2m0 0h2m4 0h2m0 0h2m3 0h2m-1 0h2m-1 0h2m3 0h2m-1 0h2m0 0h2m6 0h2m0 0h2m1 0h2m10 0h2m95 0h2m-1 0h2m3 0h2m-1 0h2m2 0h2m3 0h2m-1 0h2m1 0h2m-1 0h2m-1 0h2m2 0h2m-1 0h2m2 0h2m0 0h2m-1 0h2m-1 0h2m0 0h2m3 0h2m0 0h2m2 0h2m-209 1h2m4 0h2m1 0h2m0 0h2m2 0h2m0 0h2m1 0h2m0 0h2m0 0h2m4 0h2m-1 0h2m2 0h2m-1 0h2m0 0h2m0 0h2m-1 0h2m-1 0h2m-1 0h2m2 0h2m-1 0h2m1 0h2m17 0h2m67 0h2m17 0h2m0 0h2m-1 0h2m9 0h2m-1 0h2m0 0h2m1 0h2m14 0h2m2 0h2m3 0h2m3 0h2m5 0h2m-206 1h2m14 0h2m-1 0h2m5 0h2m6 0h2m0 0h2m1 0h2m3 0h2m1 0h2m1 0h2m66 0h2m29 0h2m3 0h2m0 0h2m-1 0h2m-1 0h2m4 0h2m3 0h2m-1 0h2m0 0h2m1 0h2m-1 0h2m5 0h2m9 0h2m4 0h2m-205 1h2m2 0h2m16 0h2m11 0h2m0 0h2m7 0h2m0 0h2m1 0h2m0 0h2m53 0h2m37 0h2m3 0h2m1 0h2m2 0h2m1 0h2m-1 0h2m4 0h2m1 0h2m-1 0h2m3 0h2m1 0h2m5 0h2m21 0h2m-212 1h2m15 0h2m2 0h2m1 0h2m-1 0h2m5 0h2m0 0h2m6 0h2m4 0h2m-1 0h2m44 0h2m32 0h2m26 0h2m-1 0h2m6 0h2m3 0h2m2 0h2m7 0h2m17 0h2m-187 1h2m0 0h2m3 0h2m1 0h2m-1 0h2m5 0h2m15 0h2m81 0h2m6 0h2m13 0h2m3 0h2m0 0h2m2 0h2m19 0h2m1 0h2m19 0h2m-206 1h2m4 0h2m0 0h2m-1 0h2m3 0h2m-1 0h2m2 0h2m8 0h2m0 0h2m4 0h2m87 0h2m8 0h2m22 0h2m10 0h2m2 0h2m6 0h2m2 0h2m6 0h2m6 0h2m-208 1h2m7 0h2m4 0h2m0 0h2m1 0h2m4 0h2m3 0h2m7 0h2m-1 0h2m93 0h2m19 0h2m4 0h2m0 0h2m15 0h2m15 0h2m-192 1h2m-1 0h2m1 0h2m1 0h2m-1 0h2m-1 0h2m0 0h2m-1 0h2m0 0h2m0 0h2m108 0h2m15 0h2m0 0h2m3 0h2m19 0h2m1 0h2m7 0h2m9 0h2m4 0h2m-217 1h2m13 0h2m10 0h2m0 0h2m0 0h2m-1 0h2m6 0h2m13 0h2m96 0h2m8 0h2m8 0h2m3 0h2m-166 1h2m0 0h2m5 0h2m2 0h2m5 0h2m75 0h2m68 0h2m9 0h2m42 0h2m-231 1h2m10 0h2m3 0h2m4 0h2m17 0h2m72 0h2m14 0h2m18 0h2m5 0h2m3 0h2m-160 1h2m8 0h2m23 0h2m2 0h2m46 0h2m59 0h2m23 0h2m0 0h2m-192 1h2m9 0h2m11 0h2m8 0h2m120 0h2m35 0h2m-181 1h2m17 0h2m-29 1h2m18 0h2m3 0h2m104 0h2m-107 1h2m13 0h2m6 0h2m-41 1h2m12 0h2m0 0h2m-33 1h2m21 0h2m-25 1h2m25 0h2m1 0h2m14 0h2m-25 1h2m29 0h2m108 0h2m-148 1h2m25 0h2m-56 2h2m17 0h2m6 0h2m-5 1h2m18 0h2m-1 0h2m17 1h2m-39 1h2m-5 1h2m9 1h2m8 3h2m3 0h2m-40 2h2m27 0h2m-9 1h2m26 0h2m-34 1h2m6 0h2m-12 1h2m189 1h2m-187 1h2m16 0h2m-14 1h2m0 0h2m1 0h2m7 0h2m-32 1h2m1 0h2m-1 0h2m6 0h2m18 0h2m90 0h2m-146 1h2m30 0h2m18 0h2m-41 1h2m-1 0h2m1 0h2m7 0h2m15 0h2m14 0h2m-57 1h2m9 0h2m0 0h2m14 0h2m24 0h2m94 0h2m-146 1h2m5 0h2m9 0h2m-1 0h2m6 0h2m3 0h2m0 0h2m125 0h2m-157 1h2m5 0h2m6 0h2m5 0h2m15 0h2m6 0h2m108 0h2m-149 1h2m1 0h2m4 0h2m-1 0h2m4 0h2m12 0h2m51 0h2m-99 1h2m3 0h2m0 0h2m8 0h2m-1 0h2m3 0h2m3 0h2m2 0h2m5 0h2m-27 1h2m7 0h2m1 0h2m1 0h2m16 0h2m93 0h2m-145 1h2m0 0h2m5 0h2m3 0h2m0 0h2m0 0h2m3 0h2m-1 0h2m9 0h2m117 0h2m-161 1h2m4 0h2m8 0h2m-1 0h2m-1 0h2m-1 0h2m10 0h2m0 0h2m-1 0h2m-1 0h2m2 0h2m1 0h2m-1 0h2m1 0h2m6 0h2m85 0h2m32 0h2m-167 1h2m2 0h2m1 0h2m-1 0h2m-1 0h2m3 0h2m2 0h2m0 0h2m3 0h2m0 0h2m1 0h2m-1 0h2m-1 0h2m0 0h2m0 0h2m0 0h2m2 0h2m0 0h2m7 0h2m57 0h2m31 0h2m-152 1h2m7 0h2m5 0h2m-1 0h2m2 0h2m0 0h2m1 0h2m-1 0h2m-1 0h2m1 0h2m-1 0h2m0 0h2m3 0h2m-1 0h2m107 0h2m2 0h2m10 0h2m6 0h2m-179 1h2m7 0h2m4 0h2m-1 0h2m-1 0h2m3 0h2m-1 0h2m1 0h2m1 0h2m0 0h2m0 0h2m2 0h2m-1 0h2m-1 0h2m0 0h2m1 0h2m3 0h2m0 0h2m95 0h2m-154 1h2m7 0h2m-1 0h2m9 0h2m0 0h2m1 0h2m0 0h2m3 0h2m-1 0h2m0 0h2m0 0h2m-1 0h2m4 0h2m2 0h2m5 0h2m5 0h2m63 0h2m-120 1h2m1 0h2m0 0h2m0 0h2m2 0h2m-1 0h2m0 0h2m2 0h2m0 0h2m4 0h2m-1 0h2m2 0h2m0 0h2m8 0h2m-1 0h2m83 0h2m-1 0h2m12 0h2m-158 1h2m4 0h2m-1 0h2m3 0h2m-1 0h2m0 0h2m2 0h2m4 0h2m0 0h2m0 0h2m-1 0h2m0 0h2m2 0h2m3 0h2m9 0h2m-1 0h2m12 0h2m34 0h2m24 0h2m-1 0h2m11 0h2m-133 1h2m-1 0h2m-1 0h2m-1 0h2m-1 0h2m1 0h2m1 0h2m-1 0h2m-1 0h2m5 0h2m-1 0h2m0 0h2m0 0h2m-1 0h2m-1 0h2m-1 0h2m0 0h2m-1 0h2m1 0h2m5 0h2m0 0h2m67 0h2m3 0h2m4 0h2m-118 1h2m-1 0h2m-1 0h2m5 0h2m1 0h2m-1 0h2m-1 0h2m0 0h2m-1 0h2m3 0h2m-1 0h2m0 0h2m0 0h2m0 0h2m104 0h2m-146 1h2m0 0h2m0 0h2m-1 0h2m6 0h2m-1 0h2m-1 0h2m-1 0h2m1 0h2m-1 0h2m0 0h2m1 0h2m0 0h2m1 0h2m-1 0h2m-1 0h2m0 0h2m4 0h2m2 0h2m-1 0h2m-1 0h2m6 0h2m42 0h2m31 0h2m-1 0h2m-132 1h2m-1 0h2m4 0h2m1 0h2m4 0h2m-1 0h2m1 0h2m-1 0h2m-1 0h2m-1 0h2m5 0h2m2 0h2m8 0h2m-1 0h2m0 0h2m80 0h2m3 0h2m11 0h2m-165 1h2m5 0h2m4 0h2m-1 0h2m0 0h2m1 0h2m-1 0h2m-1 0h2m2 0h2m-1 0h2m3 0h2m-1 0h2m0 0h2m-1 0h2m0 0h2m0 0h2m0 0h2m2 0h2m-1 0h2m-1 0h2m-1 0h2m-1 0h2m-1 0h2m5 0h2m3 0h2m82 0h2m3 0h2m11 0h2m-150 1h2m0 0h2m1 0h2m2 0h2m-1 0h2m-1 0h2m-1 0h2m0 0h2m2 0h2m1 0h2m0 0h2m-1 0h2m2 0h2m0 0h2m-1 0h2m-1 0h2m1 0h2m6 0h2m76 0h2m3 0h2m36 0h2m-163 1h2m1 0h2m-1 0h2m3 0h2m0 0h2m-1 0h2m0 0h2m-1 0h2m-1 0h2m0 0h2m-1 0h2m0 0h2m-1 0h2m-1 0h2m-1 0h2m-1 0h2m0 0h2m-1 0h2m0 0h2m0 0h2m-1 0h2m0 0h2m-1 0h2m1 0h2m5 0h2m75 0h2m3 0h2m12 0h2m0 0h2m10 0h2m-169 1h2m5 0h2m2 0h2m0 0h2m0 0h2m-1 0h2m2 0h2m0 0h2m2 0h2m1 0h2m0 0h2m1 0h2m0 0h2m-1 0h2m0 0h2m-1 0h2m0 0h2m-1 0h2m-1 0h2m1 0h2m9 0h2m4 0h2m53 0h2m1 0h2m6 0h2m-1 0h2m-1 0h2m38 0h2m-177 1h2m10 0h2m0 0h2m-1 0h2m-1 0h2m2 0h2m-1 0h2m-1 0h2m-1 0h2m0 0h2m-1 0h2m0 0h2m-1 0h2m0 0h2m2 0h2m-1 0h2m-1 0h2m-1 0h2m2 0h2m0 0h2m1 0h2m4 0h2m-1 0h2m0 0h2m16 0h2m60 0h2m0 0h2m2 0h2m1 0h2m2 0h2m1 0h2m3 0h2m1 0h2m11 0h2m3 0h2m-170 1h2m3 0h2m-1 0h2m0 0h2m0 0h2m-1 0h2m-1 0h2m-1 0h2m2 0h2m1 0h2m0 0h2m-1 0h2m-1 0h2m-1 0h2m0 0h2m-1 0h2m0 0h2m0 0h2m0 0h2m-1 0h2m-1 0h2m0 0h2m0 0h2m-1 0h2m1 0h2m5 0h2m54 0h2m11 0h2m12 0h2m14 0h2m8 0h2m-1 0h2m-1 0h2m1 0h2m5 0h2m1 0h2m-183 1h2m5 0h2m-1 0h2m0 0h2m-1 0h2m-1 0h2m-1 0h2m0 0h2m0 0h2m2 0h2m-1 0h2m-1 0h2m-1 0h2m1 0h2m-1 0h2m1 0h2m-1 0h2m-1 0h2m1 0h2m1 0h2m1 0h2m-1 0h2m0 0h2m-1 0h2m-1 0h2m2 0h2m65 0h2m3 0h2m3 0h2m0 0h2m0 0h2m0 0h2m4 0h2m0 0h2m1 0h2m1 0h2m7 0h2m11 0h2m7 0h2m-181 1h2m8 0h2m0 0h2m-1 0h2m0 0h2m0 0h2m0 0h2m0 0h2m-1 0h2m0 0h2m0 0h2m-1 0h2m-1 0h2m-1 0h2m-1 0h2m-1 0h2m0 0h2m-1 0h2m2 0h2m-1 0h2m6 0h2m-1 0h2m0 0h2m-1 0h2m1 0h2m1 0h2m4 0h2m17 0h2m31 0h2m10 0h2m5 0h2m4 0h2m2 0h2m7 0h2m-161 1h2m13 0h2m-1 0h2m1 0h2m-1 0h2m-1 0h2m0 0h2m-1 0h2m-1 0h2m0 0h2m-1 0h2m-1 0h2m1 0h2m0 0h2m-1 0h2m0 0h2m-1 0h2m0 0h2m-1 0h2m-1 0h2m0 0h2m-1 0h2m2 0h2m-1 0h2m-1 0h2m1 0h2m3 0h2m0 0h2m-1 0h2m76 0h2m9 0h2m-1 0h2m7 0h2m0 0h2m-1 0h2m-167 1h2m2 0h2m3 0h2m-1 0h2m-1 0h2m2 0h2m0 0h2m1 0h2m0 0h2m-1 0h2m1 0h2m1 0h2m0 0h2m-1 0h2m0 0h2m-1 0h2m-1 0h2m-1 0h2m-1 0h2m-1 0h2m0 0h2m-1 0h2m0 0h2m1 0h2m-1 0h2m-1 0h2m1 0h2m2 0h2m14 0h2m35 0h2m12 0h2m2 0h2m1 0h2m0 0h2m7 0h2m2 0h2m1 0h2m9 0h2m3 0h2m-1 0h2m6 0h2m6 0h2m-184 1h2m0 0h2m2 0h2m1 0h2m0 0h2m0 0h2m7 0h2m-1 0h2m-1 0h2m-1 0h2m1 0h2m2 0h2m-1 0h2m-1 0h2m-1 0h2m-1 0h2m-1 0h2m1 0h2m-1 0h2m0 0h2m0 0h2m1 0h2m-1 0h2m-1 0h2m3 0h2m-1 0h2m0 0h2m8 0h2m48 0h2m14 0h2m5 0h2m9 0h2m3 0h2m3 0h2m0 0h2m2 0h2m0 0h2m3 0h2m2 0h2m-178 1h2m12 0h2m1 0h2m-1 0h2m-1 0h2m-1 0h2m-1 0h2m0 0h2m-1 0h2m-1 0h2m0 0h2m1 0h2m-1 0h2m-1 0h2m0 0h2m-1 0h2m0 0h2m-1 0h2m-1 0h2m3 0h2m-1 0h2m-1 0h2m0 0h2m-1 0h2m0 0h2m0 0h2m1 0h2m11 0h2m2 0h2m55 0h2m7 0h2m4 0h2m9 0h2m3 0h2m-1 0h2m1 0h2m-166 1h2m5 0h2m0 0h2m1 0h2m2 0h2m0 0h2m0 0h2m0 0h2m1 0h2m-1 0h2m-1 0h2m-1 0h2m0 0h2m-1 0h2m1 0h2m1 0h2m0 0h2m1 0h2m0 0h2m-1 0h2m0 0h2m0 0h2m0 0h2m0 0h2m-1 0h2m7 0h2m34 0h2m37 0h2m9 0h2m-1 0h2m2 0h2m13 0h2m4 0h2m4 0h2m4 0h2m-191 1h2m0 0h2m4 0h2m1 0h2m0 0h2m0 0h2m1 0h2m4 0h2m-1 0h2m1 0h2m-1 0h2m-1 0h2m0 0h2m-1 0h2m-1 0h2m0 0h2m-1 0h2m-1 0h2m-1 0h2m-1 0h2m-1 0h2m1 0h2m0 0h2m0 0h2m1 0h2m3 0h2m5 0h2m-1 0h2m19 0h2m41 0h2m9 0h2m3 0h2m0 0h2m3 0h2m3 0h2m1 0h2m-1 0h2m0 0h2m1 0h2m25 0h2m-198 1h2m13 0h2m1 0h2m0 0h2m-1 0h2m1 0h2m0 0h2m1 0h2m1 0h2m0 0h2m-1 0h2m-1 0h2m-1 0h2m-1 0h2m-1 0h2m0 0h2m-1 0h2m-1 0h2m0 0h2m-1 0h2m-1 0h2m1 0h2m-1 0h2m0 0h2m1 0h2m2 0h2m0 0h2m0 0h2m53 0h2m1 0h2m8 0h2m3 0h2m16 0h2m2 0h2m1 0h2m1 0h2m1 0h2m7 0h2m0 0h2m6 0h2m-186 1h2m9 0h2m6 0h2m-1 0h2m-1 0h2m-1 0h2m0 0h2m-1 0h2m-1 0h2m-1 0h2m0 0h2m-1 0h2m-1 0h2m0 0h2m1 0h2m-1 0h2m2 0h2m-1 0h2m-1 0h2m-1 0h2m0 0h2m-1 0h2m0 0h2m-1 0h2m-1 0h2m1 0h2m1 0h2m12 0h2m33 0h2m24 0h2m16 0h2m0 0h2m-1 0h2m8 0h2m-1 0h2m6 0h2m0 0h2m5 0h2m21 0h2m-201 1h2m-1 0h2m2 0h2m-1 0h2m0 0h2m3 0h2m0 0h2m-1 0h2m1 0h2m1 0h2m-1 0h2m-1 0h2m0 0h2m-1 0h2m-1 0h2m-1 0h2m-1 0h2m-1 0h2m-1 0h2m-1 0h2m0 0h2m-1 0h2m-1 0h2m-1 0h2m2 0h2m2 0h2m-1 0h2m2 0h2m7 0h2m7 0h2m26 0h2m14 0h2m16 0h2m3 0h2m4 0h2m-1 0h2m8 0h2m-1 0h2m3 0h2m-1 0h2m16 0h2m-1 0h2m-178 1h2m7 0h2m0 0h2m1 0h2m-1 0h2m1 0h2m-1 0h2m1 0h2m-1 0h2m-1 0h2m1 0h2m0 0h2m-1 0h2m-1 0h2m0 0h2m0 0h2m-1 0h2m-1 0h2m0 0h2m-1 0h2m-1 0h2m-1 0h2m0 0h2m0 0h2m-1 0h2m5 0h2m1 0h2m6 0h2m33 0h2m24 0h2m7 0h2m2 0h2m1 0h2m8 0h2m4 0h2m13 0h2m8 0h2m-189 1h2m8 0h2m0 0h2m0 0h2m0 0h2m-1 0h2m-1 0h2m-1 0h2m0 0h2m-1 0h2m-1 0h2m-1 0h2m-1 0h2m-1 0h2m0 0h2m-1 0h2m-1 0h2m-1 0h2m0 0h2m-1 0h2m-1 0h2m-1 0h2m-1 0h2m0 0h2m-1 0h2m-1 0h2m-1 0h2m-1 0h2m-1 0h2m0 0h2m-1 0h2m1 0h2m-1 0h2m0 0h2m77 0h2m10 0h2m-1 0h2m4 0h2m-1 0h2m1 0h2m7 0h2m18 0h2m-188 1h2m6 0h2m5 0h2m0 0h2m-1 0h2m0 0h2m2 0h2m-1 0h2m0 0h2m1 0h2m-1 0h2m0 0h2m-1 0h2m0 0h2m0 0h2m-1 0h2m-1 0h2m0 0h2m-1 0h2m-1 0h2m0 0h2m0 0h2m-1 0h2m0 0h2m0 0h2m-1 0h2m3 0h2m58 0h2m15 0h2m5 0h2m1 0h2m0 0h2m3 0h2m7 0h2m-1 0h2m5 0h2m15 0h2m1 0h2m-193 1h2m-1 0h2m7 0h2m3 0h2m3 0h2m0 0h2m-1 0h2m0 0h2m-1 0h2m-1 0h2m0 0h2m-1 0h2m-1 0h2m-1 0h2m-1 0h2m1 0h2m-1 0h2m-1 0h2m-1 0h2m-1 0h2m-1 0h2m0 0h2m-1 0h2m-1 0h2m-1 0h2m-1 0h2m-1 0h2m-1 0h2m1 0h2m1 0h2m2 0h2m9 0h2m53 0h2m2 0h2m8 0h2m4 0h2m8 0h2m-1 0h2m0 0h2m0 0h2m2 0h2m0 0h2m6 0h2m-1 0h2m1 0h2m9 0h2m-188 1h2m2 0h2m-1 0h2m1 0h2m2 0h2m-1 0h2m-1 0h2m1 0h2m1 0h2m-1 0h2m-1 0h2m-1 0h2m0 0h2m0 0h2m-1 0h2m0 0h2m-1 0h2m-1 0h2m-1 0h2m-1 0h2m-1 0h2m-1 0h2m-1 0h2m-1 0h2m0 0h2m-1 0h2m-1 0h2m-1 0h2m-1 0h2m-1 0h2m-1 0h2m-1 0h2m-1 0h2m-1 0h2m-1 0h2m0 0h2m-1 0h2m1 0h2m-1 0h2m9 0h2m47 0h2m15 0h2m5 0h2m7 0h2m-1 0h2m2 0h2m0 0h2m12 0h2m-1 0h2m-174 1h2m12 0h2m2 0h2m0 0h2m-1 0h2m0 0h2m0 0h2m-1 0h2m0 0h2m-1 0h2m-1 0h2m-1 0h2m-1 0h2m-1 0h2m2 0h2m0 0h2m-1 0h2m-1 0h2m0 0h2m-1 0h2m-1 0h2m1 0h2m-1 0h2m0 0h2m9 0h2m59 0h2m16 0h2m-1 0h2m-1 0h2m4 0h2m4 0h2m-1 0h2m1 0h2m2 0h2m-166 1h2m7 0h2m0 0h2m0 0h2m-1 0h2m-1 0h2m-1 0h2m-1 0h2m0 0h2m-1 0h2m-1 0h2m-1 0h2m-1 0h2m0 0h2m-1 0h2m-1 0h2m-1 0h2m1 0h2m-1 0h2m-1 0h2m0 0h2m-1 0h2m0 0h2m-1 0h2m-1 0h2m-1 0h2m0 0h2m-1 0h2m-1 0h2m0 0h2m0 0h2m-1 0h2m-1 0h2m2 0h2m11 0h2m49 0h2m-1 0h2m12 0h2m1 0h2m5 0h2m7 0h2m6 0h2m9 0h2m0 0h2m14 0h2m-191 1h2m1 0h2m4 0h2m-1 0h2m1 0h2m0 0h2m-1 0h2m-1 0h2m0 0h2m1 0h2m-1 0h2m0 0h2m-1 0h2m-1 0h2m-1 0h2m0 0h2m-1 0h2m-1 0h2m-1 0h2m-1 0h2m-1 0h2m-1 0h2m-1 0h2m-1 0h2m-1 0h2m-1 0h2m1 0h2m0 0h2m0 0h2m-1 0h2m1 0h2m0 0h2m-1 0h2m53 0h2m13 0h2m-1 0h2m1 0h2m1 0h2m0 0h2m-1 0h2m-1 0h2m0 0h2m1 0h2m-1 0h2m3 0h2m2 0h2m6 0h2m-1 0h2m0 0h2m2 0h2m2 0h2m-1 0h2m-1 0h2m10 0h2m1 0h2m-187 1h2m-1 0h2m6 0h2m6 0h2m-1 0h2m2 0h2m-1 0h2m-1 0h2m-1 0h2m-1 0h2m-1 0h2m0 0h2m1 0h2m-1 0h2m-1 0h2m-1 0h2m0 0h2m-1 0h2m0 0h2m-1 0h2m1 0h2m-1 0h2m-1 0h2m0 0h2m57 0h2m22 0h2m3 0h2m-1 0h2m1 0h2m7 0h2m-1 0h2m5 0h2m3 0h2m-160 1h2m1 0h2m0 0h2m0 0h2m1 0h2m-1 0h2m1 0h2m-1 0h2m-1 0h2m2 0h2m-1 0h2m-1 0h2m-1 0h2m-1 0h2m0 0h2m0 0h2m-1 0h2m-1 0h2m-1 0h2m0 0h2m-1 0h2m1 0h2m0 0h2m1 0h2m0 0h2m-1 0h2m-1 0h2m4 0h2m1 0h2m4 0h2m54 0h2m16 0h2m2 0h2m-1 0h2m5 0h2m1 0h2m8 0h2m7 0h2m1 0h2m4 0h2m8 0h2m-186 1h2m0 0h2m-1 0h2m-1 0h2m1 0h2m-1 0h2m1 0h2m1 0h2m-1 0h2m-1 0h2m-1 0h2m-1 0h2m-1 0h2m-1 0h2m-1 0h2m-1 0h2m-1 0h2m0 0h2m0 0h2m0 0h2m-1 0h2m-1 0h2m3 0h2m0 0h2m1 0h2m-1 0h2m0 0h2m9 0h2m8 0h2m33 0h2m7 0h2m7 0h2m5 0h2m14 0h2m2 0h2m0 0h2m-1 0h2m0 0h2m3 0h2m7 0h2m3 0h2m2 0h2m24 0h2m-205 1h2m6 0h2m-1 0h2m1 0h2m-1 0h2m0 0h2m0 0h2m-1 0h2m-1 0h2m-1 0h2m-1 0h2m0 0h2m-1 0h2m-1 0h2m-1 0h2m0 0h2m-1 0h2m-1 0h2m2 0h2m-1 0h2m0 0h2m1 0h2m-1 0h2m0 0h2m1 0h2m5 0h2m0 0h2m25 0h2m27 0h2m9 0h2m7 0h2m4 0h2m-1 0h2m1 0h2m0 0h2m0 0h2m-1 0h2m1 0h2m5 0h2m1 0h2m11 0h2m26 0h2m-193 1h2m2 0h2m-1 0h2m0 0h2m-1 0h2m0 0h2m0 0h2m-1 0h2m-1 0h2m-1 0h2m3 0h2m-1 0h2m0 0h2m-1 0h2m4 0h2m2 0h2m3 0h2m2 0h2m0 0h2m56 0h2m10 0h2m0 0h2m-1 0h2m-1 0h2m2 0h2m-1 0h2m2 0h2m18 0h2m0 0h2m-154 1h2m4 0h2m0 0h2m0 0h2m-1 0h2m-1 0h2m1 0h2m-1 0h2m1 0h2m-1 0h2m-1 0h2m1 0h2m0 0h2m-1 0h2m0 0h2m-1 0h2m0 0h2m2 0h2m-1 0h2m-1 0h2m56 0h2m4 0h2m6 0h2m0 0h2m1 0h2m5 0h2m6 0h2m-1 0h2m7 0h2m3 0h2m14 0h2m0 0h2m-173 1h2m3 0h2m4 0h2m0 0h2m-1 0h2m-1 0h2m-1 0h2m-1 0h2m-1 0h2m0 0h2m-1 0h2m-1 0h2m-1 0h2m-1 0h2m-1 0h2m1 0h2m-1 0h2m-1 0h2m-1 0h2m-1 0h2m1 0h2m-1 0h2m-1 0h2m-1 0h2m-1 0h2m0 0h2m3 0h2m1 0h2m-1 0h2m0 0h2m-1 0h2m1 0h2m5 0h2m44 0h2m0 0h2m6 0h2m4 0h2m2 0h2m4 0h2m1 0h2m1 0h2m2 0h2m1 0h2m2 0h2m4 0h2m12 0h2m-1 0h2m-172 1h2m0 0h2m2 0h2m-1 0h2m0 0h2m-1 0h2m-1 0h2m0 0h2m-1 0h2m-1 0h2m1 0h2m1 0h2m1 0h2m-1 0h2m0 0h2m-1 0h2m-1 0h2m1 0h2m1 0h2m2 0h2m-1 0h2m-1 0h2m0 0h2m2 0h2m3 0h2m-1 0h2m1 0h2m53 0h2m5 0h2m-1 0h2m0 0h2m5 0h2m0 0h2m5 0h2m6 0h2m-1 0h2m2 0h2m0 0h2m4 0h2m8 0h2m-168 1h2m2 0h2m-1 0h2m0 0h2m0 0h2m0 0h2m0 0h2m-1 0h2m-1 0h2m-1 0h2m-1 0h2m3 0h2m-1 0h2m-1 0h2m-1 0h2m0 0h2m-1 0h2m-1 0h2m1 0h2m-1 0h2m3 0h2m-1 0h2m1 0h2m-1 0h2m-1 0h2m1 0h2m0 0h2m-1 0h2m7 0h2m7 0h2m55 0h2m8 0h2m4 0h2m6 0h2m5 0h2m5 0h2m-177 1h2m5 0h2m7 0h2m2 0h2m0 0h2m2 0h2m1 0h2m-1 0h2m1 0h2m0 0h2m1 0h2m-1 0h2m1 0h2m0 0h2m0 0h2m-1 0h2m1 0h2m0 0h2m-1 0h2m0 0h2m70 0h2m0 0h2m9 0h2m7 0h2m0 0h2m5 0h2m2 0h2m0 0h2m6 0h2m0 0h2m15 0h2m-190 1h2m2 0h2m0 0h2m8 0h2m4 0h2m4 0h2m-1 0h2m-1 0h2m-1 0h2m2 0h2m-1 0h2m0 0h2m3 0h2m-1 0h2m2 0h2m0 0h2m-1 0h2m72 0h2m10 0h2m8 0h2m2 0h2m0 0h2m2 0h2m2 0h2m0 0h2m11 0h2m1 0h2m-186 1h2m2 0h2m9 0h2m5 0h2m-1 0h2m-1 0h2m6 0h2m-1 0h2m0 0h2m-1 0h2m3 0h2m-1 0h2m-1 0h2m0 0h2m0 0h2m3 0h2m0 0h2m4 0h2m3 0h2m2 0h2m43 0h2m22 0h2m7 0h2m21 0h2m-152 1h2m-1 0h2m0 0h2m-1 0h2m-1 0h2m0 0h2m-1 0h2m-1 0h2m-1 0h2m1 0h2m2 0h2m1 0h2m-1 0h2m3 0h2m0 0h2m1 0h2m-1 0h2m3 0h2m14 0h2m25 0h2m20 0h2m-1 0h2m24 0h2m13 0h2m4 0h2m1 0h2m-155 1h2m-1 0h2m8 0h2m-1 0h2m3 0h2m-1 0h2m-1 0h2m1 0h2m4 0h2m1 0h2m0 0h2m-1 0h2m3 0h2m2 0h2m0 0h2m2 0h2m2 0h2m37 0h2m6 0h2m10 0h2m3 0h2m6 0h2m4 0h2m2 0h2m-1 0h2m6 0h2m0 0h2m7 0h2m-175 1h2m3 0h2m5 0h2m2 0h2m9 0h2m-1 0h2m2 0h2m0 0h2m-1 0h2m-1 0h2m4 0h2m3 0h2m-1 0h2m0 0h2m0 0h2m-1 0h2m1 0h2m10 0h2m38 0h2m40 0h2m-147 1h2m5 0h2m8 0h2m2 0h2m0 0h2m0 0h2m5 0h2m3 0h2m5 0h2m4 0h2m4 0h2m58 0h2m17 0h2m-1 0h2m23 0h2m2 0h2m3 0h2m-159 1h2m3 0h2m1 0h2m-1 0h2m-1 0h2m0 0h2m-1 0h2m-1 0h2m1 0h2m6 0h2m14 0h2m69 0h2m21 0h2m4 0h2m-155 1h2m15 0h2m1 0h2m5 0h2m-1 0h2m-1 0h2m-1 0h2m22 0h2m106 0h2m-155 1h2m2 0h2m-1 0h2m7 0h2m-1 0h2m3 0h2m0 0h2m-1 0h2m-1 0h2m2 0h2m0 0h2m-1 0h2m-1 0h2m-1 0h2m0 0h2m2 0h2m0 0h2m1 0h2m74 0h2m1 0h2m11 0h2m12 0h2m5 0h2m-172 1h2m-1 0h2m11 0h2m5 0h2m2 0h2m0 0h2m3 0h2m1 0h2m-1 0h2m0 0h2m0 0h2m0 0h2m1 0h2m105 0h2m12 0h2m16 0h2m5 0h2m-169 1h2m7 0h2m5 0h2m7 0h2m-1 0h2m71 0h2m5 0h2m16 0h2m5 0h2m2 0h2m-166 1h2m9 0h2m9 0h2m3 0h2m-1 0h2m-1 0h2m0 0h2m3 0h2m2 0h2m2 0h2m-1 0h2m1 0h2m7 0h2m77 0h2m12 0h2m5 0h2m5 0h2m6 0h2m4 0h2m-162 1h2m8 0h2m-1 0h2m-1 0h2m1 0h2m0 0h2m-1 0h2m0 0h2m1 0h2m0 0h2m0 0h2m6 0h2m4 0h2m112 0h2m0 0h2m-126 1h2m88 0h2m18 0h2m-1 0h2m6 0h2m-147 1h2m6 0h2m9 0h2m3 0h2m39 0h2m48 0h2m8 0h2m10 0h2m-1 0h2m0 0h2m14 0h2m-171 1h2m11 0h2m10 0h2m5 0h2m2 0h2m19 0h2m-43 1h2m4 0h2m-1 0h2m-1 0h2m0 0h2m1 0h2m-1 0h2m2 0h2m0 0h2m1 0h2m124 0h2m8 0h2m-178 1h2m25 0h2m0 0h2m1 0h2m86 0h2m-116 1h2m5 0h2m10 0h2m-1 0h2m2 0h2m3 0h2m1 0h2m14 0h2m14 0h2m71 0h2m23 0h2m-161 1h2m19 0h2m13 0h2m12 0h2m105 0h2m-131 1h2m11 0h2m-8 1h2m-35 1h2m3 0h2m14 0h2m2 0h2m130 0h2m-151 1h2m20 0h2m0 0h2m92 0h2m-124 1h2m9 0h2m-12 1h2m12 1h2m-6 1h2m167 0h2m-171 5h2" stroke="#222" stroke-width="2.40" fill="none"/>
<path d="M191.1 226V318.5M154.4 278H248.6" stroke="#3a3ab8" stroke-width=".55" fill="none"/>
<path d="M154.4 226V318.5" stroke="#999" stroke-width="1.1" fill="none"/>
<path d="M154.4 318.5H248.6" stroke="#555" stroke-width="1.1" fill="none"/>
<path d="M153.0 300.0H154.4M153.0 281.5H154.4M153.0 263.0H154.4M153.0 244.5H154.4M173.2 318.5v1.4M192.1 318.5v1.4M210.9 318.5v1.4M229.8 318.5v1.4" stroke="#888" stroke-width=".7" fill="none"/>
<text x="156.6" y="232.1" font-size="4.5" fill="#5050a8" stroke="#5050a8" stroke-width=".12" text-anchor="start">10.7</text>
<text x="247.4" y="232.1" font-size="4.5" fill="#5050a8" stroke="#5050a8" stroke-width=".12" text-anchor="end">12.3</text>
<text x="156.6" y="316.9" font-size="4.5" fill="#5050a8" stroke="#5050a8" stroke-width=".12" text-anchor="start">59.2</text>
<text x="247.4" y="316.9" font-size="4.5" fill="#5050a8" stroke="#5050a8" stroke-width=".12" text-anchor="end">17.6</text>
<text x="201.5" y="325.9" font-size="5.4" font-weight="bold" fill="#333" text-anchor="middle" textLength="9.4" lengthAdjust="spacingAndGlyphs" stroke="#333" stroke-width="0.14">GFP</text>
<text transform="translate(150.0,272.2) rotate(-90)" font-size="5" font-weight="bold" fill="#333" text-anchor="middle" textLength="8.8" lengthAdjust="spacingAndGlyphs" stroke="#333" stroke-width="0.14">CD4</text>
<path filter="url(#soft)" transform="scale(0.333333)" d="M278 1020h2m-46 17h2m133 17h2m-155 2h2m69 7h2m74 0h2m-105 6h2m48 22h2m-53 2h2m94 0h2m-66 1h2m63 0h2m-40 1h2m9 0h2m-27 1h2m-5 1h2m-20 1h2m38 0h2m-96 1h2m67 0h2m20 0h2m13 0h2m-106 1h2m59 0h2m22 0h2m10 0h2m34 0h2m-47 1h2m8 0h2m11 0h2m-112 1h2m88 0h2m-1 0h2m2 0h2m7 0h2m8 0h2m-1 0h2m22 0h2m-116 1h2m22 0h2m20 0h2m3 0h2m0 0h2m-1 0h2m9 0h2m-1 0h2m26 0h2m-156 1h2m39 0h2m60 0h2m-1 0h2m5 0h2m37 0h2m2 0h2m-94 1h2m32 0h2m1 0h2m10 0h2m-1 0h2m25 0h2m8 0h2m-108 1h2m1 0h2m4 0h2m60 0h2m17 0h2m21 0h2m-131 1h2m44 0h2m8 0h2m12 0h2m33 0h2m16 0h2m-94 1h2m33 0h2m6 0h2m-1 0h2m11 0h2m8 0h2m25 0h2m20 0h2m-192 1h2m56 0h2m81 0h2m4 0h2m0 0h2m0 0h2m14 0h2m-88 1h2m22 0h2m11 0h2m3 0h2m1 0h2m2 0h2m4 0h2m3 0h2m-1 0h2m1 0h2m60 0h2m-124 1h2m12 0h2m-1 0h2m20 0h2m24 0h2m17 0h2m29 0h2m-181 1h2m30 0h2m9 0h2m1 0h2m-1 0h2m41 0h2m0 0h2m11 0h2m2 0h2m2 0h2m0 0h2m7 0h2m4 0h2m2 0h2m5 0h2m-124 1h2m44 0h2m32 0h2m23 0h2m7 0h2m1 0h2m8 0h2m11 0h2m2 0h2m-133 1h2m14 0h2m39 0h2m9 0h2m7 0h2m12 0h2m1 0h2m3 0h2m5 0h2m-101 1h2m35 0h2m-1 0h2m8 0h2m9 0h2m13 0h2m16 0h2m3 0h2m0 0h2m7 0h2m-1 0h2m0 0h2m11 0h2m-170 1h2m24 0h2m37 0h2m25 0h2m6 0h2m0 0h2m12 0h2m14 0h2m-1 0h2m8 0h2m-45 1h2m5 0h2m14 0h2m9 0h2m7 0h2m-1 0h2m-117 1h2m21 0h2m17 0h2m0 0h2m33 0h2m18 0h2m8 0h2m4 0h2m-1 0h2m1 0h2m7 0h2m-156 1h2m38 0h2m6 0h2m35 0h2m9 0h2m4 0h2m19 0h2m1 0h2m12 0h2m11 0h2m-129 1h2m35 0h2m19 0h2m26 0h2m12 0h2m11 0h2m15 0h2m-132 1h2m15 0h2m66 0h2m48 0h2m-137 2h2m67 0h2m16 0h2m-84 1h2m2 0h2m10 0h2m37 0h2m12 0h2m-117 1h2m68 0h2m165 0h2m-204 1h2m106 0h2m1 0h2m-111 1h2m27 0h2m100 0h2m-158 2h2m141 0h2m-121 1h2m-8 1h2m35 0h2m64 2h2m-83 1h2m-24 2h2m6 0h2m48 0h2m46 0h2m-101 1h2m12 1h2m84 2h2m-90 3h2m81 1h2m-1 2h2m-93 1h2m34 1h2m-39 1h2m126 1h2m-61 2h2m27 1h2m-103 1h2m131 0h2m25 0h2m-46 1h2m-95 2h2m-13 1h2m104 0h2m-129 1h2m113 0h2m-20 4h2m6 0h2m0 0h2m-23 2h2m26 1h2m-27 1h2m40 0h2m-20 1h2m-4 1h2m-1 0h2m8 0h2m43 0h2m-52 1h2m16 0h2m-49 1h2m36 0h2m5 0h2m1 0h2m13 0h2m-109 1h2m76 0h2m40 1h2m-58 1h2m19 0h2m-44 1h2m11 0h2m11 0h2m10 0h2m-171 1h2m101 0h2m27 0h2m15 0h2m10 0h2m9 0h2m-10 1h2m-39 1h2m1 0h2m6 0h2m-15 1h2m14 0h2m-19 1h2m-14 1h2m33 0h2m-18 1h2m5 0h2m19 0h2m-54 1h2m43 0h2m2 0h2m49 0h2m-86 1h2m17 0h2m5 0h2m-24 2h2m34 0h2m-23 1h2m15 0h2m4 0h2m17 0h2m9 0h2m-46 1h2m37 0h2m-73 1h2m23 0h2m-2 1h2m22 0h2m-60 1h2m35 0h2m18 0h2m9 0h2m-49 1h2m25 0h2m8 0h2m3 0h2m12 1h2m-53 1h2m18 0h2m-45 1h2m32 0h2m2 0h2m10 0h2m11 0h2m5 0h2m19 0h2m-102 1h2m65 0h2m-31 1h2m23 0h2m4 0h2m-25 1h2m-1 0h2m7 1h2m-25 2h2m18 0h2m-11 1h2m11 1h2m-56 1h2m75 0h2m12 0h2m-63 1h2m16 0h2m-69 1h2m25 0h2m10 0h2m14 0h2m33 0h2m75 0h2m-90 1h2m-43 1h2m28 0h2m4 0h2m-25 1h2m0 0h2m10 1h2m22 1h2m-37 2h2m28 0h2m-57 1h2m1 0h2m75 0h2m-54 1h2m27 0h2m-3 2h2m-49 1h2m91 2h2m-103 1h2m88 1h2m-17 1h2m-39 2h2m-161 4h2m117 13h2m-97 1h2m144 17h2m-88 2h2" stroke="#5a5a5a" stroke-width="2.40" fill="none"/>
<path filter="url(#soft)" transform="scale(0.333333)" d="M175 1079h2m22 0h2m-15 4h2m-20 2h2m4 2h2m0 0h2m12 0h2m2 0h2m2 0h2m5 0h2m-28 1h2m10 0h2m11 0h2m-21 1h2m6 0h2m-24 1h2m9 0h2m0 0h2m5 0h2m-24 1h2m0 0h2m7 0h2m6 0h2m-1 0h2m18 0h2m-1 0h2m-52 1h2m0 0h2m1 0h2m5 0h2m5 0h2m14 0h2m-29 1h2m8 0h2m-1 0h2m2 0h2m3 0h2m1 0h2m-1 0h2m1 0h2m-18 1h2m3 0h2m-1 0h2m7 0h2m0 0h2m0 0h2m2 0h2m-40 1h2m2 0h2m3 0h2m0 0h2m1 0h2m-1 0h2m4 0h2m-1 0h2m2 0h2m1 0h2m3 0h2m3 0h2m-49 1h2m13 0h2m0 0h2m-1 0h2m8 0h2m2 0h2m4 0h2m4 0h2m0 0h2m-43 1h2m11 0h2m-1 0h2m2 0h2m-1 0h2m4 0h2m1 0h2m2 0h2m-1 0h2m2 0h2m-1 0h2m0 0h2m4 0h2m0 0h2m-1 0h2m-50 1h2m5 0h2m0 0h2m0 0h2m2 0h2m0 0h2m2 0h2m1 0h2m-1 0h2m2 0h2m1 0h2m1 0h2m2 0h2m1 0h2m-33 1h2m0 0h2m0 0h2m0 0h2m-1 0h2m-1 0h2m-1 0h2m0 0h2m2 0h2m-1 0h2m2 0h2m4 0h2m-1 0h2m-1 0h2m1 0h2m-42 1h2m2 0h2m1 0h2m1 0h2m-1 0h2m-1 0h2m0 0h2m-1 0h2m-1 0h2m0 0h2m-1 0h2m-1 0h2m-1 0h2m-1 0h2m-1 0h2m-1 0h2m0 0h2m-1 0h2m-1 0h2m-1 0h2m-1 0h2m3 0h2m0 0h2m-1 0h2m-1 0h2m-37 1h2m6 0h2m0 0h2m0 0h2m5 0h2m1 0h2m1 0h2m6 0h2m2 0h2m1 0h2m3 0h2m-49 1h2m5 0h2m0 0h2m-1 0h2m0 0h2m-1 0h2m-1 0h2m-1 0h2m3 0h2m0 0h2m-1 0h2m-1 0h2m2 0h2m-1 0h2m1 0h2m0 0h2m-35 1h2m1 0h2m3 0h2m0 0h2m-1 0h2m0 0h2m-1 0h2m-1 0h2m-1 0h2m-1 0h2m-1 0h2m-1 0h2m-1 0h2m-1 0h2m-1 0h2m0 0h2m-1 0h2m0 0h2m-1 0h2m2 0h2m-1 0h2m-1 0h2m5 0h2m-57 1h2m16 0h2m-1 0h2m3 0h2m0 0h2m-1 0h2m-1 0h2m-1 0h2m2 0h2m-1 0h2m-1 0h2m0 0h2m-1 0h2m0 0h2m0 0h2m0 0h2m-1 0h2m1 0h2m1 0h2m-1 0h2m1 0h2m1 0h2m6 0h2m14 0h2m-82 1h2m3 0h2m0 0h2m0 0h2m1 0h2m0 0h2m2 0h2m-1 0h2m-1 0h2m-1 0h2m-1 0h2m-1 0h2m-1 0h2m-1 0h2m2 0h2m-1 0h2m0 0h2m-1 0h2m-1 0h2m-1 0h2m0 0h2m1 0h2m-1 0h2m1 0h2m7 0h2m0 0h2m-1 0h2m-54 1h2m2 0h2m5 0h2m2 0h2m1 0h2m-1 0h2m0 0h2m0 0h2m-1 0h2m0 0h2m-1 0h2m-1 0h2m-1 0h2m0 0h2m-1 0h2m-1 0h2m-1 0h2m-1 0h2m-1 0h2m-1 0h2m-1 0h2m0 0h2m-1 0h2m1 0h2m0 0h2m-51 1h2m0 0h2m1 0h2m1 0h2m0 0h2m4 0h2m-1 0h2m-1 0h2m0 0h2m-1 0h2m-1 0h2m0 0h2m-1 0h2m-1 0h2m-1 0h2m-1 0h2m-1 0h2m-1 0h2m-1 0h2m-1 0h2m-1 0h2m0 0h2m-1 0h2m-1 0h2m-1 0h2m-1 0h2m-1 0h2m-1 0h2m0 0h2m-1 0h2m-1 0h2m-1 0h2m0 0h2m1 0h2m7 0h2m-53 1h2m3 0h2m-1 0h2m0 0h2m0 0h2m-1 0h2m-1 0h2m-1 0h2m-1 0h2m-1 0h2m-1 0h2m-1 0h2m-1 0h2m-1 0h2m-1 0h2m-1 0h2m-1 0h2m-1 0h2m-1 0h2m1 0h2m-1 0h2m0 0h2m0 0h2m-1 0h2m-1 0h2m1 0h2m0 0h2m-1 0h2m-1 0h2m2 0h2m3 0h2m-62 1h2m2 0h2m4 0h2m3 0h2m0 0h2m-1 0h2m-1 0h2m-1 0h2m-1 0h2m-1 0h2m-1 0h2m-1 0h2m-1 0h2m-1 0h2m0 0h2m-1 0h2m-1 0h2m-1 0h2m0 0h2m0 0h2m-1 0h2m-1 0h2m-1 0h2m-1 0h2m-1 0h2m6 0h2m1 0h2m-1 0h2m1 0h2m-1 0h2m2 0h2m-52 1h2m2 0h2m0 0h2m0 0h2m0 0h2m1 0h2m-1 0h2m-1 0h2m-1 0h2m2 0h2m0 0h2m-1 0h2m-1 0h2m-1 0h2m1 0h2m-1 0h2m-1 0h2m-1 0h2m-1 0h2m0 0h2m0 0h2m-1 0h2m0 0h2m-1 0h2m3 0h2m-1 0h2m-1 0h2m-54 1h2m0 0h2m1 0h2m0 0h2m0 0h2m0 0h2m0 0h2m0 0h2m-1 0h2m-1 0h2m-1 0h2m-1 0h2m-1 0h2m0 0h2m-1 0h2m0 0h2m0 0h2m-1 0h2m-1 0h2m-1 0h2m-1 0h2m-1 0h2m-1 0h2m-1 0h2m-1 0h2m-1 0h2m-1 0h2m-1 0h2m2 0h2m-1 0h2m-1 0h2m0 0h2m0 0h2m1 0h2m0 0h2m1 0h2m-52 1h2m-1 0h2m-1 0h2m1 0h2m1 0h2m-1 0h2m-1 0h2m-1 0h2m0 0h2m0 0h2m-1 0h2m-1 0h2m-1 0h2m-1 0h2m1 0h2m-1 0h2m1 0h2m-1 0h2m-1 0h2m1 0h2m-1 0h2m0 0h2m-1 0h2m0 0h2m-1 0h2m0 0h2m-1 0h2m2 0h2m-1 0h2m-57 1h2m2 0h2m3 0h2m1 0h2m4 0h2m-1 0h2m-1 0h2m0 0h2m-1 0h2m-1 0h2m-1 0h2m1 0h2m-1 0h2m-1 0h2m0 0h2m-1 0h2m-1 0h2m-1 0h2m-1 0h2m-1 0h2m0 0h2m-1 0h2m-1 0h2m2 0h2m-1 0h2m-1 0h2m-1 0h2m-1 0h2m0 0h2m-1 0h2m0 0h2m0 0h2m5 0h2m-61 1h2m5 0h2m-1 0h2m-1 0h2m-1 0h2m-1 0h2m-1 0h2m1 0h2m-1 0h2m-1 0h2m-1 0h2m-1 0h2m0 0h2m-1 0h2m-1 0h2m-1 0h2m0 0h2m-1 0h2m0 0h2m-1 0h2m-1 0h2m-1 0h2m1 0h2m0 0h2m-1 0h2m1 0h2m0 0h2m1 0h2m16 0h2m-60 1h2m-1 0h2m-1 0h2m0 0h2m-1 0h2m-1 0h2m0 0h2m-1 0h2m-1 0h2m-1 0h2m0 0h2m-1 0h2m-1 0h2m-1 0h2m-1 0h2m-1 0h2m-1 0h2m-1 0h2m0 0h2m-1 0h2m-1 0h2m-1 0h2m0 0h2m-1 0h2m1 0h2m-1 0h2m1 0h2m1 0h2m-44 1h2m1 0h2m8 0h2m-1 0h2m-1 0h2m0 0h2m-1 0h2m-1 0h2m-1 0h2m-1 0h2m0 0h2m-1 0h2m-1 0h2m-1 0h2m0 0h2m-1 0h2m1 0h2m-1 0h2m3 0h2m-1 0h2m-1 0h2m0 0h2m-1 0h2m-1 0h2m1 0h2m-1 0h2m-51 1h2m0 0h2m4 0h2m0 0h2m-1 0h2m-1 0h2m-1 0h2m-1 0h2m-1 0h2m0 0h2m-1 0h2m-1 0h2m0 0h2m-1 0h2m-1 0h2m1 0h2m1 0h2m-1 0h2m-1 0h2m-1 0h2m1 0h2m-1 0h2m-1 0h2m1 0h2m-1 0h2m1 0h2m10 0h2m-66 1h2m1 0h2m9 0h2m-1 0h2m0 0h2m0 0h2m0 0h2m-1 0h2m-1 0h2m0 0h2m0 0h2m-1 0h2m0 0h2m1 0h2m2 0h2m-1 0h2m0 0h2m0 0h2m1 0h2m3 0h2m4 0h2m-51 1h2m6 0h2m-1 0h2m-1 0h2m-1 0h2m-1 0h2m0 0h2m1 0h2m0 0h2m-1 0h2m-1 0h2m-1 0h2m0 0h2m-1 0h2m0 0h2m-1 0h2m-1 0h2m-1 0h2m0 0h2m-1 0h2m0 0h2m-1 0h2m-1 0h2m-1 0h2m-1 0h2m-1 0h2m0 0h2m5 0h2m2 0h2m-58 1h2m3 0h2m1 0h2m1 0h2m-1 0h2m-1 0h2m2 0h2m-1 0h2m0 0h2m1 0h2m-1 0h2m-1 0h2m0 0h2m0 0h2m-1 0h2m-1 0h2m-1 0h2m4 0h2m1 0h2m-1 0h2m1 0h2m0 0h2m-49 1h2m13 0h2m-1 0h2m1 0h2m0 0h2m1 0h2m-1 0h2m-1 0h2m1 0h2m-1 0h2m1 0h2m0 0h2m-1 0h2m-1 0h2m0 0h2m0 0h2m0 0h2m5 0h2m0 0h2m1 0h2m-51 1h2m-1 0h2m2 0h2m-1 0h2m2 0h2m1 0h2m-1 0h2m0 0h2m2 0h2m-1 0h2m-1 0h2m0 0h2m1 0h2m-1 0h2m-1 0h2m0 0h2m-1 0h2m1 0h2m3 0h2m-1 0h2m8 0h2m-1 0h2m-59 1h2m0 0h2m1 0h2m12 0h2m-1 0h2m0 0h2m-1 0h2m0 0h2m0 0h2m-1 0h2m1 0h2m-1 0h2m1 0h2m0 0h2m-1 0h2m-1 0h2m-1 0h2m-1 0h2m0 0h2m2 0h2m-45 1h2m4 0h2m2 0h2m0 0h2m1 0h2m0 0h2m-1 0h2m0 0h2m-1 0h2m1 0h2m-1 0h2m1 0h2m-1 0h2m-1 0h2m1 0h2m-1 0h2m1 0h2m3 0h2m-41 1h2m0 0h2m0 0h2m0 0h2m0 0h2m0 0h2m0 0h2m0 0h2m1 0h2m4 0h2m-1 0h2m-1 0h2m-1 0h2m-1 0h2m-1 0h2m-1 0h2m0 0h2m1 0h2m1 0h2m-1 0h2m0 0h2m-47 1h2m2 0h2m-1 0h2m2 0h2m1 0h2m-1 0h2m-1 0h2m-1 0h2m-1 0h2m-1 0h2m0 0h2m1 0h2m2 0h2m0 0h2m-1 0h2m-1 0h2m0 0h2m1 0h2m0 0h2m1 0h2m-1 0h2m-44 1h2m10 0h2m-1 0h2m4 0h2m2 0h2m2 0h2m-1 0h2m-1 0h2m-1 0h2m-1 0h2m0 0h2m3 0h2m0 0h2m-45 1h2m17 0h2m-1 0h2m2 0h2m3 0h2m-1 0h2m6 0h2m5 0h2m-1 0h2m-1 0h2m0 0h2m-48 1h2m-1 0h2m5 0h2m2 0h2m5 0h2m-1 0h2m-1 0h2m0 0h2m1 0h2m-1 0h2m3 0h2m2 0h2m-26 1h2m3 0h2m0 0h2m0 0h2m-1 0h2m-1 0h2m1 0h2m-1 0h2m1 0h2m-1 0h2m0 0h2m2 0h2m-1 0h2m2 0h2m-37 1h2m3 0h2m-1 0h2m-1 0h2m-1 0h2m4 0h2m13 0h2m0 0h2m-32 1h2m7 0h2m7 0h2m0 0h2m7 0h2m6 0h2m-21 1h2m4 0h2m5 0h2m0 0h2m-27 1h2m1 0h2m-1 0h2m7 0h2m1 0h2m10 0h2m-36 1h2m31 0h2m-40 1h2m5 0h2m10 0h2m6 0h2m1 0h2m8 0h2m-1 0h2m-33 1h2m18 0h2m8 0h2m-32 1h2m7 0h2m2 0h2m1 0h2m15 1h2m-23 1h2m9 1h2m-6 3h2m-8 1h2m-3 4h2m-6 1h2m6 0h2m-14 1h2m-13 1h2m2 0h2m28 0h2m-31 3h2m0 0h2m-1 0h2m37 0h2m-45 1h2m8 1h2m3 0h2m4 0h2m-9 1h2m1 0h2m8 0h2m-37 1h2m13 0h2m16 0h2m3 0h2m-32 1h2m25 0h2m-25 1h2m13 0h2m1 0h2m-27 1h2m2 0h2m-1 0h2m4 0h2m4 0h2m9 0h2m4 0h2m-37 1h2m7 0h2m2 0h2m-1 0h2m0 0h2m-1 0h2m6 0h2m-1 0h2m8 0h2m-38 1h2m1 0h2m0 0h2m-1 0h2m1 0h2m-1 0h2m-1 0h2m7 0h2m4 0h2m-1 0h2m6 0h2m-29 1h2m5 0h2m4 0h2m-1 0h2m5 0h2m0 0h2m2 0h2m18 0h2m-51 1h2m-1 0h2m0 0h2m-1 0h2m4 0h2m2 0h2m-1 0h2m-1 0h2m-1 0h2m0 0h2m-1 0h2m8 0h2m-48 1h2m3 0h2m9 0h2m1 0h2m0 0h2m6 0h2m3 0h2m-1 0h2m0 0h2m-1 0h2m3 0h2m-50 1h2m15 0h2m9 0h2m7 0h2m0 0h2m0 0h2m1 0h2m6 0h2m-54 1h2m1 0h2m0 0h2m2 0h2m5 0h2m0 0h2m-1 0h2m0 0h2m4 0h2m0 0h2m3 0h2m2 0h2m-1 0h2m-1 0h2m12 0h2m-1 0h2m-35 1h2m0 0h2m-1 0h2m3 0h2m2 0h2m-1 0h2m-1 0h2m4 0h2m0 0h2m3 0h2m-39 1h2m2 0h2m2 0h2m-1 0h2m0 0h2m1 0h2m-1 0h2m-1 0h2m-1 0h2m2 0h2m0 0h2m-1 0h2m1 0h2m0 0h2m3 0h2m-1 0h2m14 0h2m-43 1h2m-1 0h2m2 0h2m0 0h2m-1 0h2m0 0h2m-1 0h2m1 0h2m-1 0h2m-1 0h2m3 0h2m3 0h2m-1 0h2m3 0h2m3 0h2m-1 0h2m-52 1h2m13 0h2m-1 0h2m0 0h2m-1 0h2m-1 0h2m2 0h2m-1 0h2m-1 0h2m2 0h2m0 0h2m1 0h2m-1 0h2m-1 0h2m0 0h2m-1 0h2m-1 0h2m4 0h2m-38 1h2m2 0h2m-1 0h2m0 0h2m1 0h2m0 0h2m3 0h2m-1 0h2m1 0h2m3 0h2m0 0h2m-1 0h2m-1 0h2m-1 0h2m1 0h2m1 0h2m-45 1h2m1 0h2m-1 0h2m-1 0h2m2 0h2m0 0h2m0 0h2m0 0h2m-1 0h2m2 0h2m-1 0h2m-1 0h2m0 0h2m-1 0h2m0 0h2m2 0h2m0 0h2m1 0h2m18 0h2m-55 1h2m3 0h2m0 0h2m-1 0h2m0 0h2m-1 0h2m1 0h2m-1 0h2m-1 0h2m-1 0h2m-1 0h2m0 0h2m-1 0h2m0 0h2m1 0h2m-1 0h2m-1 0h2m6 0h2m1 0h2m0 0h2m5 0h2m-59 1h2m2 0h2m-1 0h2m-1 0h2m3 0h2m-1 0h2m-1 0h2m0 0h2m-1 0h2m2 0h2m0 0h2m-1 0h2m-1 0h2m-1 0h2m-1 0h2m0 0h2m-1 0h2m1 0h2m1 0h2m0 0h2m-1 0h2m2 0h2m-1 0h2m-1 0h2m-39 1h2m0 0h2m1 0h2m0 0h2m-1 0h2m0 0h2m0 0h2m-1 0h2m-1 0h2m-1 0h2m0 0h2m-1 0h2m-1 0h2m-1 0h2m-1 0h2m-1 0h2m0 0h2m-1 0h2m-1 0h2m-1 0h2m-1 0h2m-1 0h2m0 0h2m5 0h2m3 0h2m-59 1h2m12 0h2m-1 0h2m-1 0h2m0 0h2m0 0h2m0 0h2m0 0h2m1 0h2m0 0h2m-1 0h2m0 0h2m-1 0h2m2 0h2m-1 0h2m-1 0h2m-1 0h2m1 0h2m1 0h2m0 0h2m-1 0h2m0 0h2m-1 0h2m0 0h2m-52 1h2m2 0h2m2 0h2m2 0h2m-1 0h2m-1 0h2m0 0h2m-1 0h2m-1 0h2m-1 0h2m-1 0h2m-1 0h2m2 0h2m1 0h2m0 0h2m-1 0h2m2 0h2m-1 0h2m-1 0h2m3 0h2m-1 0h2m-1 0h2m1 0h2m1 0h2m5 0h2m-56 1h2m3 0h2m4 0h2m0 0h2m-1 0h2m0 0h2m-1 0h2m-1 0h2m-1 0h2m-1 0h2m-1 0h2m-1 0h2m3 0h2m-1 0h2m0 0h2m-1 0h2m-1 0h2m-1 0h2m3 0h2m-1 0h2m3 0h2m-34 1h2m-1 0h2m-1 0h2m-1 0h2m3 0h2m0 0h2m-1 0h2m-1 0h2m0 0h2m1 0h2m-1 0h2m-1 0h2m0 0h2m5 0h2m-1 0h2m-1 0h2m3 0h2m3 0h2m-49 1h2m-1 0h2m2 0h2m1 0h2m-1 0h2m0 0h2m1 0h2m-1 0h2m-1 0h2m-1 0h2m0 0h2m-1 0h2m0 0h2m-1 0h2m-1 0h2m-1 0h2m-1 0h2m-1 0h2m1 0h2m-1 0h2m-1 0h2m0 0h2m2 0h2m-53 1h2m3 0h2m0 0h2m4 0h2m3 0h2m-1 0h2m-1 0h2m0 0h2m-1 0h2m0 0h2m-1 0h2m0 0h2m-1 0h2m1 0h2m-1 0h2m1 0h2m0 0h2m-1 0h2m3 0h2m0 0h2m2 0h2m1 0h2m6 0h2m-58 1h2m4 0h2m7 0h2m0 0h2m0 0h2m-1 0h2m2 0h2m0 0h2m-1 0h2m-1 0h2m-1 0h2m-1 0h2m-1 0h2m1 0h2m-1 0h2m-1 0h2m0 0h2m1 0h2m-1 0h2m1 0h2m3 0h2m2 0h2m-58 1h2m5 0h2m2 0h2m-1 0h2m1 0h2m0 0h2m-1 0h2m-1 0h2m-1 0h2m-1 0h2m-1 0h2m-1 0h2m-1 0h2m-1 0h2m-1 0h2m-1 0h2m-1 0h2m-1 0h2m-1 0h2m-1 0h2m6 0h2m2 0h2m0 0h2m0 0h2m-1 0h2m-1 0h2m16 0h2m-73 1h2m6 0h2m3 0h2m4 0h2m-1 0h2m-1 0h2m-1 0h2m-1 0h2m-1 0h2m-1 0h2m1 0h2m-1 0h2m-1 0h2m-1 0h2m-1 0h2m-1 0h2m-1 0h2m-1 0h2m-1 0h2m-1 0h2m-1 0h2m-1 0h2m-1 0h2m-1 0h2m-1 0h2m0 0h2m0 0h2m-1 0h2m0 0h2m-1 0h2m-1 0h2m-49 1h2m3 0h2m3 0h2m-1 0h2m-1 0h2m-1 0h2m0 0h2m0 0h2m-1 0h2m1 0h2m-1 0h2m1 0h2m1 0h2m-1 0h2m2 0h2m-1 0h2m-1 0h2m-1 0h2m0 0h2m2 0h2m1 0h2m-1 0h2m3 0h2m2 0h2m-59 1h2m7 0h2m0 0h2m1 0h2m1 0h2m0 0h2m1 0h2m-1 0h2m-1 0h2m-1 0h2m0 0h2m-1 0h2m-1 0h2m-1 0h2m-1 0h2m-1 0h2m-1 0h2m-1 0h2m0 0h2m-1 0h2m-1 0h2m0 0h2m-1 0h2m0 0h2m-1 0h2m-1 0h2m-1 0h2m-1 0h2m4 0h2m1 0h2m0 0h2m1 0h2m-62 1h2m-1 0h2m14 0h2m0 0h2m1 0h2m1 0h2m0 0h2m-1 0h2m0 0h2m-1 0h2m-1 0h2m-1 0h2m-1 0h2m0 0h2m-1 0h2m-1 0h2m-1 0h2m1 0h2m-1 0h2m-1 0h2m-1 0h2m5 0h2m-1 0h2m-48 1h2m0 0h2m5 0h2m-1 0h2m-1 0h2m-1 0h2m-1 0h2m-1 0h2m-1 0h2m0 0h2m0 0h2m-1 0h2m-1 0h2m-1 0h2m0 0h2m0 0h2m-1 0h2m-1 0h2m-1 0h2m-1 0h2m-1 0h2m-1 0h2m-1 0h2m-1 0h2m-1 0h2m-1 0h2m2 0h2m1 0h2m2 0h2m2 0h2m1 0h2m-58 1h2m6 0h2m1 0h2m-1 0h2m0 0h2m-1 0h2m-1 0h2m-1 0h2m-1 0h2m2 0h2m-1 0h2m0 0h2m-1 0h2m-1 0h2m-1 0h2m1 0h2m-1 0h2m0 0h2m-1 0h2m-1 0h2m-1 0h2m1 0h2m0 0h2m0 0h2m-1 0h2m-52 1h2m5 0h2m-1 0h2m0 0h2m-1 0h2m-1 0h2m0 0h2m-1 0h2m-1 0h2m-1 0h2m1 0h2m-1 0h2m1 0h2m-1 0h2m1 0h2m-1 0h2m0 0h2m-1 0h2m0 0h2m-1 0h2m-1 0h2m-1 0h2m2 0h2m-1 0h2m-1 0h2m0 0h2m-1 0h2m-1 0h2m0 0h2m2 0h2m0 0h2m-48 1h2m2 0h2m0 0h2m-1 0h2m1 0h2m-1 0h2m-1 0h2m-1 0h2m0 0h2m-1 0h2m-1 0h2m-1 0h2m-1 0h2m-1 0h2m-1 0h2m-1 0h2m0 0h2m-1 0h2m0 0h2m-1 0h2m-1 0h2m-1 0h2m1 0h2m-1 0h2m5 0h2m1 0h2m0 0h2m-54 1h2m5 0h2m-1 0h2m1 0h2m-1 0h2m0 0h2m0 0h2m1 0h2m2 0h2m0 0h2m-1 0h2m-1 0h2m-1 0h2m2 0h2m0 0h2m-1 0h2m-1 0h2m-1 0h2m-1 0h2m1 0h2m0 0h2m-1 0h2m6 0h2m-49 1h2m-1 0h2m2 0h2m1 0h2m-1 0h2m0 0h2m0 0h2m-1 0h2m-1 0h2m-1 0h2m-1 0h2m0 0h2m-1 0h2m0 0h2m-1 0h2m-1 0h2m1 0h2m-1 0h2m-1 0h2m-1 0h2m-1 0h2m-1 0h2m-1 0h2m-1 0h2m-1 0h2m-1 0h2m-1 0h2m8 0h2m-57 1h2m11 0h2m0 0h2m-1 0h2m-1 0h2m-1 0h2m-1 0h2m0 0h2m-1 0h2m-1 0h2m0 0h2m-1 0h2m-1 0h2m-1 0h2m-1 0h2m0 0h2m0 0h2m-1 0h2m-1 0h2m-1 0h2m0 0h2m-1 0h2m4 0h2m5 0h2m-56 1h2m12 0h2m2 0h2m-1 0h2m1 0h2m-1 0h2m-1 0h2m0 0h2m1 0h2m-1 0h2m-1 0h2m-1 0h2m-1 0h2m-1 0h2m-1 0h2m-1 0h2m-1 0h2m-1 0h2m-1 0h2m-1 0h2m0 0h2m-1 0h2m0 0h2m-1 0h2m-1 0h2m-1 0h2m3 0h2m-1 0h2m-1 0h2m3 0h2m-49 1h2m-1 0h2m2 0h2m1 0h2m1 0h2m1 0h2m-1 0h2m-1 0h2m-1 0h2m-1 0h2m0 0h2m-1 0h2m-1 0h2m-1 0h2m-1 0h2m-1 0h2m-1 0h2m-1 0h2m-1 0h2m-1 0h2m-1 0h2m1 0h2m-1 0h2m0 0h2m-42 1h2m1 0h2m0 0h2m0 0h2m1 0h2m-1 0h2m-1 0h2m-1 0h2m-1 0h2m-1 0h2m-1 0h2m0 0h2m-1 0h2m-1 0h2m-1 0h2m-1 0h2m0 0h2m0 0h2m-1 0h2m-1 0h2m-1 0h2m-1 0h2m0 0h2m-1 0h2m-1 0h2m3 0h2m1 0h2m0 0h2m0 0h2m-1 0h2m3 0h2m-58 1h2m3 0h2m2 0h2m2 0h2m1 0h2m1 0h2m-1 0h2m-1 0h2m-1 0h2m1 0h2m-1 0h2m-1 0h2m1 0h2m-1 0h2m-1 0h2m-1 0h2m-1 0h2m-1 0h2m3 0h2m2 0h2m0 0h2m-40 1h2m0 0h2m-1 0h2m2 0h2m0 0h2m-1 0h2m0 0h2m0 0h2m-1 0h2m0 0h2m-1 0h2m-1 0h2m0 0h2m-1 0h2m0 0h2m-1 0h2m0 0h2m-1 0h2m0 0h2m1 0h2m0 0h2m-1 0h2m-1 0h2m3 0h2m2 0h2m-1 0h2m28 0h2m-89 1h2m3 0h2m-1 0h2m7 0h2m2 0h2m0 0h2m2 0h2m0 0h2m-1 0h2m-1 0h2m-1 0h2m-1 0h2m-1 0h2m-1 0h2m1 0h2m-1 0h2m1 0h2m0 0h2m0 0h2m0 0h2m0 0h2m2 0h2m2 0h2m-54 1h2m5 0h2m-1 0h2m3 0h2m-1 0h2m-1 0h2m1 0h2m-1 0h2m1 0h2m0 0h2m-1 0h2m0 0h2m-1 0h2m-1 0h2m0 0h2m-1 0h2m-1 0h2m2 0h2m3 0h2m1 0h2m1 0h2m-45 1h2m4 0h2m2 0h2m-1 0h2m-1 0h2m1 0h2m-1 0h2m1 0h2m-1 0h2m4 0h2m-1 0h2m-1 0h2m0 0h2m1 0h2m-1 0h2m1 0h2m2 0h2m2 0h2m1 0h2m-61 1h2m10 0h2m8 0h2m-1 0h2m-1 0h2m-1 0h2m3 0h2m-1 0h2m4 0h2m0 0h2m-1 0h2m-1 0h2m5 0h2m3 0h2m-43 1h2m1 0h2m-1 0h2m1 0h2m-1 0h2m1 0h2m4 0h2m2 0h2m-1 0h2m-1 0h2m1 0h2m0 0h2m4 0h2m0 0h2m1 0h2m2 0h2m7 0h2m-61 1h2m-1 0h2m-1 0h2m4 0h2m0 0h2m1 0h2m-1 0h2m2 0h2m-1 0h2m1 0h2m-1 0h2m-1 0h2m0 0h2m-1 0h2m0 0h2m-1 0h2m1 0h2m0 0h2m0 0h2m10 0h2m-1 0h2m-60 1h2m20 0h2m0 0h2m-1 0h2m-1 0h2m-1 0h2m-1 0h2m8 0h2m1 0h2m-1 0h2m0 0h2m1 0h2m-1 0h2m-1 0h2m1 0h2m1 0h2m7 0h2m5 0h2m-54 1h2m2 0h2m2 0h2m1 0h2m-1 0h2m-1 0h2m-1 0h2m0 0h2m0 0h2m0 0h2m0 0h2m-1 0h2m-1 0h2m-1 0h2m8 0h2m3 0h2m-42 1h2m3 0h2m-1 0h2m1 0h2m0 0h2m0 0h2m0 0h2m-1 0h2m0 0h2m-1 0h2m1 0h2m-1 0h2m3 0h2m4 0h2m-1 0h2m4 0h2m-48 1h2m4 0h2m-1 0h2m5 0h2m1 0h2m0 0h2m0 0h2m0 0h2m1 0h2m2 0h2m23 0h2m-52 1h2m5 0h2m0 0h2m1 0h2m-1 0h2m-1 0h2m0 0h2m2 0h2m1 0h2m0 0h2m0 0h2m0 0h2m0 0h2m-1 0h2m2 0h2m7 0h2m-49 1h2m6 0h2m0 0h2m1 0h2m0 0h2m0 0h2m7 0h2m-1 0h2m2 0h2m6 0h2m-1 0h2m0 0h2m-60 1h2m10 0h2m0 0h2m6 0h2m-1 0h2m-1 0h2m0 0h2m3 0h2m3 0h2m-1 0h2m2 0h2m0 0h2m-1 0h2m-38 1h2m12 0h2m-1 0h2m0 0h2m1 0h2m3 0h2m1 0h2m12 0h2m-40 1h2m5 0h2m15 0h2m-1 0h2m5 0h2m12 0h2m-51 1h2m7 0h2m9 0h2m5 0h2m0 0h2m2 0h2m-32 1h2m2 0h2m5 0h2m3 0h2m1 0h2m7 0h2m3 0h2m-36 1h2m11 0h2m9 0h2m-19 1h2m-1 0h2m-1 0h2m8 0h2m0 0h2m2 0h2m8 0h2m-35 1h2m3 0h2m10 0h2m3 0h2m3 1h2m3 0h2m6 0h2m-7 1h2m-46 1h2m22 0h2m1 1h2m9 0h2m-21 1h2m21 0h2m-29 2h2m1 0h2m22 0h2m-37 1h2m29 1h2m-4 1h2m-41 2h2" stroke="#222" stroke-width="2.40" fill="none"/>
<path d="M86.5 329V421.9M50 381.5H143.6" stroke="#3a3ab8" stroke-width=".55" fill="none"/>
<path d="M50 329V421.9" stroke="#999" stroke-width="1.1" fill="none"/>
<path d="M50 421.9H143.6" stroke="#555" stroke-width="1.1" fill="none"/>
<path d="M48.6 403.3H50M48.6 384.7H50M48.6 366.2H50M48.6 347.6H50M68.7 421.9v1.4M87.4 421.9v1.4M106.2 421.9v1.4M124.9 421.9v1.4" stroke="#888" stroke-width=".7" fill="none"/>
<text x="52.2" y="335.1" font-size="4.5" fill="#5050a8" stroke="#5050a8" stroke-width=".12" text-anchor="start">35.8</text>
<text x="142.4" y="335.1" font-size="4.5" fill="#5050a8" stroke="#5050a8" stroke-width=".12" text-anchor="end">3.6</text>
<text x="52.2" y="420.3" font-size="4.5" fill="#5050a8" stroke="#5050a8" stroke-width=".12" text-anchor="start">57</text>
<text x="142.4" y="420.3" font-size="4.5" fill="#5050a8" stroke="#5050a8" stroke-width=".12" text-anchor="end">3.59</text>
<text x="96.8" y="429.3" font-size="5.4" font-weight="bold" fill="#333" text-anchor="middle" textLength="9.4" lengthAdjust="spacingAndGlyphs" stroke="#333" stroke-width="0.14">GFP</text>
<text transform="translate(45.6,375.4) rotate(-90)" font-size="5" font-weight="bold" fill="#333" text-anchor="middle" textLength="8.8" lengthAdjust="spacingAndGlyphs" stroke="#333" stroke-width="0.14">CD4</text>
<path filter="url(#soft)" transform="scale(0.333333)" d="M618 993h2m68 4h2m24 20h2m-164 2h2m100 15h2m87 22h2m-197 2h2m97 7h2m-175 11h2m123 1h2m-61 5h2m111 0h2m-148 3h2m-7 2h2m-12 1h2m-2 1h2m156 1h2m15 2h2m21 2h2m-195 1h2m49 3h2m-14 1h2m15 1h2m105 0h2m-181 5h2m37 2h2m-34 1h2m26 2h2m39 1h2m96 0h2m-181 1h2m176 0h2m-148 6h2m-13 1h2m83 2h2m3 7h2m-115 1h2m69 1h2m113 0h2m49 3h2m-129 2h2m52 0h2m-123 1h2m97 2h2m61 1h2m-70 1h2m1 2h2m9 2h2m-41 2h2m29 0h2m34 0h2m-52 2h2m18 0h2m12 0h2m43 0h2m6 2h2m-54 1h2m24 0h2m-37 3h2m12 0h2m-26 1h2m18 0h2m-45 1h2m11 0h2m8 0h2m11 0h2m16 0h2m-24 1h2m14 0h2m3 0h2m0 1h2m-70 1h2m39 0h2m34 1h2m-53 1h2m7 0h2m7 0h2m-34 1h2m21 0h2m16 0h2m13 0h2m6 0h2m13 0h2m-75 1h2m23 0h2m36 0h2m-99 1h2m68 0h2m56 0h2m-58 1h2m9 0h2m-114 1h2m60 0h2m44 0h2m2 0h2m-51 1h2m18 0h2m10 0h2m46 0h2m14 0h2m-121 1h2m20 0h2m10 0h2m2 0h2m-25 1h2m20 0h2m51 0h2m-107 1h2m85 0h2m1 0h2m2 0h2m15 0h2m-92 1h2m13 0h2m4 0h2m0 0h2m31 0h2m2 0h2m11 0h2m14 0h2m-79 1h2m7 0h2m41 0h2m0 0h2m24 0h2m13 0h2m-115 1h2m15 0h2m16 0h2m9 0h2m1 0h2m3 0h2m2 0h2m12 0h2m1 0h2m-1 0h2m4 0h2m-86 1h2m19 0h2m3 0h2m18 0h2m-1 0h2m10 0h2m6 0h2m13 0h2m5 0h2m-66 1h2m5 0h2m-1 0h2m6 0h2m74 0h2m-98 1h2m19 0h2m58 0h2m-74 1h2m14 0h2m7 0h2m11 0h2m-47 1h2m13 0h2m5 0h2m-1 0h2m4 0h2m49 0h2m-70 1h2m0 0h2m9 0h2m14 0h2m9 0h2m41 0h2m-90 1h2m15 0h2m19 0h2m0 0h2m2 0h2m1 0h2m0 0h2m4 0h2m-69 1h2m-1 0h2m34 0h2m5 0h2m30 0h2m19 0h2m-80 1h2m1 0h2m30 0h2m0 0h2m22 0h2m-1 0h2m2 0h2m4 0h2m-82 1h2m2 0h2m4 0h2m0 0h2m9 0h2m3 0h2m0 0h2m13 0h2m19 0h2m-56 1h2m3 0h2m44 0h2m-69 1h2m9 0h2m7 0h2m11 0h2m24 0h2m-56 1h2m12 0h2m21 0h2m19 0h2m-39 1h2m6 0h2m2 0h2m9 0h2m22 0h2m-59 1h2m16 0h2m4 0h2m10 0h2m4 0h2m12 0h2m-97 1h2m9 0h2m23 0h2m16 0h2m3 0h2m0 0h2m4 0h2m3 0h2m6 0h2m7 0h2m-79 1h2m14 0h2m10 0h2m9 0h2m10 0h2m1 0h2m-53 1h2m16 0h2m0 0h2m-1 0h2m2 0h2m2 0h2m0 0h2m12 0h2m22 0h2m-58 1h2m30 0h2m11 0h2m6 0h2m-1 0h2m7 0h2m-46 1h2m13 0h2m30 0h2m5 0h2m-95 1h2m36 0h2m12 0h2m7 0h2m3 0h2m14 0h2m7 0h2m-101 1h2m3 0h2m5 0h2m12 0h2m5 0h2m0 0h2m0 0h2m12 0h2m3 0h2m10 0h2m11 0h2m1 0h2m1 0h2m9 0h2m-57 1h2m1 0h2m9 0h2m0 0h2m13 0h2m-1 0h2m-56 1h2m17 0h2m2 0h2m1 0h2m-1 0h2m11 0h2m20 0h2m11 0h2m22 0h2m-84 1h2m-1 0h2m4 0h2m25 0h2m30 0h2m-83 1h2m0 0h2m0 0h2m3 0h2m14 0h2m3 0h2m11 0h2m3 0h2m3 0h2m10 0h2m-74 1h2m22 0h2m-1 0h2m2 0h2m25 0h2m3 0h2m-1 0h2m-66 1h2m29 0h2m21 0h2m10 0h2m18 0h2m-66 1h2m4 0h2m23 0h2m11 0h2m-66 1h2m4 0h2m12 0h2m-1 0h2m-19 1h2m0 0h2m44 0h2m4 0h2m8 0h2m-71 1h2m15 0h2m28 0h2m11 0h2m9 0h2m-59 1h2m27 0h2m14 0h2m0 0h2m9 0h2m-65 1h2m16 0h2m-1 0h2m13 0h2m21 0h2m8 0h2m13 0h2m-83 1h2m7 0h2m2 0h2m24 0h2m6 0h2m-16 1h2m12 0h2m-14 1h2m12 0h2m0 0h2m-84 1h2m12 0h2m-1 0h2m73 0h2m28 0h2m-90 1h2m42 0h2m2 0h2m4 0h2m0 0h2m-60 1h2m26 0h2m18 0h2m-67 1h2m37 0h2m1 0h2m0 0h2m9 0h2m1 0h2m4 0h2m-40 1h2m16 0h2m11 0h2m19 0h2m6 0h2m-59 2h2m0 0h2m13 0h2m4 0h2m7 0h2m-59 1h2m-1 0h2m39 0h2m11 0h2m-38 1h2m43 0h2m24 0h2m-77 1h2m15 0h2m5 0h2m5 0h2m-1 0h2m5 0h2m10 0h2m-63 1h2m22 0h2m1 0h2m9 0h2m-75 1h2m91 1h2m2 0h2m-30 1h2m-18 1h2m5 0h2m55 0h2m-88 1h2m22 0h2m13 0h2m8 0h2m12 0h2m-8 1h2m30 0h2m-71 1h2m25 0h2m7 1h2m2 0h2m3 0h2m19 0h2m-92 1h2m7 0h2m37 0h2m11 0h2m-125 1h2m54 0h2m15 0h2m12 0h2m0 0h2m4 1h2m12 0h2m-1 0h2m-7 1h2m0 1h2m-18 1h2m11 0h2m-2 1h2m-1 0h2m18 0h2m26 0h2m-66 1h2m-6 2h2m40 0h2m-56 5h2m75 0h2m-38 2h2m-81 1h2m57 2h2" stroke="#5a5a5a" stroke-width="2.40" fill="none"/>
<path filter="url(#soft)" transform="scale(0.333333)" d="M482 1133h2m16 2h2m10 2h2m-13 2h2m-25 1h2m16 0h2m15 2h2m-4 1h2m-1 0h2m-7 1h2m8 0h2m-6 1h2m-46 1h2m24 1h2m20 0h2m-23 1h2m3 0h2m19 0h2m-26 1h2m6 0h2m6 0h2m1 0h2m-30 1h2m1 0h2m6 0h2m4 0h2m7 0h2m-18 1h2m3 0h2m1 0h2m-6 1h2m0 0h2m-1 0h2m9 0h2m4 0h2m-55 1h2m40 0h2m2 0h2m-49 1h2m4 0h2m4 0h2m3 0h2m0 0h2m2 0h2m10 0h2m7 0h2m-28 1h2m1 0h2m4 0h2m14 0h2m-1 0h2m1 0h2m-38 1h2m11 0h2m1 0h2m2 0h2m14 0h2m-23 1h2m7 0h2m5 0h2m6 0h2m0 0h2m-43 1h2m1 0h2m1 0h2m1 0h2m6 0h2m3 0h2m1 0h2m6 0h2m-38 1h2m5 0h2m2 0h2m-1 0h2m1 0h2m7 0h2m2 0h2m1 0h2m0 0h2m1 0h2m5 0h2m-39 1h2m4 0h2m0 0h2m-1 0h2m-1 0h2m0 0h2m-1 0h2m5 0h2m0 0h2m12 0h2m0 0h2m0 0h2m-1 0h2m0 0h2m-51 1h2m4 0h2m3 0h2m7 0h2m5 0h2m2 0h2m-1 0h2m2 0h2m2 0h2m6 0h2m-46 1h2m-1 0h2m1 0h2m6 0h2m1 0h2m22 0h2m-50 1h2m3 0h2m-1 0h2m9 0h2m-1 0h2m1 0h2m-1 0h2m-1 0h2m0 0h2m0 0h2m0 0h2m-1 0h2m-1 0h2m-1 0h2m-1 0h2m0 0h2m1 0h2m5 0h2m3 0h2m7 0h2m-54 1h2m14 0h2m0 0h2m6 0h2m4 0h2m0 0h2m-47 1h2m6 0h2m7 0h2m5 0h2m2 0h2m-1 0h2m0 0h2m-1 0h2m0 0h2m5 0h2m3 0h2m0 0h2m-1 0h2m3 0h2m-1 0h2m2 0h2m6 0h2m-62 1h2m-1 0h2m3 0h2m-1 0h2m-1 0h2m3 0h2m-1 0h2m-1 0h2m1 0h2m-1 0h2m2 0h2m-1 0h2m-1 0h2m1 0h2m1 0h2m0 0h2m0 0h2m0 0h2m-1 0h2m-1 0h2m0 0h2m0 0h2m5 0h2m0 0h2m24 0h2m-61 1h2m-1 0h2m0 0h2m-1 0h2m0 0h2m1 0h2m-1 0h2m1 0h2m1 0h2m13 0h2m2 0h2m9 0h2m-65 1h2m1 0h2m0 0h2m-1 0h2m2 0h2m1 0h2m-1 0h2m-1 0h2m1 0h2m1 0h2m1 0h2m1 0h2m-1 0h2m-1 0h2m3 0h2m-1 0h2m1 0h2m-1 0h2m1 0h2m4 0h2m-1 0h2m-61 1h2m5 0h2m-1 0h2m7 0h2m9 0h2m0 0h2m1 0h2m-1 0h2m8 0h2m-1 0h2m0 0h2m-1 0h2m3 0h2m3 0h2m-1 0h2m-58 1h2m11 0h2m4 0h2m1 0h2m0 0h2m-1 0h2m2 0h2m-1 0h2m0 0h2m0 0h2m-1 0h2m1 0h2m-1 0h2m-1 0h2m-1 0h2m2 0h2m0 0h2m-1 0h2m-1 0h2m-1 0h2m3 0h2m0 0h2m7 0h2m-65 1h2m-1 0h2m1 0h2m2 0h2m3 0h2m-1 0h2m0 0h2m-1 0h2m2 0h2m-1 0h2m0 0h2m-1 0h2m0 0h2m3 0h2m-1 0h2m0 0h2m-1 0h2m-1 0h2m0 0h2m3 0h2m1 0h2m-1 0h2m36 0h2m-81 1h2m4 0h2m0 0h2m-1 0h2m0 0h2m-1 0h2m0 0h2m0 0h2m-1 0h2m-1 0h2m2 0h2m-1 0h2m0 0h2m-1 0h2m0 0h2m3 0h2m0 0h2m-1 0h2m0 0h2m1 0h2m-46 1h2m0 0h2m9 0h2m-1 0h2m-1 0h2m1 0h2m-1 0h2m2 0h2m-1 0h2m1 0h2m0 0h2m-1 0h2m-1 0h2m0 0h2m0 0h2m4 0h2m6 0h2m5 0h2m-61 1h2m1 0h2m1 0h2m-1 0h2m-1 0h2m1 0h2m2 0h2m1 0h2m0 0h2m-1 0h2m-1 0h2m0 0h2m-1 0h2m0 0h2m-1 0h2m-1 0h2m-1 0h2m-1 0h2m-1 0h2m0 0h2m-1 0h2m3 0h2m-1 0h2m-1 0h2m1 0h2m-1 0h2m0 0h2m-1 0h2m1 0h2m1 0h2m-65 1h2m2 0h2m-1 0h2m2 0h2m0 0h2m-1 0h2m3 0h2m0 0h2m0 0h2m1 0h2m0 0h2m-1 0h2m1 0h2m-1 0h2m0 0h2m-1 0h2m-1 0h2m-1 0h2m-1 0h2m-1 0h2m-1 0h2m0 0h2m-1 0h2m-1 0h2m-1 0h2m0 0h2m4 0h2m0 0h2m0 0h2m5 0h2m-62 1h2m6 0h2m0 0h2m-1 0h2m0 0h2m1 0h2m-1 0h2m5 0h2m1 0h2m0 0h2m0 0h2m0 0h2m-1 0h2m-1 0h2m-1 0h2m-1 0h2m-1 0h2m0 0h2m-1 0h2m0 0h2m-1 0h2m-1 0h2m0 0h2m-1 0h2m-1 0h2m1 0h2m2 0h2m17 0h2m-72 1h2m0 0h2m0 0h2m2 0h2m0 0h2m2 0h2m2 0h2m-1 0h2m-1 0h2m2 0h2m-1 0h2m1 0h2m1 0h2m0 0h2m0 0h2m-1 0h2m-1 0h2m-1 0h2m1 0h2m-1 0h2m2 0h2m1 0h2m0 0h2m-1 0h2m-59 1h2m3 0h2m4 0h2m-1 0h2m0 0h2m0 0h2m-1 0h2m1 0h2m1 0h2m-1 0h2m-1 0h2m2 0h2m0 0h2m0 0h2m-1 0h2m2 0h2m1 0h2m-1 0h2m-1 0h2m2 0h2m0 0h2m2 0h2m3 0h2m-58 1h2m10 0h2m1 0h2m0 0h2m-1 0h2m2 0h2m-1 0h2m0 0h2m0 0h2m-1 0h2m-1 0h2m-1 0h2m-1 0h2m-1 0h2m0 0h2m-1 0h2m0 0h2m0 0h2m1 0h2m0 0h2m-1 0h2m2 0h2m1 0h2m11 0h2m-68 1h2m10 0h2m-1 0h2m0 0h2m-1 0h2m3 0h2m1 0h2m1 0h2m0 0h2m-1 0h2m-1 0h2m-1 0h2m-1 0h2m-1 0h2m0 0h2m-1 0h2m-1 0h2m0 0h2m-1 0h2m2 0h2m1 0h2m1 0h2m4 0h2m4 0h2m-1 0h2m-64 1h2m0 0h2m0 0h2m0 0h2m3 0h2m-1 0h2m-1 0h2m2 0h2m-1 0h2m2 0h2m-1 0h2m-1 0h2m-1 0h2m0 0h2m-1 0h2m0 0h2m-1 0h2m-1 0h2m-1 0h2m-1 0h2m-1 0h2m1 0h2m2 0h2m4 0h2m-1 0h2m-1 0h2m-1 0h2m1 0h2m-61 1h2m1 0h2m1 0h2m0 0h2m7 0h2m-1 0h2m-1 0h2m-1 0h2m-1 0h2m-1 0h2m-1 0h2m1 0h2m-1 0h2m1 0h2m0 0h2m-1 0h2m0 0h2m-1 0h2m-1 0h2m0 0h2m0 0h2m-1 0h2m1 0h2m1 0h2m2 0h2m0 0h2m1 0h2m2 0h2m5 0h2m-71 1h2m3 0h2m0 0h2m-1 0h2m0 0h2m-1 0h2m-1 0h2m2 0h2m0 0h2m1 0h2m-1 0h2m-1 0h2m-1 0h2m-1 0h2m-1 0h2m1 0h2m-1 0h2m1 0h2m-1 0h2m-1 0h2m0 0h2m2 0h2m-1 0h2m-1 0h2m0 0h2m-1 0h2m0 0h2m1 0h2m0 0h2m-1 0h2m1 0h2m4 0h2m0 0h2m-1 0h2m-64 1h2m3 0h2m3 0h2m-1 0h2m-1 0h2m-1 0h2m-1 0h2m3 0h2m-1 0h2m2 0h2m0 0h2m0 0h2m-1 0h2m-1 0h2m-1 0h2m-1 0h2m-1 0h2m-1 0h2m1 0h2m-1 0h2m4 0h2m-1 0h2m1 0h2m4 0h2m-1 0h2m3 0h2m2 0h2m0 0h2m-65 1h2m6 0h2m3 0h2m-1 0h2m-1 0h2m-1 0h2m0 0h2m-1 0h2m-1 0h2m-1 0h2m-1 0h2m-1 0h2m-1 0h2m-1 0h2m0 0h2m0 0h2m-1 0h2m-1 0h2m0 0h2m-1 0h2m0 0h2m0 0h2m1 0h2m-1 0h2m-1 0h2m0 0h2m-1 0h2m0 0h2m-1 0h2m0 0h2m2 0h2m-59 1h2m3 0h2m1 0h2m0 0h2m-1 0h2m-1 0h2m-1 0h2m0 0h2m2 0h2m-1 0h2m-1 0h2m-1 0h2m-1 0h2m-1 0h2m-1 0h2m-1 0h2m-1 0h2m0 0h2m-1 0h2m-1 0h2m-1 0h2m0 0h2m0 0h2m-1 0h2m-1 0h2m-1 0h2m-1 0h2m-1 0h2m-1 0h2m-1 0h2m-1 0h2m-1 0h2m2 0h2m0 0h2m-55 1h2m6 0h2m4 0h2m1 0h2m-1 0h2m0 0h2m-1 0h2m-1 0h2m-1 0h2m-1 0h2m-1 0h2m-1 0h2m0 0h2m-1 0h2m-1 0h2m-1 0h2m-1 0h2m-1 0h2m-1 0h2m3 0h2m-1 0h2m-1 0h2m-1 0h2m-1 0h2m-1 0h2m0 0h2m0 0h2m0 0h2m3 0h2m-1 0h2m3 0h2m-65 1h2m6 0h2m3 0h2m-1 0h2m3 0h2m-1 0h2m-1 0h2m2 0h2m-1 0h2m-1 0h2m-1 0h2m0 0h2m-1 0h2m-1 0h2m0 0h2m-1 0h2m-1 0h2m1 0h2m1 0h2m-1 0h2m-1 0h2m1 0h2m-1 0h2m-1 0h2m2 0h2m1 0h2m-1 0h2m2 0h2m7 0h2m0 0h2m-73 1h2m2 0h2m1 0h2m1 0h2m-1 0h2m0 0h2m2 0h2m0 0h2m-1 0h2m-1 0h2m-1 0h2m-1 0h2m1 0h2m-1 0h2m-1 0h2m0 0h2m-1 0h2m-1 0h2m-1 0h2m-1 0h2m2 0h2m-1 0h2m-1 0h2m0 0h2m0 0h2m0 0h2m-1 0h2m18 0h2m-68 1h2m0 0h2m2 0h2m3 0h2m-1 0h2m0 0h2m0 0h2m-1 0h2m-1 0h2m0 0h2m-1 0h2m1 0h2m2 0h2m-1 0h2m0 0h2m-1 0h2m-1 0h2m-1 0h2m-1 0h2m0 0h2m-1 0h2m-1 0h2m-1 0h2m-1 0h2m0 0h2m4 0h2m1 0h2m-1 0h2m6 0h2m-58 1h2m-1 0h2m1 0h2m3 0h2m1 0h2m-1 0h2m0 0h2m-1 0h2m-1 0h2m-1 0h2m-1 0h2m1 0h2m-1 0h2m0 0h2m-1 0h2m-1 0h2m-1 0h2m-1 0h2m-1 0h2m-1 0h2m0 0h2m-1 0h2m2 0h2m-1 0h2m-1 0h2m0 0h2m-1 0h2m8 0h2m0 0h2m1 0h2m1 0h2m-62 1h2m5 0h2m1 0h2m-1 0h2m-1 0h2m1 0h2m0 0h2m-1 0h2m0 0h2m-1 0h2m-1 0h2m0 0h2m-1 0h2m-1 0h2m0 0h2m0 0h2m-1 0h2m-1 0h2m-1 0h2m-1 0h2m-1 0h2m-1 0h2m0 0h2m0 0h2m-1 0h2m-1 0h2m-1 0h2m0 0h2m-1 0h2m1 0h2m3 0h2m2 0h2m-1 0h2m-64 1h2m2 0h2m3 0h2m-1 0h2m2 0h2m0 0h2m0 0h2m-1 0h2m-1 0h2m-1 0h2m-1 0h2m-1 0h2m-1 0h2m0 0h2m0 0h2m-1 0h2m1 0h2m-1 0h2m-1 0h2m-1 0h2m1 0h2m-1 0h2m-1 0h2m-1 0h2m-1 0h2m0 0h2m2 0h2m-1 0h2m-1 0h2m0 0h2m0 0h2m5 0h2m-66 1h2m-1 0h2m-1 0h2m2 0h2m4 0h2m-1 0h2m-1 0h2m-1 0h2m-1 0h2m-1 0h2m0 0h2m1 0h2m-1 0h2m-1 0h2m0 0h2m1 0h2m-1 0h2m-1 0h2m-1 0h2m-1 0h2m-1 0h2m-1 0h2m3 0h2m-1 0h2m-1 0h2m0 0h2m0 0h2m0 0h2m2 0h2m0 0h2m4 0h2m-63 1h2m3 0h2m-1 0h2m-1 0h2m2 0h2m2 0h2m-1 0h2m-1 0h2m1 0h2m-1 0h2m-1 0h2m0 0h2m-1 0h2m-1 0h2m-1 0h2m-1 0h2m0 0h2m-1 0h2m-1 0h2m-1 0h2m-1 0h2m-1 0h2m-1 0h2m-1 0h2m-1 0h2m0 0h2m0 0h2m0 0h2m-1 0h2m0 0h2m0 0h2m2 0h2m-1 0h2m2 0h2m3 0h2m1 0h2m-67 1h2m3 0h2m2 0h2m1 0h2m-1 0h2m-1 0h2m0 0h2m-1 0h2m-1 0h2m0 0h2m2 0h2m-1 0h2m-1 0h2m-1 0h2m-1 0h2m-1 0h2m-1 0h2m1 0h2m-1 0h2m1 0h2m-1 0h2m-1 0h2m0 0h2m-1 0h2m1 0h2m-1 0h2m0 0h2m-1 0h2m-1 0h2m2 0h2m2 0h2m-61 1h2m1 0h2m1 0h2m2 0h2m0 0h2m-1 0h2m3 0h2m-1 0h2m0 0h2m-1 0h2m2 0h2m0 0h2m-1 0h2m-1 0h2m-1 0h2m-1 0h2m-1 0h2m-1 0h2m-1 0h2m-1 0h2m0 0h2m3 0h2m1 0h2m0 0h2m-1 0h2m3 0h2m0 0h2m-60 1h2m8 0h2m3 0h2m-1 0h2m1 0h2m2 0h2m-1 0h2m0 0h2m-1 0h2m-1 0h2m-1 0h2m-1 0h2m2 0h2m-1 0h2m-1 0h2m-1 0h2m-1 0h2m0 0h2m1 0h2m-1 0h2m1 0h2m-1 0h2m-1 0h2m-1 0h2m-1 0h2m-1 0h2m-1 0h2m2 0h2m-1 0h2m1 0h2m-1 0h2m1 0h2m-60 1h2m4 0h2m1 0h2m-1 0h2m1 0h2m1 0h2m-1 0h2m1 0h2m0 0h2m-1 0h2m-1 0h2m0 0h2m-1 0h2m0 0h2m-1 0h2m1 0h2m0 0h2m-1 0h2m0 0h2m0 0h2m-1 0h2m-1 0h2m0 0h2m-1 0h2m-1 0h2m6 0h2m1 0h2m2 0h2m-63 1h2m0 0h2m0 0h2m-1 0h2m1 0h2m-1 0h2m2 0h2m-1 0h2m1 0h2m0 0h2m-1 0h2m-1 0h2m-1 0h2m0 0h2m-1 0h2m0 0h2m-1 0h2m0 0h2m-1 0h2m0 0h2m-1 0h2m-1 0h2m-1 0h2m0 0h2m1 0h2m0 0h2m0 0h2m-1 0h2m0 0h2m5 0h2m-58 1h2m-1 0h2m1 0h2m1 0h2m0 0h2m4 0h2m-1 0h2m4 0h2m-1 0h2m-1 0h2m1 0h2m0 0h2m0 0h2m-1 0h2m0 0h2m-1 0h2m-1 0h2m0 0h2m-1 0h2m-1 0h2m-1 0h2m0 0h2m3 0h2m0 0h2m0 0h2m-48 1h2m2 0h2m0 0h2m1 0h2m-1 0h2m-1 0h2m0 0h2m-1 0h2m-1 0h2m-1 0h2m-1 0h2m0 0h2m0 0h2m-1 0h2m-1 0h2m-1 0h2m0 0h2m-1 0h2m0 0h2m-1 0h2m-1 0h2m-1 0h2m1 0h2m4 0h2m0 0h2m2 0h2m3 0h2m-59 1h2m1 0h2m5 0h2m3 0h2m0 0h2m0 0h2m0 0h2m0 0h2m-1 0h2m1 0h2m0 0h2m-1 0h2m0 0h2m-1 0h2m0 0h2m-1 0h2m-1 0h2m-1 0h2m-1 0h2m-1 0h2m-1 0h2m7 0h2m0 0h2m-57 1h2m5 0h2m0 0h2m2 0h2m0 0h2m-1 0h2m0 0h2m-1 0h2m0 0h2m-1 0h2m-1 0h2m-1 0h2m-1 0h2m-1 0h2m-1 0h2m-1 0h2m-1 0h2m-1 0h2m-1 0h2m-1 0h2m2 0h2m1 0h2m-1 0h2m-1 0h2m0 0h2m-1 0h2m-1 0h2m0 0h2m2 0h2m-51 1h2m0 0h2m1 0h2m5 0h2m-1 0h2m-1 0h2m-1 0h2m-1 0h2m-1 0h2m-1 0h2m-1 0h2m0 0h2m-1 0h2m2 0h2m-1 0h2m0 0h2m-1 0h2m0 0h2m0 0h2m-1 0h2m-1 0h2m1 0h2m-1 0h2m-1 0h2m2 0h2m-1 0h2m-1 0h2m-1 0h2m0 0h2m-1 0h2m4 0h2m-53 1h2m-1 0h2m3 0h2m0 0h2m1 0h2m-1 0h2m1 0h2m-1 0h2m0 0h2m0 0h2m2 0h2m-1 0h2m-1 0h2m-1 0h2m-1 0h2m-1 0h2m-1 0h2m0 0h2m0 0h2m-1 0h2m2 0h2m-1 0h2m0 0h2m-1 0h2m2 0h2m2 0h2m0 0h2m-1 0h2m-62 1h2m4 0h2m5 0h2m3 0h2m-1 0h2m2 0h2m0 0h2m-1 0h2m-1 0h2m2 0h2m-1 0h2m0 0h2m2 0h2m-1 0h2m0 0h2m1 0h2m0 0h2m1 0h2m-53 1h2m0 0h2m1 0h2m2 0h2m1 0h2m-1 0h2m-1 0h2m3 0h2m0 0h2m-1 0h2m-1 0h2m3 0h2m1 0h2m-1 0h2m-1 0h2m0 0h2m-1 0h2m-1 0h2m7 0h2m0 0h2m2 0h2m-54 1h2m1 0h2m1 0h2m-1 0h2m2 0h2m1 0h2m2 0h2m0 0h2m-1 0h2m0 0h2m0 0h2m1 0h2m-1 0h2m-1 0h2m-1 0h2m-1 0h2m0 0h2m2 0h2m1 0h2m0 0h2m-1 0h2m-1 0h2m1 0h2m-50 1h2m-1 0h2m8 0h2m-1 0h2m-1 0h2m1 0h2m-1 0h2m-1 0h2m-1 0h2m-1 0h2m0 0h2m-1 0h2m-1 0h2m-1 0h2m0 0h2m-1 0h2m-1 0h2m1 0h2m-1 0h2m2 0h2m0 0h2m-1 0h2m1 0h2m13 0h2m-54 1h2m0 0h2m1 0h2m2 0h2m-1 0h2m7 0h2m-1 0h2m-1 0h2m2 0h2m-1 0h2m-1 0h2m0 0h2m-1 0h2m-1 0h2m1 0h2m0 0h2m0 0h2m-1 0h2m2 0h2m0 0h2m0 0h2m0 0h2m-56 1h2m2 0h2m-1 0h2m2 0h2m1 0h2m-1 0h2m-1 0h2m0 0h2m0 0h2m1 0h2m-1 0h2m0 0h2m-1 0h2m-1 0h2m-1 0h2m10 0h2m-1 0h2m4 0h2m-34 1h2m1 0h2m-1 0h2m-1 0h2m-1 0h2m-1 0h2m3 0h2m-1 0h2m-1 0h2m0 0h2m-1 0h2m2 0h2m-1 0h2m-1 0h2m0 0h2m2 0h2m1 0h2m0 0h2m3 0h2m-53 1h2m-1 0h2m-1 0h2m1 0h2m-1 0h2m0 0h2m0 0h2m0 0h2m1 0h2m0 0h2m1 0h2m0 0h2m-1 0h2m1 0h2m1 0h2m-1 0h2m0 0h2m2 0h2m-1 0h2m2 0h2m10 0h2m8 0h2m-66 1h2m1 0h2m2 0h2m-1 0h2m2 0h2m2 0h2m1 0h2m-1 0h2m0 0h2m-1 0h2m-1 0h2m-1 0h2m-1 0h2m0 0h2m0 0h2m-1 0h2m0 0h2m-1 0h2m7 0h2m-43 1h2m0 0h2m-1 0h2m2 0h2m0 0h2m2 0h2m2 0h2m0 0h2m2 0h2m-1 0h2m0 0h2m0 0h2m-1 0h2m4 0h2m-36 1h2m9 0h2m0 0h2m7 0h2m-1 0h2m2 0h2m3 0h2m8 0h2m9 0h2m-52 1h2m5 0h2m-1 0h2m2 0h2m3 0h2m3 0h2m0 0h2m1 0h2m-1 0h2m2 0h2m0 0h2m21 0h2m-56 1h2m2 0h2m1 0h2m1 0h2m3 0h2m3 0h2m8 0h2m0 0h2m3 0h2m-1 0h2m6 0h2m-1 0h2m-56 1h2m2 0h2m4 0h2m4 0h2m2 0h2m0 0h2m0 0h2m3 0h2m0 0h2m-1 0h2m3 0h2m-1 0h2m0 0h2m5 0h2m2 0h2m3 0h2m-63 1h2m2 0h2m2 0h2m5 0h2m0 0h2m2 0h2m1 0h2m7 0h2m1 0h2m7 0h2m0 0h2m4 0h2m0 0h2m-57 1h2m24 0h2m-1 0h2m2 0h2m-1 0h2m7 0h2m7 0h2m-49 1h2m-1 0h2m4 0h2m8 0h2m1 0h2m0 0h2m0 0h2m4 0h2m-1 0h2m1 0h2m2 0h2m13 0h2m2 0h2m-50 1h2m3 0h2m0 0h2m3 0h2m1 0h2m1 0h2m-1 0h2m5 0h2m-1 0h2m0 0h2m-1 0h2m0 0h2m-1 0h2m8 0h2m-43 1h2m4 0h2m-1 0h2m0 0h2m0 0h2m1 0h2m0 0h2m2 0h2m5 0h2m9 0h2m-47 1h2m-1 0h2m6 0h2m2 0h2m1 0h2m0 0h2m0 0h2m1 0h2m1 0h2m5 0h2m3 0h2m-27 1h2m13 0h2m-25 1h2m8 0h2m3 0h2m-1 0h2m0 0h2m0 0h2m0 0h2m3 0h2m-1 0h2m2 0h2m-23 1h2m3 0h2m2 0h2m5 0h2m0 0h2m-22 1h2m6 0h2m16 0h2m-36 1h2m1 0h2m6 0h2m7 0h2m-25 1h2m-1 0h2m7 0h2m17 0h2m8 0h2m-33 1h2m0 0h2m1 0h2m8 0h2m13 0h2m10 0h2m-33 1h2m0 0h2m8 0h2m-30 1h2m8 0h2m11 0h2m0 0h2m-1 0h2m-42 1h2m36 0h2m-10 1h2m3 0h2m6 0h2m-25 2h2m3 4h2m12 0h2m-37 1h2m32 7h2" stroke="#222" stroke-width="2.40" fill="none"/>
<path d="M191.3 329V421.5M154.4 381.5H248.6" stroke="#3a3ab8" stroke-width=".55" fill="none"/>
<path d="M154.4 329V421.5" stroke="#999" stroke-width="1.1" fill="none"/>
<path d="M154.4 421.5H248.6" stroke="#555" stroke-width="1.1" fill="none"/>
<path d="M153.0 403.0H154.4M153.0 384.5H154.4M153.0 366.0H154.4M153.0 347.5H154.4M173.2 421.5v1.4M192.1 421.5v1.4M210.9 421.5v1.4M229.8 421.5v1.4" stroke="#888" stroke-width=".7" fill="none"/>
<text x="156.6" y="335.1" font-size="4.5" fill="#5050a8" stroke="#5050a8" stroke-width=".12" text-anchor="start">0.577</text>
<text x="247.4" y="335.1" font-size="4.5" fill="#5050a8" stroke="#5050a8" stroke-width=".12" text-anchor="end">0.197</text>
<text x="156.6" y="419.9" font-size="4.5" fill="#5050a8" stroke="#5050a8" stroke-width=".12" text-anchor="start">90.4</text>
<text x="247.4" y="419.9" font-size="4.5" fill="#5050a8" stroke="#5050a8" stroke-width=".12" text-anchor="end">8.84</text>
<text x="201.5" y="428.9" font-size="5.4" font-weight="bold" fill="#333" text-anchor="middle" textLength="9.4" lengthAdjust="spacingAndGlyphs" stroke="#333" stroke-width="0.14">GFP</text>
<text transform="translate(150.0,375.2) rotate(-90)" font-size="5" font-weight="bold" fill="#333" text-anchor="middle" textLength="8.8" lengthAdjust="spacingAndGlyphs" stroke="#333" stroke-width="0.14">CD4</text>
<path d="M39.7 225.8H250V431.9H39.7ZM144.5 225.8V431.9M39.7 328.5H250" stroke="#555" stroke-width="1.3" fill="none"/>
<text x="268" y="220" font-size="11.5" text-anchor="start" font-weight="bold" fill="#111"  stroke="#111" stroke-width="0.14">D</text>
<text x="354.8" y="218.6" font-size="10" fill="#111" textLength="18.4" lengthAdjust="spacingAndGlyphs" stroke="#111" stroke-width="0.28">Pre-</text>
<text x="456.3" y="218.5" font-size="10" fill="#111" textLength="16" lengthAdjust="spacingAndGlyphs" stroke="#111" stroke-width="0.28">6 m</text>
<text x="280.1" y="275.2" font-size="10.9" fill="#111" textLength="24" lengthAdjust="spacingAndGlyphs" stroke="#111" stroke-width="0.28">C46.2</text>
<text x="280.1" y="383.9" font-size="10.7" fill="#111" textLength="25.9" lengthAdjust="spacingAndGlyphs" stroke="#111" stroke-width="0.28">Cont.2</text>
<path filter="url(#soft)" transform="scale(0.333333)" d="M1027 695h2m10 16h2m43 17h2m-36 42h2m-63 23h2m23 28h2m171 3h2m-84 74h2m-35 37h2m103 0h2m-2 9h2m-152 7h2" stroke="#5a5a5a" stroke-width="2.40" fill="none"/>
<path filter="url(#soft)" transform="scale(0.333333)" d="M1127 788h2m-103 6h2m0 0h2m1 0h2m129 2h2m-97 3h2m-74 1h2m46 1h2m3 0h2m67 0h2m-126 1h2m2 0h2m32 0h2m103 0h2m3 0h2m-158 1h2m29 0h2m3 0h2m0 0h2m113 0h2m-143 1h2m7 0h2m6 0h2m-1 0h2m31 0h2m60 0h2m80 0h2m-197 1h2m0 0h2m11 0h2m11 0h2m25 0h2m9 0h2m45 0h2m13 0h2m11 0h2m16 0h2m6 0h2m-170 1h2m17 0h2m6 0h2m1 0h2m-1 0h2m1 0h2m17 0h2m1 0h2m3 0h2m-1 0h2m7 0h2m34 0h2m27 0h2m23 0h2m-173 1h2m7 0h2m0 0h2m2 0h2m0 0h2m5 0h2m24 0h2m90 0h2m-1 0h2m17 0h2m25 0h2m-171 1h2m-1 0h2m13 0h2m25 0h2m12 0h2m48 0h2m6 0h2m5 0h2m5 0h2m18 0h2m-150 1h2m6 0h2m7 0h2m6 0h2m16 0h2m-1 0h2m1 0h2m4 0h2m-1 0h2m32 0h2m65 0h2m-167 1h2m7 0h2m0 0h2m-1 0h2m0 0h2m2 0h2m3 0h2m1 0h2m-1 0h2m1 0h2m4 0h2m0 0h2m0 0h2m9 0h2m5 0h2m3 0h2m6 0h2m0 0h2m29 0h2m7 0h2m6 0h2m14 0h2m4 0h2m13 0h2m28 0h2m14 0h2m-223 1h2m-1 0h2m13 0h2m6 0h2m4 0h2m3 0h2m0 0h2m9 0h2m1 0h2m-1 0h2m-1 0h2m-1 0h2m10 0h2m0 0h2m-1 0h2m0 0h2m0 0h2m0 0h2m1 0h2m4 0h2m9 0h2m29 0h2m9 0h2m0 0h2m7 0h2m1 0h2m2 0h2m12 0h2m17 0h2m-188 1h2m14 0h2m3 0h2m6 0h2m5 0h2m-1 0h2m3 0h2m5 0h2m-1 0h2m5 0h2m-1 0h2m1 0h2m-1 0h2m0 0h2m21 0h2m31 0h2m14 0h2m15 0h2m7 0h2m-1 0h2m-176 1h2m15 0h2m9 0h2m1 0h2m5 0h2m2 0h2m1 0h2m0 0h2m0 0h2m1 0h2m0 0h2m1 0h2m6 0h2m2 0h2m4 0h2m-1 0h2m-1 0h2m10 0h2m35 0h2m45 0h2m0 0h2m1 0h2m4 0h2m3 0h2m-1 0h2m2 0h2m-186 1h2m2 0h2m2 0h2m2 0h2m1 0h2m7 0h2m0 0h2m1 0h2m0 0h2m3 0h2m3 0h2m4 0h2m-1 0h2m0 0h2m6 0h2m-1 0h2m-1 0h2m2 0h2m-1 0h2m1 0h2m-1 0h2m-1 0h2m1 0h2m8 0h2m-1 0h2m-1 0h2m23 0h2m8 0h2m11 0h2m0 0h2m1 0h2m1 0h2m-1 0h2m2 0h2m0 0h2m4 0h2m1 0h2m2 0h2m1 0h2m5 0h2m3 0h2m21 0h2m3 0h2m3 0h2m8 0h2m-228 1h2m7 0h2m0 0h2m1 0h2m2 0h2m6 0h2m5 0h2m1 0h2m2 0h2m4 0h2m0 0h2m1 0h2m4 0h2m6 0h2m0 0h2m1 0h2m0 0h2m-1 0h2m16 0h2m11 0h2m-1 0h2m11 0h2m10 0h2m1 0h2m17 0h2m18 0h2m2 0h2m-1 0h2m1 0h2m6 0h2m8 0h2m1 0h2m1 0h2m11 0h2m-212 1h2m10 0h2m-1 0h2m-1 0h2m-1 0h2m5 0h2m-1 0h2m1 0h2m0 0h2m1 0h2m1 0h2m4 0h2m5 0h2m1 0h2m0 0h2m0 0h2m0 0h2m2 0h2m5 0h2m0 0h2m2 0h2m1 0h2m1 0h2m3 0h2m6 0h2m0 0h2m-1 0h2m8 0h2m0 0h2m2 0h2m15 0h2m8 0h2m5 0h2m-1 0h2m-1 0h2m9 0h2m1 0h2m0 0h2m7 0h2m4 0h2m23 0h2m-211 1h2m0 0h2m6 0h2m2 0h2m0 0h2m0 0h2m6 0h2m2 0h2m0 0h2m3 0h2m0 0h2m-1 0h2m0 0h2m-1 0h2m1 0h2m-1 0h2m1 0h2m1 0h2m5 0h2m3 0h2m-1 0h2m1 0h2m-1 0h2m5 0h2m3 0h2m5 0h2m9 0h2m15 0h2m4 0h2m2 0h2m7 0h2m2 0h2m0 0h2m1 0h2m0 0h2m5 0h2m1 0h2m2 0h2m14 0h2m3 0h2m29 0h2m-207 1h2m4 0h2m1 0h2m0 0h2m-1 0h2m5 0h2m2 0h2m4 0h2m-1 0h2m-1 0h2m-1 0h2m2 0h2m-1 0h2m1 0h2m2 0h2m4 0h2m-1 0h2m0 0h2m-1 0h2m-1 0h2m3 0h2m0 0h2m1 0h2m3 0h2m8 0h2m21 0h2m11 0h2m4 0h2m2 0h2m-1 0h2m0 0h2m3 0h2m1 0h2m5 0h2m1 0h2m2 0h2m2 0h2m4 0h2m4 0h2m3 0h2m1 0h2m-1 0h2m11 0h2m10 0h2m-210 1h2m3 0h2m7 0h2m1 0h2m1 0h2m0 0h2m1 0h2m-1 0h2m4 0h2m3 0h2m0 0h2m0 0h2m0 0h2m2 0h2m0 0h2m-1 0h2m-1 0h2m-1 0h2m1 0h2m-1 0h2m-1 0h2m-1 0h2m0 0h2m-1 0h2m3 0h2m2 0h2m1 0h2m3 0h2m5 0h2m-1 0h2m-1 0h2m1 0h2m-1 0h2m1 0h2m6 0h2m16 0h2m2 0h2m2 0h2m1 0h2m3 0h2m7 0h2m0 0h2m0 0h2m0 0h2m10 0h2m2 0h2m0 0h2m6 0h2m4 0h2m-1 0h2m3 0h2m2 0h2m-197 1h2m2 0h2m-1 0h2m1 0h2m0 0h2m3 0h2m2 0h2m3 0h2m0 0h2m-1 0h2m0 0h2m-1 0h2m-1 0h2m0 0h2m-1 0h2m-1 0h2m-1 0h2m0 0h2m1 0h2m0 0h2m0 0h2m2 0h2m-1 0h2m3 0h2m0 0h2m-1 0h2m-1 0h2m-1 0h2m-1 0h2m-1 0h2m0 0h2m1 0h2m-1 0h2m0 0h2m0 0h2m-1 0h2m0 0h2m0 0h2m-1 0h2m1 0h2m0 0h2m3 0h2m29 0h2m8 0h2m-1 0h2m2 0h2m2 0h2m0 0h2m2 0h2m6 0h2m-1 0h2m5 0h2m-1 0h2m1 0h2m4 0h2m-1 0h2m1 0h2m12 0h2m12 0h2m10 0h2m-207 1h2m4 0h2m6 0h2m0 0h2m3 0h2m0 0h2m-1 0h2m-1 0h2m-1 0h2m-1 0h2m-1 0h2m-1 0h2m0 0h2m-1 0h2m-1 0h2m10 0h2m-1 0h2m-1 0h2m0 0h2m0 0h2m-1 0h2m-1 0h2m1 0h2m-1 0h2m-1 0h2m-1 0h2m-1 0h2m0 0h2m-1 0h2m-1 0h2m2 0h2m0 0h2m1 0h2m-1 0h2m1 0h2m32 0h2m4 0h2m3 0h2m10 0h2m0 0h2m3 0h2m1 0h2m-1 0h2m0 0h2m-1 0h2m0 0h2m-1 0h2m11 0h2m2 0h2m-1 0h2m5 0h2m-1 0h2m-1 0h2m3 0h2m0 0h2m-201 1h2m5 0h2m10 0h2m0 0h2m-1 0h2m0 0h2m1 0h2m1 0h2m1 0h2m0 0h2m0 0h2m-1 0h2m0 0h2m-1 0h2m0 0h2m1 0h2m-1 0h2m-1 0h2m0 0h2m-1 0h2m0 0h2m1 0h2m0 0h2m4 0h2m0 0h2m-1 0h2m3 0h2m5 0h2m4 0h2m2 0h2m-1 0h2m0 0h2m23 0h2m-1 0h2m16 0h2m-1 0h2m-1 0h2m0 0h2m0 0h2m4 0h2m2 0h2m-1 0h2m0 0h2m0 0h2m-1 0h2m-1 0h2m0 0h2m1 0h2m0 0h2m0 0h2m16 0h2m5 0h2m0 0h2m5 0h2m1 0h2m4 0h2m-207 1h2m6 0h2m0 0h2m-1 0h2m2 0h2m-1 0h2m-1 0h2m1 0h2m0 0h2m-1 0h2m6 0h2m1 0h2m1 0h2m0 0h2m-1 0h2m-1 0h2m2 0h2m3 0h2m-1 0h2m0 0h2m-1 0h2m-1 0h2m-1 0h2m0 0h2m0 0h2m-1 0h2m-1 0h2m-1 0h2m1 0h2m3 0h2m-1 0h2m-1 0h2m1 0h2m1 0h2m-1 0h2m6 0h2m5 0h2m12 0h2m3 0h2m0 0h2m2 0h2m0 0h2m1 0h2m0 0h2m0 0h2m1 0h2m4 0h2m-1 0h2m0 0h2m-1 0h2m0 0h2m-1 0h2m5 0h2m0 0h2m-1 0h2m2 0h2m2 0h2m1 0h2m-1 0h2m0 0h2m-1 0h2m3 0h2m-1 0h2m-1 0h2m1 0h2m0 0h2m-1 0h2m5 0h2m-177 1h2m-1 0h2m2 0h2m-1 0h2m0 0h2m3 0h2m-1 0h2m2 0h2m0 0h2m1 0h2m-1 0h2m0 0h2m0 0h2m-1 0h2m-1 0h2m0 0h2m1 0h2m0 0h2m0 0h2m-1 0h2m-1 0h2m1 0h2m4 0h2m-1 0h2m3 0h2m0 0h2m-1 0h2m-1 0h2m-1 0h2m3 0h2m-1 0h2m1 0h2m3 0h2m25 0h2m-1 0h2m5 0h2m3 0h2m2 0h2m2 0h2m0 0h2m-1 0h2m-1 0h2m0 0h2m4 0h2m5 0h2m8 0h2m2 0h2m1 0h2m3 0h2m2 0h2m0 0h2m11 0h2m6 0h2m6 0h2m-202 1h2m1 0h2m0 0h2m0 0h2m2 0h2m-1 0h2m-1 0h2m-1 0h2m2 0h2m-1 0h2m0 0h2m0 0h2m1 0h2m-1 0h2m-1 0h2m1 0h2m-1 0h2m-1 0h2m-1 0h2m3 0h2m-1 0h2m-1 0h2m2 0h2m0 0h2m0 0h2m0 0h2m0 0h2m0 0h2m-1 0h2m0 0h2m0 0h2m1 0h2m4 0h2m-1 0h2m1 0h2m0 0h2m-1 0h2m0 0h2m9 0h2m-1 0h2m-1 0h2m8 0h2m12 0h2m3 0h2m0 0h2m5 0h2m3 0h2m2 0h2m0 0h2m-1 0h2m-1 0h2m-1 0h2m-1 0h2m-1 0h2m-1 0h2m0 0h2m0 0h2m1 0h2m-1 0h2m-1 0h2m5 0h2m-1 0h2m0 0h2m1 0h2m-1 0h2m8 0h2m2 0h2m-204 1h2m24 0h2m-1 0h2m-1 0h2m-1 0h2m0 0h2m0 0h2m-1 0h2m-1 0h2m1 0h2m-1 0h2m1 0h2m-1 0h2m-1 0h2m-1 0h2m-1 0h2m-1 0h2m-1 0h2m0 0h2m2 0h2m1 0h2m0 0h2m0 0h2m-1 0h2m0 0h2m-1 0h2m0 0h2m1 0h2m1 0h2m-1 0h2m0 0h2m0 0h2m-1 0h2m1 0h2m-1 0h2m0 0h2m4 0h2m6 0h2m3 0h2m14 0h2m5 0h2m14 0h2m3 0h2m0 0h2m5 0h2m1 0h2m3 0h2m-1 0h2m-1 0h2m1 0h2m2 0h2m2 0h2m-1 0h2m0 0h2m-1 0h2m4 0h2m3 0h2m16 0h2m27 0h2m-236 1h2m11 0h2m-1 0h2m1 0h2m-1 0h2m1 0h2m0 0h2m0 0h2m-1 0h2m2 0h2m0 0h2m0 0h2m-1 0h2m0 0h2m1 0h2m2 0h2m0 0h2m0 0h2m-1 0h2m0 0h2m0 0h2m0 0h2m-1 0h2m-1 0h2m1 0h2m-1 0h2m-1 0h2m-1 0h2m1 0h2m0 0h2m1 0h2m0 0h2m-1 0h2m2 0h2m3 0h2m0 0h2m5 0h2m15 0h2m5 0h2m6 0h2m-1 0h2m-1 0h2m1 0h2m-1 0h2m1 0h2m2 0h2m0 0h2m1 0h2m3 0h2m-1 0h2m5 0h2m-1 0h2m-1 0h2m1 0h2m-1 0h2m-1 0h2m7 0h2m1 0h2m1 0h2m2 0h2m1 0h2m0 0h2m0 0h2m24 0h2m-217 1h2m2 0h2m0 0h2m2 0h2m-1 0h2m-1 0h2m-1 0h2m3 0h2m3 0h2m0 0h2m1 0h2m-1 0h2m0 0h2m0 0h2m-1 0h2m0 0h2m-1 0h2m0 0h2m-1 0h2m-1 0h2m-1 0h2m-1 0h2m-1 0h2m1 0h2m0 0h2m0 0h2m-1 0h2m-1 0h2m-1 0h2m-1 0h2m-1 0h2m-1 0h2m-1 0h2m0 0h2m-1 0h2m0 0h2m0 0h2m0 0h2m-1 0h2m1 0h2m-1 0h2m-1 0h2m-1 0h2m0 0h2m-1 0h2m-1 0h2m8 0h2m4 0h2m7 0h2m1 0h2m6 0h2m10 0h2m1 0h2m4 0h2m0 0h2m3 0h2m-1 0h2m-1 0h2m3 0h2m2 0h2m0 0h2m1 0h2m-1 0h2m-1 0h2m-1 0h2m0 0h2m-1 0h2m1 0h2m-1 0h2m1 0h2m-1 0h2m-1 0h2m3 0h2m7 0h2m-1 0h2m0 0h2m5 0h2m1 0h2m8 0h2m19 0h2m-221 1h2m-1 0h2m-1 0h2m1 0h2m3 0h2m5 0h2m0 0h2m1 0h2m0 0h2m-1 0h2m-1 0h2m-1 0h2m-1 0h2m-1 0h2m-1 0h2m3 0h2m-1 0h2m-1 0h2m-1 0h2m1 0h2m0 0h2m-1 0h2m-1 0h2m-1 0h2m-1 0h2m0 0h2m-1 0h2m5 0h2m2 0h2m-1 0h2m5 0h2m2 0h2m0 0h2m0 0h2m11 0h2m4 0h2m19 0h2m2 0h2m0 0h2m8 0h2m0 0h2m-1 0h2m0 0h2m0 0h2m1 0h2m-1 0h2m-1 0h2m3 0h2m-1 0h2m5 0h2m-1 0h2m0 0h2m-1 0h2m-1 0h2m-1 0h2m1 0h2m-1 0h2m9 0h2m0 0h2m11 0h2m-201 1h2m1 0h2m3 0h2m-1 0h2m0 0h2m0 0h2m-1 0h2m5 0h2m-1 0h2m-1 0h2m-1 0h2m-1 0h2m0 0h2m-1 0h2m0 0h2m-1 0h2m-1 0h2m1 0h2m-1 0h2m-1 0h2m-1 0h2m0 0h2m0 0h2m2 0h2m-1 0h2m0 0h2m0 0h2m1 0h2m-1 0h2m-1 0h2m-1 0h2m0 0h2m-1 0h2m0 0h2m0 0h2m0 0h2m1 0h2m-1 0h2m-1 0h2m0 0h2m1 0h2m10 0h2m16 0h2m6 0h2m7 0h2m2 0h2m1 0h2m-1 0h2m0 0h2m1 0h2m-1 0h2m4 0h2m0 0h2m-1 0h2m1 0h2m0 0h2m-1 0h2m-1 0h2m2 0h2m2 0h2m0 0h2m1 0h2m2 0h2m4 0h2m19 0h2m43 0h2m-256 1h2m2 0h2m-1 0h2m12 0h2m-1 0h2m9 0h2m-1 0h2m-1 0h2m-1 0h2m0 0h2m0 0h2m0 0h2m-1 0h2m-1 0h2m-1 0h2m-1 0h2m-1 0h2m-1 0h2m-1 0h2m0 0h2m-1 0h2m0 0h2m-1 0h2m0 0h2m-1 0h2m-1 0h2m0 0h2m-1 0h2m0 0h2m-1 0h2m0 0h2m-1 0h2m-1 0h2m0 0h2m1 0h2m0 0h2m-1 0h2m-1 0h2m-1 0h2m2 0h2m-1 0h2m-1 0h2m-1 0h2m-1 0h2m1 0h2m2 0h2m-1 0h2m3 0h2m2 0h2m3 0h2m5 0h2m8 0h2m12 0h2m4 0h2m-1 0h2m0 0h2m0 0h2m0 0h2m-1 0h2m1 0h2m1 0h2m2 0h2m0 0h2m3 0h2m4 0h2m1 0h2m1 0h2m3 0h2m0 0h2m-1 0h2m2 0h2m0 0h2m0 0h2m4 0h2m0 0h2m0 0h2m4 0h2m-200 1h2m0 0h2m11 0h2m2 0h2m2 0h2m1 0h2m-1 0h2m-1 0h2m-1 0h2m0 0h2m-1 0h2m0 0h2m-1 0h2m0 0h2m0 0h2m-1 0h2m-1 0h2m-1 0h2m-1 0h2m-1 0h2m-1 0h2m2 0h2m-1 0h2m-1 0h2m0 0h2m0 0h2m6 0h2m0 0h2m0 0h2m-1 0h2m-1 0h2m-1 0h2m2 0h2m-1 0h2m0 0h2m5 0h2m1 0h2m5 0h2m12 0h2m0 0h2m7 0h2m12 0h2m0 0h2m-1 0h2m0 0h2m-1 0h2m0 0h2m3 0h2m-1 0h2m1 0h2m-1 0h2m-1 0h2m0 0h2m-1 0h2m2 0h2m-1 0h2m0 0h2m0 0h2m5 0h2m3 0h2m-1 0h2m10 0h2m-205 1h2m11 0h2m-1 0h2m5 0h2m-1 0h2m2 0h2m4 0h2m0 0h2m0 0h2m-1 0h2m-1 0h2m-1 0h2m-1 0h2m1 0h2m0 0h2m-1 0h2m3 0h2m1 0h2m-1 0h2m0 0h2m0 0h2m-1 0h2m0 0h2m0 0h2m-1 0h2m0 0h2m0 0h2m-1 0h2m0 0h2m0 0h2m-1 0h2m2 0h2m3 0h2m1 0h2m34 0h2m2 0h2m-1 0h2m-1 0h2m-1 0h2m10 0h2m0 0h2m0 0h2m1 0h2m3 0h2m1 0h2m0 0h2m3 0h2m4 0h2m2 0h2m2 0h2m5 0h2m3 0h2m0 0h2m6 0h2m3 0h2m0 0h2m-201 1h2m8 0h2m0 0h2m2 0h2m-1 0h2m-1 0h2m5 0h2m0 0h2m1 0h2m1 0h2m-1 0h2m0 0h2m0 0h2m-1 0h2m-1 0h2m0 0h2m-1 0h2m-1 0h2m3 0h2m-1 0h2m1 0h2m2 0h2m-1 0h2m3 0h2m-1 0h2m3 0h2m0 0h2m7 0h2m13 0h2m-1 0h2m0 0h2m9 0h2m15 0h2m-1 0h2m8 0h2m2 0h2m3 0h2m0 0h2m-1 0h2m0 0h2m2 0h2m0 0h2m-1 0h2m-1 0h2m1 0h2m0 0h2m-1 0h2m0 0h2m-1 0h2m-1 0h2m-1 0h2m4 0h2m4 0h2m4 0h2m-194 1h2m3 0h2m1 0h2m0 0h2m1 0h2m5 0h2m-1 0h2m2 0h2m1 0h2m-1 0h2m0 0h2m0 0h2m0 0h2m0 0h2m3 0h2m0 0h2m-1 0h2m-1 0h2m0 0h2m-1 0h2m0 0h2m-1 0h2m-1 0h2m-1 0h2m-1 0h2m0 0h2m0 0h2m0 0h2m3 0h2m0 0h2m0 0h2m0 0h2m-1 0h2m6 0h2m0 0h2m2 0h2m4 0h2m10 0h2m5 0h2m9 0h2m-1 0h2m0 0h2m2 0h2m0 0h2m2 0h2m0 0h2m4 0h2m1 0h2m-1 0h2m1 0h2m1 0h2m0 0h2m6 0h2m0 0h2m1 0h2m0 0h2m0 0h2m4 0h2m25 0h2m0 0h2m-202 1h2m5 0h2m1 0h2m-1 0h2m-1 0h2m0 0h2m3 0h2m0 0h2m2 0h2m0 0h2m0 0h2m1 0h2m0 0h2m0 0h2m0 0h2m-1 0h2m-1 0h2m0 0h2m-1 0h2m-1 0h2m2 0h2m-1 0h2m-1 0h2m-1 0h2m-1 0h2m-1 0h2m-1 0h2m1 0h2m0 0h2m2 0h2m0 0h2m1 0h2m3 0h2m2 0h2m-1 0h2m0 0h2m0 0h2m0 0h2m11 0h2m4 0h2m5 0h2m13 0h2m0 0h2m6 0h2m0 0h2m2 0h2m2 0h2m0 0h2m1 0h2m-1 0h2m-1 0h2m5 0h2m0 0h2m3 0h2m19 0h2m-1 0h2m1 0h2m-198 1h2m0 0h2m7 0h2m1 0h2m0 0h2m3 0h2m-1 0h2m0 0h2m-1 0h2m3 0h2m0 0h2m-1 0h2m0 0h2m0 0h2m5 0h2m-1 0h2m1 0h2m-1 0h2m0 0h2m-1 0h2m1 0h2m-1 0h2m-1 0h2m5 0h2m-1 0h2m3 0h2m1 0h2m0 0h2m5 0h2m0 0h2m20 0h2m17 0h2m5 0h2m4 0h2m3 0h2m5 0h2m1 0h2m7 0h2m7 0h2m0 0h2m0 0h2m0 0h2m-1 0h2m3 0h2m2 0h2m16 0h2m13 0h2m-230 1h2m3 0h2m8 0h2m5 0h2m8 0h2m3 0h2m2 0h2m2 0h2m-1 0h2m0 0h2m-1 0h2m0 0h2m1 0h2m-1 0h2m-1 0h2m-1 0h2m-1 0h2m-1 0h2m0 0h2m-1 0h2m1 0h2m-1 0h2m-1 0h2m0 0h2m3 0h2m0 0h2m-1 0h2m6 0h2m35 0h2m7 0h2m5 0h2m-1 0h2m2 0h2m6 0h2m5 0h2m2 0h2m4 0h2m0 0h2m1 0h2m0 0h2m1 0h2m-1 0h2m0 0h2m16 0h2m1 0h2m-206 1h2m4 0h2m4 0h2m9 0h2m-1 0h2m1 0h2m0 0h2m-1 0h2m-1 0h2m-1 0h2m-1 0h2m1 0h2m2 0h2m6 0h2m1 0h2m1 0h2m-1 0h2m0 0h2m-1 0h2m-1 0h2m0 0h2m1 0h2m-1 0h2m1 0h2m0 0h2m-1 0h2m-1 0h2m1 0h2m-1 0h2m-1 0h2m1 0h2m0 0h2m-1 0h2m0 0h2m-1 0h2m9 0h2m6 0h2m-1 0h2m1 0h2m13 0h2m15 0h2m0 0h2m2 0h2m-1 0h2m3 0h2m1 0h2m4 0h2m-1 0h2m1 0h2m0 0h2m-1 0h2m0 0h2m-1 0h2m1 0h2m6 0h2m-1 0h2m-1 0h2m39 0h2m-227 1h2m-1 0h2m7 0h2m3 0h2m-1 0h2m0 0h2m1 0h2m-1 0h2m5 0h2m-1 0h2m0 0h2m-1 0h2m1 0h2m1 0h2m-1 0h2m4 0h2m-1 0h2m-1 0h2m-1 0h2m2 0h2m2 0h2m-1 0h2m2 0h2m-1 0h2m-1 0h2m0 0h2m3 0h2m0 0h2m0 0h2m2 0h2m11 0h2m-1 0h2m6 0h2m12 0h2m2 0h2m12 0h2m1 0h2m4 0h2m8 0h2m2 0h2m0 0h2m9 0h2m1 0h2m10 0h2m0 0h2m13 0h2m4 0h2m-204 1h2m15 0h2m3 0h2m1 0h2m1 0h2m2 0h2m0 0h2m-1 0h2m0 0h2m1 0h2m0 0h2m5 0h2m-1 0h2m-1 0h2m1 0h2m3 0h2m3 0h2m5 0h2m6 0h2m13 0h2m13 0h2m23 0h2m0 0h2m13 0h2m3 0h2m8 0h2m1 0h2m2 0h2m-1 0h2m3 0h2m2 0h2m7 0h2m1 0h2m5 0h2m2 0h2m0 0h2m4 0h2m-198 1h2m9 0h2m5 0h2m1 0h2m0 0h2m-1 0h2m1 0h2m-1 0h2m6 0h2m-1 0h2m-1 0h2m2 0h2m6 0h2m7 0h2m3 0h2m-1 0h2m8 0h2m34 0h2m3 0h2m11 0h2m3 0h2m4 0h2m5 0h2m5 0h2m0 0h2m4 0h2m9 0h2m0 0h2m-192 1h2m11 0h2m5 0h2m9 0h2m0 0h2m0 0h2m-1 0h2m0 0h2m3 0h2m3 0h2m1 0h2m3 0h2m1 0h2m6 0h2m6 0h2m-1 0h2m-1 0h2m-1 0h2m13 0h2m2 0h2m17 0h2m5 0h2m3 0h2m11 0h2m8 0h2m0 0h2m0 0h2m8 0h2m0 0h2m33 0h2m-197 1h2m0 0h2m2 0h2m2 0h2m7 0h2m4 0h2m9 0h2m-1 0h2m3 0h2m0 0h2m-1 0h2m-1 0h2m-1 0h2m-1 0h2m2 0h2m-1 0h2m13 0h2m22 0h2m23 0h2m2 0h2m18 0h2m1 0h2m0 0h2m7 0h2m22 0h2m16 0h2m-201 1h2m7 0h2m7 0h2m5 0h2m1 0h2m0 0h2m8 0h2m2 0h2m0 0h2m0 0h2m-1 0h2m9 0h2m-1 0h2m-1 0h2m9 0h2m16 0h2m10 0h2m16 0h2m15 0h2m13 0h2m4 0h2m2 0h2m-1 0h2m0 0h2m0 0h2m1 0h2m21 0h2m-195 1h2m17 0h2m5 0h2m-1 0h2m-1 0h2m1 0h2m10 0h2m7 0h2m1 0h2m2 0h2m-1 0h2m5 0h2m3 0h2m-1 0h2m-1 0h2m44 0h2m27 0h2m26 0h2m13 0h2m1 0h2m0 0h2m-178 1h2m1 0h2m5 0h2m10 0h2m21 0h2m2 0h2m43 0h2m17 0h2m-1 0h2m0 0h2m17 0h2m0 0h2m-1 0h2m7 0h2m-181 1h2m16 0h2m25 0h2m20 0h2m7 0h2m0 0h2m76 0h2m0 0h2m9 0h2m2 0h2m8 0h2m9 0h2m4 0h2m7 0h2m8 0h2m10 0h2m-214 1h2m7 0h2m26 0h2m1 0h2m20 0h2m-1 0h2m53 0h2m6 0h2m11 0h2m-1 0h2m5 0h2m1 0h2m8 0h2m16 0h2m-198 1h2m1 0h2m27 0h2m0 0h2m17 0h2m3 0h2m15 0h2m20 0h2m72 0h2m-1 0h2m6 0h2m-157 1h2m12 0h2m22 0h2m78 0h2m3 0h2m8 0h2m38 0h2m-1 0h2m-171 1h2m7 0h2m0 0h2m19 0h2m-1 0h2m1 0h2m7 0h2m1 0h2m0 0h2m62 0h2m17 0h2m9 0h2m-1 0h2m3 0h2m20 0h2m-172 1h2m4 0h2m2 0h2m8 0h2m14 0h2m58 0h2m26 0h2m8 0h2m-134 1h2m24 0h2m29 0h2m65 0h2m16 0h2m0 0h2m-1 0h2m-148 1h2m9 0h2m18 0h2m100 0h2m7 0h2m18 0h2m3 0h2m-137 1h2m14 0h2m76 0h2m0 0h2m18 0h2m-183 1h2m52 0h2m89 0h2m28 0h2m-31 1h2m30 0h2m-136 1h2m8 0h2m9 0h2m-3 1h2m80 0h2m0 0h2m1 0h2m-127 1h2m122 0h2m8 0h2m9 0h2m14 0h2m11 0h2m4 0h2m-204 1h2m41 0h2m120 0h2m-1 0h2m1 0h2m-1 0h2m2 0h2m-1 0h2m6 0h2m-36 2h2m14 0h2m12 0h2m14 0h2m15 0h2m-177 1h2m99 0h2m11 0h2m24 0h2m5 0h2m3 0h2m-177 1h2m35 0h2m127 0h2m10 0h2m-161 1h2m54 0h2m49 0h2m13 0h2m3 0h2m16 0h2m5 0h2m-1 0h2m14 0h2m-162 1h2m88 0h2m20 0h2m5 0h2m5 0h2m3 0h2m12 0h2m-1 0h2m-128 1h2m72 0h2m12 0h2m8 0h2m17 0h2m-158 1h2m7 0h2m11 0h2m102 0h2m0 0h2m0 0h2m12 0h2m0 0h2m18 0h2m2 0h2m-176 1h2m6 0h2m104 0h2m17 0h2m2 0h2m11 0h2m13 0h2m-181 1h2m16 0h2m33 0h2m78 0h2m1 0h2m-1 0h2m1 0h2m18 0h2m3 0h2m0 0h2m5 0h2m-152 1h2m3 0h2m7 0h2m55 0h2m22 0h2m31 0h2m2 0h2m6 0h2m-1 0h2m23 0h2m8 0h2m-158 1h2m27 0h2m-1 0h2m65 0h2m7 0h2m2 0h2m3 0h2m-1 0h2m0 0h2m2 0h2m2 0h2m-152 1h2m16 0h2m49 0h2m51 0h2m8 0h2m5 0h2m9 0h2m-1 0h2m-185 1h2m10 0h2m18 0h2m0 0h2m13 0h2m-1 0h2m21 0h2m1 0h2m43 0h2m24 0h2m10 0h2m-1 0h2m7 0h2m0 0h2m1 0h2m0 0h2m10 0h2m1 0h2m11 0h2m-208 1h2m21 0h2m2 0h2m5 0h2m1 0h2m4 0h2m4 0h2m1 0h2m3 0h2m8 0h2m5 0h2m7 0h2m7 0h2m7 0h2m37 0h2m13 0h2m0 0h2m5 0h2m6 0h2m-1 0h2m-1 0h2m5 0h2m-1 0h2m3 0h2m-1 0h2m18 0h2m-190 1h2m8 0h2m10 0h2m20 0h2m25 0h2m67 0h2m0 0h2m9 0h2m3 0h2m2 0h2m1 0h2m-178 1h2m15 0h2m-1 0h2m0 0h2m4 0h2m-1 0h2m15 0h2m1 0h2m5 0h2m0 0h2m0 0h2m-1 0h2m23 0h2m60 0h2m-1 0h2m3 0h2m0 0h2m-1 0h2m2 0h2m1 0h2m-1 0h2m5 0h2m-1 0h2m-1 0h2m-1 0h2m14 0h2m-165 1h2m12 0h2m-1 0h2m31 0h2m64 0h2m-1 0h2m6 0h2m6 0h2m6 0h2m13 0h2m3 0h2m-1 0h2m22 0h2m-169 1h2m10 0h2m10 0h2m6 0h2m59 0h2m10 0h2m6 0h2m0 0h2m3 0h2m0 0h2m-1 0h2m-1 0h2m-1 0h2m3 0h2m3 0h2m1 0h2m8 0h2m-198 1h2m11 0h2m4 0h2m2 0h2m10 0h2m-1 0h2m7 0h2m0 0h2m1 0h2m5 0h2m1 0h2m0 0h2m2 0h2m2 0h2m8 0h2m0 0h2m1 0h2m13 0h2m39 0h2m19 0h2m13 0h2m3 0h2m0 0h2m22 0h2m-204 1h2m17 0h2m6 0h2m8 0h2m0 0h2m4 0h2m8 0h2m-1 0h2m2 0h2m3 0h2m31 0h2m26 0h2m11 0h2m0 0h2m2 0h2m3 0h2m4 0h2m-1 0h2m1 0h2m0 0h2m-1 0h2m8 0h2m0 0h2m13 0h2m-199 1h2m26 0h2m5 0h2m-1 0h2m-1 0h2m18 0h2m-1 0h2m-1 0h2m-1 0h2m0 0h2m-1 0h2m14 0h2m2 0h2m46 0h2m2 0h2m3 0h2m14 0h2m4 0h2m16 0h2m2 0h2m0 0h2m-1 0h2m10 0h2m3 0h2m-185 1h2m-1 0h2m16 0h2m-1 0h2m1 0h2m0 0h2m3 0h2m3 0h2m15 0h2m3 0h2m47 0h2m25 0h2m0 0h2m1 0h2m1 0h2m-1 0h2m0 0h2m2 0h2m2 0h2m-1 0h2m4 0h2m-1 0h2m16 0h2m1 0h2m-191 1h2m13 0h2m8 0h2m3 0h2m7 0h2m1 0h2m6 0h2m1 0h2m2 0h2m3 0h2m0 0h2m1 0h2m-1 0h2m3 0h2m0 0h2m38 0h2m11 0h2m3 0h2m3 0h2m-1 0h2m4 0h2m-1 0h2m0 0h2m-1 0h2m-1 0h2m1 0h2m-1 0h2m1 0h2m6 0h2m-154 1h2m10 0h2m2 0h2m6 0h2m1 0h2m1 0h2m1 0h2m15 0h2m9 0h2m23 0h2m27 0h2m0 0h2m0 0h2m0 0h2m10 0h2m0 0h2m0 0h2m-1 0h2m0 0h2m0 0h2m0 0h2m24 0h2m-199 1h2m21 0h2m0 0h2m3 0h2m13 0h2m8 0h2m8 0h2m1 0h2m0 0h2m7 0h2m4 0h2m4 0h2m51 0h2m5 0h2m1 0h2m2 0h2m-1 0h2m0 0h2m3 0h2m1 0h2m-1 0h2m-1 0h2m0 0h2m1 0h2m-1 0h2m2 0h2m7 0h2m-184 1h2m21 0h2m9 0h2m-1 0h2m-1 0h2m2 0h2m2 0h2m6 0h2m3 0h2m1 0h2m-1 0h2m-1 0h2m2 0h2m0 0h2m0 0h2m64 0h2m7 0h2m-1 0h2m4 0h2m10 0h2m8 0h2m19 0h2m-192 1h2m3 0h2m16 0h2m-1 0h2m5 0h2m7 0h2m1 0h2m-1 0h2m3 0h2m0 0h2m1 0h2m0 0h2m22 0h2m8 0h2m33 0h2m2 0h2m13 0h2m0 0h2m0 0h2m-1 0h2m2 0h2m1 0h2m2 0h2m7 0h2m-1 0h2m3 0h2m1 0h2m-189 1h2m8 0h2m13 0h2m1 0h2m2 0h2m3 0h2m2 0h2m-1 0h2m2 0h2m-1 0h2m0 0h2m0 0h2m-1 0h2m6 0h2m1 0h2m-1 0h2m-1 0h2m4 0h2m0 0h2m8 0h2m58 0h2m-1 0h2m0 0h2m0 0h2m10 0h2m-1 0h2m3 0h2m0 0h2m-1 0h2m4 0h2m-161 1h2m-1 0h2m0 0h2m-1 0h2m3 0h2m5 0h2m4 0h2m2 0h2m-1 0h2m2 0h2m1 0h2m3 0h2m-1 0h2m0 0h2m0 0h2m5 0h2m7 0h2m5 0h2m1 0h2m0 0h2m16 0h2m1 0h2m24 0h2m9 0h2m0 0h2m1 0h2m-1 0h2m2 0h2m3 0h2m0 0h2m4 0h2m2 0h2m5 0h2m-1 0h2m-183 1h2m9 0h2m4 0h2m-1 0h2m12 0h2m2 0h2m14 0h2m0 0h2m5 0h2m3 0h2m-1 0h2m4 0h2m-1 0h2m38 0h2m23 0h2m1 0h2m0 0h2m0 0h2m0 0h2m1 0h2m2 0h2m-1 0h2m0 0h2m2 0h2m-1 0h2m-1 0h2m1 0h2m-1 0h2m0 0h2m-1 0h2m-156 1h2m-1 0h2m17 0h2m0 0h2m5 0h2m1 0h2m5 0h2m3 0h2m-1 0h2m8 0h2m3 0h2m0 0h2m19 0h2m4 0h2m31 0h2m3 0h2m-1 0h2m2 0h2m1 0h2m0 0h2m0 0h2m-1 0h2m2 0h2m0 0h2m2 0h2m-165 1h2m10 0h2m0 0h2m7 0h2m0 0h2m-1 0h2m3 0h2m2 0h2m-1 0h2m1 0h2m-1 0h2m0 0h2m2 0h2m5 0h2m-1 0h2m0 0h2m5 0h2m-1 0h2m8 0h2m0 0h2m8 0h2m12 0h2m19 0h2m0 0h2m3 0h2m0 0h2m8 0h2m2 0h2m12 0h2m2 0h2m1 0h2m1 0h2m0 0h2m8 0h2m-172 1h2m3 0h2m2 0h2m1 0h2m5 0h2m3 0h2m3 0h2m-1 0h2m5 0h2m0 0h2m4 0h2m1 0h2m-1 0h2m1 0h2m-1 0h2m0 0h2m15 0h2m-1 0h2m3 0h2m3 0h2m23 0h2m15 0h2m0 0h2m0 0h2m1 0h2m4 0h2m2 0h2m0 0h2m0 0h2m-1 0h2m-1 0h2m3 0h2m-1 0h2m2 0h2m1 0h2m1 0h2m-185 1h2m21 0h2m3 0h2m-1 0h2m-1 0h2m5 0h2m0 0h2m0 0h2m0 0h2m1 0h2m-1 0h2m3 0h2m2 0h2m4 0h2m5 0h2m1 0h2m-1 0h2m-1 0h2m5 0h2m8 0h2m7 0h2m8 0h2m4 0h2m9 0h2m2 0h2m9 0h2m-1 0h2m-1 0h2m-1 0h2m-1 0h2m0 0h2m0 0h2m1 0h2m1 0h2m-1 0h2m1 0h2m0 0h2m2 0h2m-1 0h2m3 0h2m4 0h2m3 0h2m-172 1h2m5 0h2m4 0h2m-1 0h2m7 0h2m-1 0h2m0 0h2m0 0h2m0 0h2m1 0h2m2 0h2m1 0h2m1 0h2m-1 0h2m0 0h2m2 0h2m2 0h2m-1 0h2m-1 0h2m-1 0h2m0 0h2m1 0h2m-1 0h2m-1 0h2m4 0h2m1 0h2m5 0h2m1 0h2m35 0h2m9 0h2m4 0h2m0 0h2m-1 0h2m2 0h2m0 0h2m-1 0h2m-1 0h2m-1 0h2m1 0h2m16 0h2m-1 0h2m-185 1h2m17 0h2m2 0h2m4 0h2m1 0h2m16 0h2m0 0h2m7 0h2m-1 0h2m1 0h2m10 0h2m-1 0h2m5 0h2m5 0h2m-1 0h2m3 0h2m35 0h2m2 0h2m3 0h2m0 0h2m0 0h2m1 0h2m2 0h2m3 0h2m6 0h2m2 0h2m7 0h2m20 0h2m-195 1h2m4 0h2m9 0h2m-1 0h2m1 0h2m0 0h2m15 0h2m0 0h2m1 0h2m3 0h2m-1 0h2m9 0h2m10 0h2m28 0h2m35 0h2m2 0h2m-1 0h2m-1 0h2m13 0h2m-1 0h2m3 0h2m1 0h2m-165 1h2m3 0h2m-1 0h2m6 0h2m-1 0h2m8 0h2m-1 0h2m0 0h2m2 0h2m-1 0h2m-1 0h2m3 0h2m1 0h2m-1 0h2m17 0h2m35 0h2m21 0h2m5 0h2m0 0h2m2 0h2m-1 0h2m0 0h2m-1 0h2m0 0h2m6 0h2m2 0h2m-1 0h2m6 0h2m-176 1h2m-1 0h2m17 0h2m0 0h2m8 0h2m-1 0h2m-1 0h2m-1 0h2m6 0h2m0 0h2m4 0h2m1 0h2m2 0h2m1 0h2m0 0h2m3 0h2m2 0h2m10 0h2m1 0h2m42 0h2m2 0h2m2 0h2m-1 0h2m-1 0h2m6 0h2m-1 0h2m-1 0h2m4 0h2m1 0h2m0 0h2m3 0h2m0 0h2m-173 1h2m7 0h2m5 0h2m-1 0h2m12 0h2m-1 0h2m0 0h2m1 0h2m1 0h2m-1 0h2m2 0h2m6 0h2m4 0h2m1 0h2m-1 0h2m-1 0h2m1 0h2m0 0h2m9 0h2m43 0h2m5 0h2m2 0h2m0 0h2m4 0h2m5 0h2m-1 0h2m3 0h2m9 0h2m0 0h2m-1 0h2m2 0h2m-167 1h2m9 0h2m8 0h2m5 0h2m-1 0h2m0 0h2m0 0h2m7 0h2m8 0h2m-1 0h2m-1 0h2m2 0h2m5 0h2m4 0h2m49 0h2m16 0h2m2 0h2m-1 0h2m-1 0h2m4 0h2m2 0h2m0 0h2m-169 1h2m22 0h2m4 0h2m6 0h2m1 0h2m0 0h2m-1 0h2m-1 0h2m-1 0h2m4 0h2m10 0h2m7 0h2m1 0h2m5 0h2m0 0h2m-1 0h2m2 0h2m26 0h2m9 0h2m5 0h2m5 0h2m3 0h2m0 0h2m0 0h2m3 0h2m-1 0h2m12 0h2m1 0h2m0 0h2m-185 1h2m13 0h2m11 0h2m6 0h2m2 0h2m2 0h2m0 0h2m4 0h2m3 0h2m0 0h2m2 0h2m-1 0h2m7 0h2m7 0h2m0 0h2m5 0h2m35 0h2m11 0h2m4 0h2m3 0h2m-1 0h2m1 0h2m0 0h2m11 0h2m4 0h2m6 0h2m-187 1h2m10 0h2m13 0h2m6 0h2m6 0h2m3 0h2m1 0h2m0 0h2m1 0h2m0 0h2m0 0h2m2 0h2m-1 0h2m5 0h2m0 0h2m24 0h2m41 0h2m2 0h2m4 0h2m0 0h2m5 0h2m-1 0h2m0 0h2m2 0h2m2 0h2m2 0h2m-170 1h2m21 0h2m0 0h2m1 0h2m-1 0h2m11 0h2m6 0h2m4 0h2m18 0h2m2 0h2m-1 0h2m11 0h2m3 0h2m8 0h2m5 0h2m6 0h2m0 0h2m0 0h2m-1 0h2m7 0h2m3 0h2m7 0h2m-144 1h2m1 0h2m19 0h2m1 0h2m2 0h2m12 0h2m-1 0h2m4 0h2m11 0h2m4 0h2m-1 0h2m14 0h2m18 0h2m0 0h2m0 0h2m0 0h2m3 0h2m2 0h2m2 0h2m-1 0h2m2 0h2m-1 0h2m6 0h2m-145 1h2m14 0h2m-1 0h2m5 0h2m1 0h2m7 0h2m0 0h2m-1 0h2m6 0h2m3 0h2m6 0h2m1 0h2m43 0h2m20 0h2m0 0h2m-1 0h2m5 0h2m0 0h2m0 0h2m2 0h2m12 0h2m-160 1h2m21 0h2m-1 0h2m-1 0h2m6 0h2m13 0h2m9 0h2m4 0h2m19 0h2m27 0h2m15 0h2m4 0h2m5 0h2m-134 1h2m-1 0h2m4 0h2m20 0h2m1 0h2m3 0h2m-1 0h2m9 0h2m0 0h2m40 0h2m-1 0h2m13 0h2m-1 0h2m2 0h2m5 0h2m8 0h2m9 0h2m-177 1h2m36 0h2m1 0h2m0 0h2m8 0h2m19 0h2m15 0h2m11 0h2m2 0h2m9 0h2m2 0h2m29 0h2m6 0h2m6 0h2m5 0h2m0 0h2m-161 1h2m7 0h2m7 0h2m4 0h2m10 0h2m0 0h2m5 0h2m15 0h2m42 0h2m9 0h2m2 0h2m1 0h2m2 0h2m4 0h2m-1 0h2m-1 0h2m5 0h2m0 0h2m1 0h2m7 0h2m-130 1h2m1 0h2m-1 0h2m3 0h2m-1 0h2m11 0h2m5 0h2m6 0h2m23 0h2m1 0h2m29 0h2m3 0h2m-1 0h2m0 0h2m-1 0h2m10 0h2m0 0h2m0 0h2m23 0h2m-195 1h2m22 0h2m-1 0h2m3 0h2m8 0h2m2 0h2m10 0h2m1 0h2m18 0h2m12 0h2m27 0h2m20 0h2m6 0h2m2 0h2m-149 1h2m48 0h2m8 0h2m0 0h2m8 0h2m35 0h2m9 0h2m2 0h2m9 0h2m4 0h2m0 0h2m11 0h2m0 0h2m2 0h2m-177 1h2m46 0h2m0 0h2m0 0h2m4 0h2m0 0h2m5 0h2m3 0h2m10 0h2m47 0h2m2 0h2m4 0h2m2 0h2m4 0h2m4 0h2m12 0h2m0 0h2m-1 0h2m-1 0h2m-150 1h2m3 0h2m-1 0h2m17 0h2m9 0h2m60 0h2m1 0h2m3 0h2m4 0h2m0 0h2m1 0h2m3 0h2m9 0h2m8 0h2m0 0h2m9 0h2m3 0h2m-178 1h2m13 0h2m2 0h2m1 0h2m-1 0h2m25 0h2m33 0h2m50 0h2m4 0h2m4 0h2m-122 1h2m15 0h2m0 0h2m17 0h2m2 0h2m37 0h2m4 0h2m-1 0h2m4 0h2m6 0h2m4 0h2m8 0h2m3 0h2m0 0h2m-136 1h2m-1 0h2m34 0h2m42 0h2m3 0h2m6 0h2m14 0h2m7 0h2m3 0h2m7 0h2m-51 1h2m7 0h2m3 0h2m-1 0h2m-1 0h2m-1 0h2m29 0h2m-110 1h2m6 0h2m14 0h2m4 0h2m28 0h2m26 0h2m3 0h2m-127 1h2m4 0h2m111 0h2m-102 1h2m81 0h2m8 0h2m3 0h2m4 0h2m17 0h2m0 0h2m6 0h2m-162 1h2m30 0h2m1 0h2m77 0h2m8 0h2m1 0h2m-116 1h2m16 0h2m22 0h2m49 0h2m7 0h2m19 0h2m-131 1h2m4 0h2m25 0h2m99 0h2m-38 1h2m14 0h2m-136 1h2m50 0h2m17 0h2m29 0h2m27 0h2m-16 1h2m13 0h2m1 0h2m-102 1h2m6 0h2m61 0h2m2 0h2m5 0h2m36 0h2m-111 1h2m80 1h2m13 0h2m-16 1h2m1 1h2m6 0h2m10 0h2m-30 1h2m-73 2h2m58 0h2m20 0h2m-16 1h2m11 0h2m-42 1h2m17 0h2m32 2h2m7 0h2m-50 1h2m43 0h2m-39 1h2m1 1h2m4 0h2m14 0h2m-1 2h2m-25 1h2m5 1h2" stroke="#222" stroke-width="2.40" fill="none"/>
<path d="M359.3 226V318.2M321.9 286.6H413.4" stroke="#3a3ab8" stroke-width=".55" fill="none"/>
<path d="M321.9 226V318.2" stroke="#999" stroke-width="1.1" fill="none"/>
<path d="M321.9 318.2H413.4" stroke="#555" stroke-width="1.1" fill="none"/>
<path d="M320.5 299.8H321.9M320.5 281.3H321.9M320.5 262.9H321.9M320.5 244.4H321.9M340.2 318.2v1.4M358.5 318.2v1.4M376.8 318.2v1.4M395.1 318.2v1.4" stroke="#888" stroke-width=".7" fill="none"/>
<text x="324.1" y="232.1" font-size="4.5" fill="#5050a8" stroke="#5050a8" stroke-width=".12" text-anchor="start">36</text>
<text x="412.2" y="232.1" font-size="4.5" fill="#5050a8" stroke="#5050a8" stroke-width=".12" text-anchor="end">25.5</text>
<text x="324.1" y="316.6" font-size="4.5" fill="#5050a8" stroke="#5050a8" stroke-width=".12" text-anchor="start">16.8</text>
<text x="412.2" y="316.6" font-size="4.5" fill="#5050a8" stroke="#5050a8" stroke-width=".12" text-anchor="end">19.9</text>
<text x="367.6" y="325.6" font-size="5.4" font-weight="bold" fill="#333" text-anchor="middle" textLength="9.4" lengthAdjust="spacingAndGlyphs" stroke="#333" stroke-width="0.14">GFP</text>
<text transform="translate(317.5,272.1) rotate(-90)" font-size="5" font-weight="bold" fill="#333" text-anchor="middle" textLength="8.8" lengthAdjust="spacingAndGlyphs" stroke="#333" stroke-width="0.14">CD4</text>
<path filter="url(#soft)" transform="scale(0.333333)" d="M1359 735h2m14 21h2m125 12h2m-185 7h2m-31 3h2m78 21h2m76 0h2m-101 2h2m7 0h2m-1 0h2m28 1h2m-31 1h2m-21 6h2m34 0h2m-32 1h2m1 0h2m14 0h2m-9 1h2m1 0h2m1 1h2m15 0h2m-5 1h2m-39 2h2m17 0h2m-22 1h2m37 0h2m12 0h2m-52 2h2m14 0h2m29 0h2m-15 1h2m-10 1h2m13 0h2m-14 1h2m1 0h2m2 0h2m-14 1h2m16 3h2m-26 1h2m14 0h2m6 0h2m-34 1h2m6 0h2m1 0h2m-1 0h2m-23 1h2m6 0h2m-18 1h2m23 0h2m1 0h2m13 1h2m-1 1h2m-24 1h2m11 0h2m14 1h2m9 1h2m-54 1h2m39 0h2m-65 1h2m60 0h2m-34 1h2m-11 3h2m9 0h2m7 4h2m7 0h2m11 1h2m-82 23h2m201 15h2m-5 8h2m-21 49h2m46 5h2" stroke="#5a5a5a" stroke-width="2.40" fill="none"/>
<path filter="url(#soft)" transform="scale(0.333333)" d="M1330 786h2m-48 1h2m61 5h2m148 0h2m-61 2h2m23 0h2m-155 1h2m1 0h2m-2 1h2m136 0h2m2 0h2m5 0h2m-162 1h2m17 0h2m17 0h2m97 0h2m0 0h2m5 0h2m3 0h2m2 1h2m-139 1h2m12 0h2m10 0h2m6 0h2m88 0h2m3 0h2m1 0h2m5 0h2m-1 0h2m-151 1h2m1 0h2m121 0h2m2 0h2m-1 0h2m2 0h2m6 0h2m1 0h2m26 0h2m-195 1h2m8 0h2m0 0h2m0 0h2m21 0h2m115 0h2m0 0h2m2 0h2m17 0h2m-183 1h2m9 0h2m3 0h2m7 0h2m-1 0h2m9 0h2m9 0h2m94 0h2m-1 0h2m3 0h2m1 0h2m0 0h2m8 0h2m13 0h2m-1 0h2m11 0h2m-172 1h2m-1 0h2m1 0h2m124 0h2m1 0h2m2 0h2m-1 0h2m4 0h2m4 0h2m2 0h2m4 0h2m-191 1h2m21 0h2m1 0h2m13 0h2m11 0h2m87 0h2m7 0h2m5 0h2m0 0h2m2 0h2m4 0h2m3 0h2m3 0h2m-1 0h2m3 0h2m-192 1h2m12 0h2m0 0h2m7 0h2m12 0h2m16 0h2m77 0h2m14 0h2m3 0h2m-1 0h2m-1 0h2m7 0h2m7 0h2m0 0h2m7 0h2m6 0h2m-189 1h2m5 0h2m3 0h2m-1 0h2m12 0h2m9 0h2m100 0h2m5 0h2m3 0h2m-1 0h2m0 0h2m-1 0h2m1 0h2m-1 0h2m0 0h2m10 0h2m3 0h2m-1 0h2m2 0h2m-1 0h2m5 0h2m-182 1h2m6 0h2m11 0h2m4 0h2m13 0h2m84 0h2m8 0h2m4 0h2m-1 0h2m1 0h2m8 0h2m0 0h2m7 0h2m0 0h2m-158 1h2m3 0h2m12 0h2m9 0h2m89 0h2m0 0h2m8 0h2m0 0h2m-1 0h2m-1 0h2m8 0h2m0 0h2m9 0h2m-178 1h2m-1 0h2m0 0h2m-1 0h2m1 0h2m5 0h2m7 0h2m6 0h2m2 0h2m5 0h2m79 0h2m2 0h2m1 0h2m0 0h2m-1 0h2m5 0h2m0 0h2m0 0h2m1 0h2m-1 0h2m0 0h2m2 0h2m4 0h2m1 0h2m3 0h2m-1 0h2m1 0h2m1 0h2m10 0h2m-193 1h2m4 0h2m5 0h2m3 0h2m12 0h2m1 0h2m3 0h2m90 0h2m-1 0h2m6 0h2m-1 0h2m-1 0h2m0 0h2m0 0h2m-1 0h2m1 0h2m1 0h2m0 0h2m-1 0h2m2 0h2m0 0h2m-1 0h2m2 0h2m4 0h2m13 0h2m-207 1h2m9 0h2m13 0h2m0 0h2m6 0h2m1 0h2m2 0h2m3 0h2m101 0h2m3 0h2m1 0h2m1 0h2m2 0h2m-1 0h2m-1 0h2m-1 0h2m1 0h2m-1 0h2m-1 0h2m1 0h2m-1 0h2m-1 0h2m-1 0h2m-1 0h2m0 0h2m-1 0h2m1 0h2m0 0h2m4 0h2m4 0h2m-1 0h2m-195 1h2m3 0h2m10 0h2m4 0h2m4 0h2m1 0h2m-1 0h2m5 0h2m10 0h2m89 0h2m-1 0h2m2 0h2m0 0h2m6 0h2m0 0h2m2 0h2m-1 0h2m0 0h2m-1 0h2m-1 0h2m1 0h2m-1 0h2m-1 0h2m0 0h2m7 0h2m-1 0h2m3 0h2m-200 1h2m15 0h2m0 0h2m-1 0h2m4 0h2m0 0h2m5 0h2m-1 0h2m2 0h2m5 0h2m3 0h2m-1 0h2m16 0h2m74 0h2m1 0h2m2 0h2m-1 0h2m1 0h2m-1 0h2m-1 0h2m0 0h2m0 0h2m-1 0h2m-1 0h2m0 0h2m-1 0h2m-1 0h2m-1 0h2m-1 0h2m-1 0h2m-1 0h2m-1 0h2m1 0h2m1 0h2m0 0h2m0 0h2m-1 0h2m2 0h2m0 0h2m2 0h2m1 0h2m-204 1h2m15 0h2m13 0h2m17 0h2m3 0h2m27 0h2m63 0h2m4 0h2m-1 0h2m0 0h2m-1 0h2m-1 0h2m2 0h2m0 0h2m-1 0h2m-1 0h2m-1 0h2m-1 0h2m-1 0h2m0 0h2m0 0h2m0 0h2m1 0h2m-1 0h2m5 0h2m6 0h2m-1 0h2m4 0h2m1 0h2m-204 1h2m7 0h2m3 0h2m6 0h2m2 0h2m1 0h2m-1 0h2m-1 0h2m6 0h2m5 0h2m4 0h2m77 0h2m18 0h2m5 0h2m1 0h2m0 0h2m-1 0h2m-1 0h2m-1 0h2m-1 0h2m-1 0h2m0 0h2m4 0h2m-1 0h2m-1 0h2m-1 0h2m2 0h2m2 0h2m0 0h2m2 0h2m1 0h2m-1 0h2m2 0h2m0 0h2m1 0h2m17 0h2m-214 1h2m8 0h2m1 0h2m-1 0h2m-1 0h2m0 0h2m4 0h2m6 0h2m96 0h2m-1 0h2m0 0h2m1 0h2m11 0h2m-1 0h2m0 0h2m-1 0h2m-1 0h2m0 0h2m0 0h2m2 0h2m0 0h2m1 0h2m0 0h2m-1 0h2m1 0h2m-1 0h2m0 0h2m2 0h2m0 0h2m-195 1h2m14 0h2m2 0h2m-1 0h2m-1 0h2m0 0h2m0 0h2m15 0h2m1 0h2m2 0h2m-1 0h2m3 0h2m-1 0h2m2 0h2m11 0h2m62 0h2m-1 0h2m9 0h2m-1 0h2m-1 0h2m-1 0h2m0 0h2m2 0h2m0 0h2m0 0h2m0 0h2m-1 0h2m-1 0h2m0 0h2m-1 0h2m-1 0h2m1 0h2m-1 0h2m0 0h2m0 0h2m-1 0h2m-1 0h2m-1 0h2m1 0h2m1 0h2m-1 0h2m5 0h2m-1 0h2m-1 0h2m1 0h2m-1 0h2m-196 1h2m-1 0h2m11 0h2m5 0h2m2 0h2m-1 0h2m7 0h2m1 0h2m0 0h2m-1 0h2m1 0h2m-1 0h2m6 0h2m17 0h2m57 0h2m-1 0h2m0 0h2m1 0h2m3 0h2m2 0h2m-1 0h2m1 0h2m-1 0h2m-1 0h2m0 0h2m0 0h2m-1 0h2m-1 0h2m1 0h2m-1 0h2m-1 0h2m0 0h2m0 0h2m-1 0h2m-1 0h2m3 0h2m-1 0h2m1 0h2m2 0h2m3 0h2m2 0h2m3 0h2m-191 1h2m-1 0h2m-1 0h2m0 0h2m0 0h2m3 0h2m6 0h2m1 0h2m0 0h2m2 0h2m2 0h2m1 0h2m97 0h2m-1 0h2m2 0h2m-1 0h2m-1 0h2m-1 0h2m2 0h2m3 0h2m3 0h2m0 0h2m1 0h2m-1 0h2m-1 0h2m-1 0h2m0 0h2m-1 0h2m0 0h2m3 0h2m5 0h2m-1 0h2m5 0h2m-204 1h2m5 0h2m4 0h2m-1 0h2m0 0h2m1 0h2m0 0h2m2 0h2m2 0h2m0 0h2m-1 0h2m2 0h2m2 0h2m10 0h2m81 0h2m-1 0h2m0 0h2m2 0h2m1 0h2m0 0h2m-1 0h2m1 0h2m0 0h2m-1 0h2m0 0h2m-1 0h2m-1 0h2m-1 0h2m-1 0h2m0 0h2m0 0h2m1 0h2m-1 0h2m0 0h2m0 0h2m-1 0h2m0 0h2m0 0h2m1 0h2m0 0h2m0 0h2m18 0h2m-212 1h2m5 0h2m5 0h2m9 0h2m4 0h2m0 0h2m-1 0h2m-1 0h2m-1 0h2m1 0h2m3 0h2m0 0h2m2 0h2m2 0h2m95 0h2m6 0h2m2 0h2m-1 0h2m-1 0h2m-1 0h2m1 0h2m0 0h2m-1 0h2m-1 0h2m-1 0h2m-1 0h2m-1 0h2m-1 0h2m0 0h2m-1 0h2m-1 0h2m0 0h2m-1 0h2m-1 0h2m-1 0h2m-1 0h2m-1 0h2m-1 0h2m-1 0h2m0 0h2m17 0h2m-192 1h2m-1 0h2m0 0h2m3 0h2m-1 0h2m-1 0h2m-1 0h2m1 0h2m5 0h2m0 0h2m0 0h2m-1 0h2m-1 0h2m-1 0h2m4 0h2m19 0h2m75 0h2m3 0h2m-1 0h2m-1 0h2m-1 0h2m-1 0h2m0 0h2m1 0h2m0 0h2m-1 0h2m-1 0h2m-1 0h2m-1 0h2m1 0h2m-1 0h2m-1 0h2m2 0h2m1 0h2m0 0h2m1 0h2m2 0h2m0 0h2m0 0h2m-192 1h2m0 0h2m22 0h2m1 0h2m1 0h2m-1 0h2m1 0h2m1 0h2m3 0h2m1 0h2m77 0h2m5 0h2m1 0h2m7 0h2m-1 0h2m0 0h2m0 0h2m0 0h2m1 0h2m-1 0h2m-1 0h2m-1 0h2m-1 0h2m-1 0h2m1 0h2m0 0h2m2 0h2m-1 0h2m1 0h2m-1 0h2m2 0h2m0 0h2m2 0h2m-182 1h2m8 0h2m3 0h2m3 0h2m0 0h2m2 0h2m2 0h2m-1 0h2m19 0h2m-1 0h2m3 0h2m80 0h2m4 0h2m0 0h2m2 0h2m-1 0h2m-1 0h2m1 0h2m1 0h2m3 0h2m-1 0h2m0 0h2m-1 0h2m-1 0h2m-1 0h2m-1 0h2m2 0h2m0 0h2m2 0h2m4 0h2m-200 1h2m2 0h2m1 0h2m1 0h2m0 0h2m4 0h2m-1 0h2m0 0h2m0 0h2m4 0h2m1 0h2m3 0h2m-1 0h2m2 0h2m1 0h2m0 0h2m-1 0h2m0 0h2m1 0h2m77 0h2m-1 0h2m2 0h2m5 0h2m11 0h2m-1 0h2m-1 0h2m0 0h2m2 0h2m-1 0h2m1 0h2m1 0h2m-1 0h2m-1 0h2m0 0h2m-1 0h2m-1 0h2m-1 0h2m-1 0h2m0 0h2m-1 0h2m-1 0h2m-1 0h2m1 0h2m2 0h2m21 0h2m-227 1h2m29 0h2m-1 0h2m-1 0h2m2 0h2m7 0h2m-1 0h2m1 0h2m-1 0h2m-1 0h2m2 0h2m0 0h2m4 0h2m1 0h2m13 0h2m73 0h2m0 0h2m0 0h2m6 0h2m-1 0h2m0 0h2m-1 0h2m0 0h2m0 0h2m-1 0h2m-1 0h2m0 0h2m-1 0h2m-1 0h2m-1 0h2m1 0h2m-1 0h2m0 0h2m-1 0h2m-1 0h2m3 0h2m8 0h2m-192 1h2m5 0h2m0 0h2m5 0h2m-1 0h2m2 0h2m0 0h2m-1 0h2m4 0h2m0 0h2m1 0h2m5 0h2m92 0h2m-1 0h2m4 0h2m3 0h2m1 0h2m1 0h2m-1 0h2m0 0h2m-1 0h2m-1 0h2m2 0h2m0 0h2m0 0h2m-1 0h2m2 0h2m-1 0h2m-1 0h2m2 0h2m2 0h2m2 0h2m7 0h2m-203 1h2m1 0h2m2 0h2m4 0h2m3 0h2m-1 0h2m1 0h2m-1 0h2m7 0h2m1 0h2m4 0h2m1 0h2m-1 0h2m3 0h2m21 0h2m68 0h2m7 0h2m2 0h2m0 0h2m2 0h2m-1 0h2m0 0h2m-1 0h2m-1 0h2m0 0h2m4 0h2m2 0h2m-1 0h2m0 0h2m-186 1h2m2 0h2m6 0h2m7 0h2m1 0h2m1 0h2m-1 0h2m6 0h2m3 0h2m6 0h2m0 0h2m3 0h2m84 0h2m3 0h2m9 0h2m-1 0h2m-1 0h2m0 0h2m1 0h2m0 0h2m-1 0h2m1 0h2m-1 0h2m0 0h2m-1 0h2m4 0h2m1 0h2m-1 0h2m-1 0h2m-1 0h2m-1 0h2m13 0h2m-211 1h2m13 0h2m1 0h2m5 0h2m2 0h2m1 0h2m-1 0h2m2 0h2m3 0h2m3 0h2m5 0h2m0 0h2m0 0h2m-1 0h2m0 0h2m81 0h2m8 0h2m-1 0h2m3 0h2m3 0h2m5 0h2m-1 0h2m5 0h2m2 0h2m5 0h2m0 0h2m-185 1h2m3 0h2m3 0h2m0 0h2m1 0h2m1 0h2m-1 0h2m4 0h2m3 0h2m4 0h2m3 0h2m2 0h2m1 0h2m9 0h2m81 0h2m4 0h2m-1 0h2m3 0h2m1 0h2m3 0h2m3 0h2m3 0h2m-1 0h2m4 0h2m2 0h2m4 0h2m1 0h2m-188 1h2m9 0h2m-1 0h2m0 0h2m4 0h2m1 0h2m-1 0h2m-1 0h2m6 0h2m1 0h2m3 0h2m-1 0h2m-1 0h2m2 0h2m3 0h2m67 0h2m26 0h2m-1 0h2m2 0h2m2 0h2m6 0h2m-1 0h2m-1 0h2m9 0h2m4 0h2m1 0h2m-188 1h2m1 0h2m1 0h2m-1 0h2m3 0h2m-1 0h2m-1 0h2m2 0h2m-1 0h2m3 0h2m0 0h2m1 0h2m-1 0h2m2 0h2m3 0h2m1 0h2m1 0h2m2 0h2m70 0h2m32 0h2m-1 0h2m2 0h2m5 0h2m1 0h2m-1 0h2m6 0h2m0 0h2m10 0h2m-204 1h2m2 0h2m-1 0h2m4 0h2m-1 0h2m-1 0h2m1 0h2m10 0h2m15 0h2m4 0h2m-1 0h2m41 0h2m52 0h2m2 0h2m11 0h2m-1 0h2m0 0h2m2 0h2m4 0h2m1 0h2m3 0h2m0 0h2m2 0h2m-186 1h2m11 0h2m7 0h2m3 0h2m1 0h2m0 0h2m3 0h2m-1 0h2m0 0h2m1 0h2m5 0h2m82 0h2m4 0h2m6 0h2m2 0h2m1 0h2m1 0h2m2 0h2m6 0h2m1 0h2m-1 0h2m-186 1h2m1 0h2m4 0h2m3 0h2m6 0h2m2 0h2m1 0h2m3 0h2m0 0h2m7 0h2m-1 0h2m19 0h2m78 0h2m3 0h2m0 0h2m8 0h2m0 0h2m-1 0h2m12 0h2m0 0h2m4 0h2m4 0h2m-181 1h2m4 0h2m1 0h2m-1 0h2m-1 0h2m-1 0h2m3 0h2m0 0h2m3 0h2m9 0h2m2 0h2m5 0h2m77 0h2m12 0h2m0 0h2m3 0h2m2 0h2m-1 0h2m5 0h2m-1 0h2m6 0h2m-174 1h2m3 0h2m6 0h2m8 0h2m4 0h2m0 0h2m-1 0h2m14 0h2m116 0h2m-1 0h2m3 0h2m-186 1h2m19 0h2m1 0h2m-1 0h2m13 0h2m1 0h2m117 0h2m3 0h2m3 0h2m2 0h2m6 0h2m6 0h2m-182 1h2m1 0h2m7 0h2m-1 0h2m4 0h2m-1 0h2m3 0h2m-1 0h2m117 0h2m18 0h2m-191 1h2m23 0h2m11 0h2m1 0h2m13 0h2m-1 0h2m15 0h2m2 0h2m103 0h2m11 0h2m-185 1h2m11 0h2m5 0h2m-1 0h2m-1 0h2m8 0h2m9 0h2m11 0h2m2 0h2m-59 1h2m0 0h2m4 0h2m8 0h2m1 0h2m4 0h2m4 0h2m0 0h2m11 0h2m95 0h2m31 0h2m3 0h2m-175 1h2m9 0h2m-1 0h2m28 0h2m14 0h2m120 0h2m-184 1h2m16 0h2m-1 0h2m22 0h2m-52 1h2m11 0h2m13 0h2m12 0h2m33 0h2m102 0h2m-177 1h2m4 0h2m10 0h2m122 0h2m-125 1h2m5 0h2m12 0h2m8 0h2m1 0h2m-71 1h2m18 0h2m0 0h2m14 0h2m5 0h2m-1 0h2m-45 1h2m163 0h2m8 0h2m-147 1h2m14 0h2m20 0h2m-26 1h2m-27 1h2m15 0h2m-46 1h2m4 0h2m21 0h2m20 2h2m8 0h2m-40 2h2m7 4h2m16 0h2m-17 1h2m-10 1h2m-9 2h2m-9 2h2m22 0h2m-6 1h2m14 0h2m65 0h2m-98 2h2m36 0h2m71 0h2m-112 1h2m28 0h2m-33 1h2m11 0h2m16 0h2m0 0h2m-29 1h2m8 0h2m1 0h2m5 0h2m3 0h2m-26 1h2m16 0h2m-34 1h2m39 0h2m54 0h2m-101 1h2m7 0h2m4 0h2m13 0h2m3 0h2m-37 1h2m4 0h2m-1 0h2m-1 0h2m5 0h2m0 0h2m8 0h2m0 0h2m2 0h2m0 0h2m-30 1h2m7 0h2m12 0h2m17 0h2m57 0h2m-103 1h2m3 0h2m10 0h2m0 0h2m2 0h2m-1 0h2m5 0h2m-32 1h2m2 0h2m0 0h2m2 0h2m7 0h2m0 0h2m-1 0h2m3 0h2m1 0h2m-32 1h2m7 0h2m0 0h2m8 0h2m0 0h2m0 0h2m-1 0h2m4 0h2m2 0h2m64 0h2m-101 1h2m5 0h2m-1 0h2m1 0h2m3 0h2m3 0h2m2 0h2m0 0h2m80 0h2m23 0h2m2 0h2m-151 1h2m5 0h2m4 0h2m2 0h2m-1 0h2m3 0h2m-1 0h2m0 0h2m3 0h2m-1 0h2m2 0h2m-1 0h2m3 0h2m99 0h2m-144 1h2m10 0h2m2 0h2m2 0h2m-1 0h2m0 0h2m-1 0h2m-1 0h2m12 0h2m-1 0h2m-44 1h2m5 0h2m0 0h2m-1 0h2m2 0h2m0 0h2m-1 0h2m0 0h2m0 0h2m0 0h2m1 0h2m2 0h2m-1 0h2m-1 0h2m1 0h2m-1 0h2m0 0h2m1 0h2m0 0h2m0 0h2m80 0h2m5 0h2m-133 1h2m4 0h2m0 0h2m-1 0h2m0 0h2m1 0h2m0 0h2m-1 0h2m-1 0h2m-1 0h2m0 0h2m0 0h2m-1 0h2m-1 0h2m-1 0h2m2 0h2m-1 0h2m1 0h2m5 0h2m17 0h2m83 0h2m-141 1h2m-1 0h2m0 0h2m-1 0h2m5 0h2m-1 0h2m1 0h2m0 0h2m1 0h2m0 0h2m1 0h2m1 0h2m-1 0h2m2 0h2m1 0h2m-1 0h2m2 0h2m6 0h2m76 0h2m47 0h2m-184 1h2m1 0h2m3 0h2m2 0h2m-1 0h2m-1 0h2m-1 0h2m-1 0h2m-1 0h2m2 0h2m-1 0h2m2 0h2m0 0h2m-1 0h2m0 0h2m0 0h2m7 0h2m12 0h2m66 0h2m9 0h2m11 0h2m-162 1h2m-1 0h2m1 0h2m11 0h2m0 0h2m-1 0h2m0 0h2m3 0h2m0 0h2m0 0h2m1 0h2m6 0h2m-1 0h2m-1 0h2m0 0h2m-1 0h2m0 0h2m92 0h2m7 0h2m4 0h2m-151 1h2m5 0h2m3 0h2m0 0h2m1 0h2m1 0h2m-1 0h2m-1 0h2m3 0h2m2 0h2m1 0h2m-1 0h2m1 0h2m0 0h2m1 0h2m1 0h2m0 0h2m3 0h2m1 0h2m84 0h2m32 0h2m-180 1h2m3 0h2m-1 0h2m2 0h2m0 0h2m4 0h2m8 0h2m0 0h2m-1 0h2m-1 0h2m-1 0h2m0 0h2m-1 0h2m-1 0h2m-1 0h2m10 0h2m78 0h2m18 0h2m0 0h2m0 0h2m4 0h2m-171 1h2m9 0h2m-1 0h2m1 0h2m1 0h2m1 0h2m0 0h2m2 0h2m3 0h2m0 0h2m-1 0h2m-1 0h2m-1 0h2m-1 0h2m0 0h2m-1 0h2m-1 0h2m1 0h2m-1 0h2m-1 0h2m-1 0h2m3 0h2m-1 0h2m0 0h2m60 0h2m12 0h2m12 0h2m8 0h2m2 0h2m8 0h2m-156 1h2m0 0h2m0 0h2m0 0h2m0 0h2m1 0h2m0 0h2m-1 0h2m3 0h2m2 0h2m-1 0h2m-1 0h2m-1 0h2m0 0h2m1 0h2m8 0h2m0 0h2m2 0h2m60 0h2m20 0h2m10 0h2m0 0h2m1 0h2m1 0h2m8 0h2m-159 1h2m1 0h2m1 0h2m0 0h2m-1 0h2m2 0h2m-1 0h2m0 0h2m-1 0h2m1 0h2m-1 0h2m-1 0h2m1 0h2m-1 0h2m2 0h2m1 0h2m0 0h2m2 0h2m0 0h2m62 0h2m2 0h2m-1 0h2m37 0h2m-161 1h2m3 0h2m0 0h2m1 0h2m0 0h2m0 0h2m-1 0h2m-1 0h2m-1 0h2m-1 0h2m2 0h2m0 0h2m-1 0h2m4 0h2m-1 0h2m-1 0h2m-1 0h2m-1 0h2m2 0h2m-1 0h2m-1 0h2m0 0h2m0 0h2m4 0h2m1 0h2m88 0h2m-1 0h2m-1 0h2m8 0h2m5 0h2m-161 1h2m0 0h2m1 0h2m-1 0h2m-1 0h2m0 0h2m0 0h2m-1 0h2m-1 0h2m1 0h2m0 0h2m0 0h2m-1 0h2m-1 0h2m-1 0h2m0 0h2m-1 0h2m-1 0h2m-1 0h2m-1 0h2m2 0h2m-1 0h2m-1 0h2m-1 0h2m-1 0h2m1 0h2m4 0h2m6 0h2m12 0h2m46 0h2m16 0h2m2 0h2m6 0h2m-162 1h2m0 0h2m11 0h2m1 0h2m2 0h2m-1 0h2m4 0h2m-1 0h2m-1 0h2m-1 0h2m-1 0h2m-1 0h2m-1 0h2m0 0h2m-1 0h2m-1 0h2m0 0h2m4 0h2m0 0h2m-1 0h2m-1 0h2m2 0h2m0 0h2m0 0h2m1 0h2m8 0h2m58 0h2m3 0h2m-1 0h2m6 0h2m-129 1h2m-1 0h2m-1 0h2m0 0h2m-1 0h2m-1 0h2m-1 0h2m-1 0h2m0 0h2m5 0h2m-1 0h2m1 0h2m-1 0h2m-1 0h2m-1 0h2m-1 0h2m4 0h2m0 0h2m-1 0h2m-1 0h2m0 0h2m-1 0h2m0 0h2m1 0h2m75 0h2m-1 0h2m2 0h2m0 0h2m4 0h2m5 0h2m2 0h2m0 0h2m0 0h2m-1 0h2m3 0h2m-176 1h2m3 0h2m5 0h2m1 0h2m8 0h2m1 0h2m0 0h2m-1 0h2m-1 0h2m-1 0h2m5 0h2m-1 0h2m-1 0h2m0 0h2m1 0h2m0 0h2m-1 0h2m0 0h2m0 0h2m16 0h2m65 0h2m-1 0h2m0 0h2m4 0h2m-1 0h2m5 0h2m9 0h2m-1 0h2m1 0h2m3 0h2m-173 1h2m4 0h2m2 0h2m0 0h2m3 0h2m-1 0h2m-1 0h2m3 0h2m2 0h2m-1 0h2m0 0h2m0 0h2m-1 0h2m0 0h2m-1 0h2m2 0h2m-1 0h2m1 0h2m1 0h2m1 0h2m0 0h2m4 0h2m0 0h2m54 0h2m3 0h2m18 0h2m4 0h2m-1 0h2m0 0h2m-1 0h2m-1 0h2m-1 0h2m-1 0h2m16 0h2m-161 1h2m-1 0h2m4 0h2m-1 0h2m-1 0h2m0 0h2m-1 0h2m3 0h2m-1 0h2m-1 0h2m-1 0h2m-1 0h2m-1 0h2m-1 0h2m-1 0h2m-1 0h2m0 0h2m0 0h2m-1 0h2m-1 0h2m1 0h2m1 0h2m-1 0h2m9 0h2m66 0h2m9 0h2m-1 0h2m1 0h2m-1 0h2m3 0h2m3 0h2m7 0h2m4 0h2m-168 1h2m1 0h2m4 0h2m9 0h2m1 0h2m-1 0h2m-1 0h2m0 0h2m0 0h2m-1 0h2m-1 0h2m0 0h2m0 0h2m-1 0h2m-1 0h2m-1 0h2m8 0h2m13 0h2m42 0h2m13 0h2m1 0h2m1 0h2m-1 0h2m0 0h2m0 0h2m-1 0h2m0 0h2m5 0h2m0 0h2m0 0h2m1 0h2m1 0h2m3 0h2m-1 0h2m7 0h2m24 0h2m-196 1h2m2 0h2m0 0h2m1 0h2m0 0h2m-1 0h2m1 0h2m-1 0h2m0 0h2m0 0h2m-1 0h2m0 0h2m-1 0h2m0 0h2m0 0h2m-1 0h2m-1 0h2m0 0h2m-1 0h2m1 0h2m-1 0h2m0 0h2m2 0h2m5 0h2m0 0h2m76 0h2m2 0h2m4 0h2m1 0h2m0 0h2m1 0h2m2 0h2m3 0h2m-1 0h2m8 0h2m9 0h2m-179 1h2m0 0h2m3 0h2m3 0h2m0 0h2m-1 0h2m1 0h2m-1 0h2m-1 0h2m-1 0h2m0 0h2m1 0h2m-1 0h2m0 0h2m-1 0h2m0 0h2m3 0h2m-1 0h2m-1 0h2m19 0h2m64 0h2m9 0h2m4 0h2m1 0h2m1 0h2m-1 0h2m0 0h2m-1 0h2m3 0h2m0 0h2m-1 0h2m-1 0h2m3 0h2m1 0h2m-1 0h2m-177 1h2m9 0h2m1 0h2m-1 0h2m1 0h2m0 0h2m0 0h2m0 0h2m-1 0h2m-1 0h2m0 0h2m-1 0h2m0 0h2m5 0h2m-1 0h2m1 0h2m4 0h2m-1 0h2m0 0h2m2 0h2m73 0h2m7 0h2m1 0h2m-1 0h2m0 0h2m-1 0h2m2 0h2m3 0h2m-1 0h2m0 0h2m6 0h2m0 0h2m-160 1h2m-1 0h2m2 0h2m-1 0h2m-1 0h2m0 0h2m2 0h2m0 0h2m0 0h2m-1 0h2m0 0h2m3 0h2m-1 0h2m1 0h2m1 0h2m8 0h2m74 0h2m2 0h2m3 0h2m-1 0h2m0 0h2m0 0h2m-1 0h2m1 0h2m0 0h2m0 0h2m1 0h2m0 0h2m0 0h2m5 0h2m4 0h2m1 0h2m-177 1h2m2 0h2m12 0h2m-1 0h2m1 0h2m-1 0h2m-1 0h2m-1 0h2m-1 0h2m0 0h2m2 0h2m-1 0h2m-1 0h2m0 0h2m19 0h2m3 0h2m13 0h2m57 0h2m3 0h2m-1 0h2m7 0h2m-1 0h2m1 0h2m0 0h2m1 0h2m0 0h2m2 0h2m-1 0h2m2 0h2m10 0h2m-176 1h2m3 0h2m5 0h2m4 0h2m-1 0h2m-1 0h2m-1 0h2m2 0h2m8 0h2m1 0h2m0 0h2m83 0h2m1 0h2m1 0h2m0 0h2m0 0h2m0 0h2m0 0h2m-1 0h2m0 0h2m1 0h2m0 0h2m-1 0h2m-1 0h2m3 0h2m0 0h2m3 0h2m1 0h2m5 0h2m-171 1h2m4 0h2m-1 0h2m3 0h2m-1 0h2m-1 0h2m1 0h2m0 0h2m-1 0h2m2 0h2m-1 0h2m2 0h2m1 0h2m-1 0h2m6 0h2m63 0h2m19 0h2m7 0h2m1 0h2m-1 0h2m-1 0h2m1 0h2m0 0h2m4 0h2m4 0h2m-1 0h2m0 0h2m3 0h2m6 0h2m-185 1h2m21 0h2m-1 0h2m2 0h2m1 0h2m-1 0h2m1 0h2m-1 0h2m-1 0h2m-1 0h2m2 0h2m1 0h2m88 0h2m2 0h2m2 0h2m-1 0h2m-1 0h2m0 0h2m-1 0h2m0 0h2m0 0h2m-1 0h2m-1 0h2m1 0h2m-1 0h2m0 0h2m12 0h2m-176 1h2m8 0h2m0 0h2m1 0h2m-1 0h2m3 0h2m-1 0h2m1 0h2m1 0h2m-1 0h2m2 0h2m2 0h2m6 0h2m80 0h2m3 0h2m-1 0h2m0 0h2m0 0h2m2 0h2m1 0h2m-1 0h2m1 0h2m0 0h2m2 0h2m-1 0h2m0 0h2m-1 0h2m-1 0h2m-1 0h2m-1 0h2m-1 0h2m2 0h2m2 0h2m1 0h2m0 0h2m-167 1h2m5 0h2m7 0h2m3 0h2m2 0h2m-1 0h2m3 0h2m2 0h2m10 0h2m76 0h2m1 0h2m4 0h2m-1 0h2m0 0h2m4 0h2m1 0h2m-1 0h2m-1 0h2m0 0h2m3 0h2m0 0h2m16 0h2m-173 1h2m0 0h2m0 0h2m-1 0h2m-1 0h2m0 0h2m-1 0h2m-1 0h2m3 0h2m0 0h2m3 0h2m-1 0h2m-1 0h2m2 0h2m8 0h2m68 0h2m8 0h2m0 0h2m7 0h2m2 0h2m0 0h2m-1 0h2m0 0h2m1 0h2m3 0h2m1 0h2m-1 0h2m-1 0h2m-1 0h2m0 0h2m-1 0h2m1 0h2m-1 0h2m-1 0h2m-1 0h2m0 0h2m-1 0h2m-171 1h2m6 0h2m3 0h2m-1 0h2m3 0h2m3 0h2m3 0h2m16 0h2m75 0h2m1 0h2m1 0h2m0 0h2m0 0h2m1 0h2m-1 0h2m1 0h2m3 0h2m2 0h2m-1 0h2m0 0h2m0 0h2m4 0h2m1 0h2m11 0h2m-174 1h2m0 0h2m0 0h2m-1 0h2m2 0h2m6 0h2m-1 0h2m-1 0h2m0 0h2m1 0h2m-1 0h2m6 0h2m91 0h2m1 0h2m6 0h2m-1 0h2m-1 0h2m0 0h2m-1 0h2m-1 0h2m-1 0h2m0 0h2m2 0h2m3 0h2m6 0h2m-182 1h2m15 0h2m2 0h2m-1 0h2m1 0h2m3 0h2m0 0h2m0 0h2m3 0h2m105 0h2m5 0h2m-1 0h2m-1 0h2m0 0h2m3 0h2m-1 0h2m0 0h2m1 0h2m6 0h2m-1 0h2m-166 1h2m7 0h2m10 0h2m0 0h2m6 0h2m2 0h2m89 0h2m3 0h2m1 0h2m0 0h2m3 0h2m2 0h2m0 0h2m-1 0h2m0 0h2m-1 0h2m2 0h2m0 0h2m0 0h2m0 0h2m9 0h2m4 0h2m2 0h2m1 0h2m-178 1h2m6 0h2m2 0h2m-1 0h2m1 0h2m-1 0h2m10 0h2m93 0h2m7 0h2m-1 0h2m-1 0h2m0 0h2m2 0h2m1 0h2m-1 0h2m2 0h2m0 0h2m-1 0h2m-1 0h2m-1 0h2m-1 0h2m0 0h2m6 0h2m-167 1h2m0 0h2m6 0h2m-1 0h2m-1 0h2m5 0h2m-1 0h2m4 0h2m92 0h2m2 0h2m-1 0h2m-1 0h2m2 0h2m-1 0h2m0 0h2m0 0h2m-1 0h2m1 0h2m-1 0h2m0 0h2m-1 0h2m-1 0h2m-1 0h2m2 0h2m-151 1h2m4 0h2m-1 0h2m2 0h2m0 0h2m8 0h2m91 0h2m5 0h2m2 0h2m1 0h2m-1 0h2m0 0h2m0 0h2m1 0h2m-1 0h2m-1 0h2m1 0h2m-1 0h2m0 0h2m-1 0h2m0 0h2m-1 0h2m0 0h2m2 0h2m1 0h2m2 0h2m-168 1h2m3 0h2m1 0h2m10 0h2m11 0h2m5 0h2m82 0h2m2 0h2m1 0h2m0 0h2m9 0h2m1 0h2m-1 0h2m-1 0h2m1 0h2m-1 0h2m-1 0h2m-1 0h2m5 0h2m-1 0h2m-1 0h2m9 0h2m-177 1h2m8 0h2m104 0h2m11 0h2m1 0h2m0 0h2m1 0h2m4 0h2m-1 0h2m-1 0h2m0 0h2m2 0h2m3 0h2m2 0h2m2 0h2m1 0h2m-170 1h2m0 0h2m11 0h2m0 0h2m11 0h2m3 0h2m97 0h2m0 0h2m-1 0h2m0 0h2m-1 0h2m2 0h2m-1 0h2m3 0h2m-1 0h2m0 0h2m-1 0h2m-1 0h2m2 0h2m0 0h2m2 0h2m0 0h2m5 0h2m0 0h2m2 0h2m-170 1h2m5 0h2m105 0h2m1 0h2m-1 0h2m0 0h2m2 0h2m5 0h2m-1 0h2m1 0h2m1 0h2m2 0h2m0 0h2m1 0h2m-1 0h2m1 0h2m4 0h2m-148 1h2m95 0h2m6 0h2m2 0h2m5 0h2m0 0h2m2 0h2m3 0h2m1 0h2m-1 0h2m5 0h2m25 0h2m-176 1h2m-1 0h2m9 0h2m4 0h2m5 0h2m94 0h2m3 0h2m-1 0h2m0 0h2m0 0h2m3 0h2m-1 0h2m-1 0h2m-1 0h2m0 0h2m2 0h2m3 0h2m3 0h2m8 0h2m9 0h2m-177 1h2m10 0h2m101 0h2m-1 0h2m2 0h2m1 0h2m3 0h2m1 0h2m1 0h2m0 0h2m0 0h2m1 0h2m1 0h2m0 0h2m10 0h2m3 0h2m-150 1h2m98 0h2m9 0h2m3 0h2m3 0h2m-1 0h2m3 0h2m-1 0h2m-1 0h2m0 0h2m0 0h2m0 0h2m-1 0h2m-1 0h2m-1 0h2m2 0h2m13 0h2m-1 0h2m-182 1h2m-1 0h2m0 0h2m108 0h2m1 0h2m10 0h2m13 0h2m3 0h2m8 0h2m0 0h2m1 0h2m-1 0h2m0 0h2m-166 1h2m7 0h2m113 0h2m-1 0h2m0 0h2m-1 0h2m1 0h2m1 0h2m7 0h2m5 0h2m-1 0h2m1 0h2m1 0h2m-1 0h2m4 0h2m3 0h2m-131 1h2m73 0h2m10 0h2m-1 0h2m-1 0h2m3 0h2m7 0h2m5 0h2m0 0h2m0 0h2m4 0h2m-41 1h2m10 0h2m1 0h2m1 0h2m-1 0h2m1 0h2m-1 0h2m1 0h2m-1 0h2m2 0h2m0 0h2m0 0h2m0 0h2m2 0h2m-39 1h2m0 0h2m1 0h2m2 0h2m5 0h2m3 0h2m1 0h2m3 0h2m-20 1h2m5 0h2m4 0h2m1 0h2m0 0h2m13 0h2m-36 1h2m0 0h2m0 0h2m-1 0h2m1 0h2m2 0h2m1 0h2m-1 0h2m0 0h2m2 0h2m0 0h2m-42 1h2m3 0h2m19 0h2m1 0h2m-1 0h2m2 0h2m-1 0h2m9 0h2m-154 1h2m111 0h2m0 0h2m3 0h2m11 0h2m-1 0h2m19 0h2m-36 1h2m3 0h2m2 0h2m18 0h2m-42 1h2m18 0h2m-1 0h2m1 0h2m0 0h2m-1 0h2m22 0h2m8 0h2m-59 1h2m0 0h2m4 0h2m12 0h2m14 0h2m-28 1h2m26 0h2m-53 1h2m22 0h2m6 0h2m5 0h2m-4 1h2m-8 1h2m7 0h2m0 1h2m-36 1h2m16 0h2m26 0h2m12 0h2m-53 1h2m25 0h2m2 0h2m12 0h2m-30 1h2m13 0h2m-9 2h2m-1 0h2" stroke="#222" stroke-width="2.40" fill="none"/>
<path d="M461.2 226V318.2M423.2 286.8H515.4" stroke="#3a3ab8" stroke-width=".55" fill="none"/>
<path d="M423.2 226V318.2" stroke="#999" stroke-width="1.1" fill="none"/>
<path d="M423.2 318.2H515.4" stroke="#555" stroke-width="1.1" fill="none"/>
<path d="M421.8 299.8H423.2M421.8 281.3H423.2M421.8 262.9H423.2M421.8 244.4H423.2M441.6 318.2v1.4M460.1 318.2v1.4M478.5 318.2v1.4M497.0 318.2v1.4" stroke="#888" stroke-width=".7" fill="none"/>
<text x="425.4" y="232.1" font-size="4.5" fill="#5050a8" stroke="#5050a8" stroke-width=".12" text-anchor="start">18.9</text>
<text x="514.2" y="232.1" font-size="4.5" fill="#5050a8" stroke="#5050a8" stroke-width=".12" text-anchor="end">26.4</text>
<text x="425.4" y="316.6" font-size="4.5" fill="#5050a8" stroke="#5050a8" stroke-width=".12" text-anchor="start">33.7</text>
<text x="514.2" y="316.6" font-size="4.5" fill="#5050a8" stroke="#5050a8" stroke-width=".12" text-anchor="end">21</text>
<text x="469.3" y="325.6" font-size="5.4" font-weight="bold" fill="#333" text-anchor="middle" textLength="9.4" lengthAdjust="spacingAndGlyphs" stroke="#333" stroke-width="0.14">GFP</text>
<text transform="translate(418.8,272.1) rotate(-90)" font-size="5" font-weight="bold" fill="#333" text-anchor="middle" textLength="8.8" lengthAdjust="spacingAndGlyphs" stroke="#333" stroke-width="0.14">CD4</text>
<path filter="url(#soft)" transform="scale(0.333333)" d="M979 997h2m91 58h2m148 33h2m-111 5h2m-92 27h2m116 1h2m53 4h2m-86 3h2m-27 1h2m-36 2h2m31 0h2m-54 1h2m90 0h2m-68 1h2m60 2h2m-49 1h2m-110 1h2m102 0h2m67 0h2m1 0h2m-66 1h2m-87 1h2m44 0h2m107 0h2m14 0h2m-109 1h2m17 0h2m20 0h2m15 0h2m4 0h2m6 0h2m32 0h2m-142 1h2m36 0h2m59 0h2m10 1h2m-103 1h2m10 0h2m1 1h2m117 0h2m-76 1h2m26 0h2m-91 2h2m89 1h2m7 0h2m-70 1h2m44 0h2m-24 2h2m55 0h2m-103 1h2m52 1h2m117 0h2m-114 4h2m-23 1h2m17 3h2m-50 12h2m3 7h2m48 2h2m121 3h2m-148 9h2m-75 1h2m74 1h2m-10 3h2m-71 1h2m100 0h2m-4 1h2m19 0h2m-45 1h2m-17 2h2m26 0h2m15 0h2m-1 0h2m27 0h2m-63 1h2m31 0h2m18 0h2m23 0h2m-35 1h2m-24 2h2m0 0h2m-15 1h2m5 0h2m-37 1h2m29 0h2m35 1h2m53 0h2m-120 2h2m32 0h2m-12 1h2m11 1h2m26 0h2m-56 1h2m-73 2h2m139 0h2m-63 2h2m-36 1h2m2 0h2m59 3h2m-44 6h2m-36 20h2" stroke="#5a5a5a" stroke-width="2.40" fill="none"/>
<path filter="url(#soft)" transform="scale(0.333333)" d="M1009 1094h2m-11 5h2m8 4h2m-19 3h2m17 0h2m10 1h2m-17 2h2m-25 1h2m13 0h2m2 1h2m13 0h2m-9 1h2m14 0h2m-26 1h2m-14 1h2m4 0h2m7 0h2m-22 1h2m7 0h2m18 0h2m14 0h2m-48 1h2m22 0h2m-42 1h2m22 0h2m7 0h2m1 0h2m0 0h2m-7 1h2m8 0h2m-1 0h2m1 0h2m-1 0h2m-1 0h2m-1 0h2m11 0h2m-61 1h2m22 0h2m4 0h2m-1 0h2m2 0h2m6 0h2m7 0h2m-44 1h2m2 0h2m-1 0h2m2 0h2m3 0h2m2 0h2m1 0h2m0 0h2m0 0h2m1 0h2m6 0h2m-1 0h2m-1 0h2m0 0h2m3 0h2m-51 1h2m-1 0h2m12 0h2m-1 0h2m-1 0h2m-1 0h2m-1 0h2m0 0h2m3 0h2m3 0h2m0 0h2m-1 0h2m13 0h2m-48 1h2m0 0h2m6 0h2m6 0h2m3 0h2m-1 0h2m0 0h2m-1 0h2m-1 0h2m4 0h2m2 0h2m-1 0h2m6 0h2m-42 1h2m-1 0h2m3 0h2m-1 0h2m-1 0h2m3 0h2m2 0h2m4 0h2m-1 0h2m-1 0h2m6 0h2m2 0h2m0 0h2m-1 0h2m-60 1h2m18 0h2m0 0h2m-1 0h2m3 0h2m-1 0h2m-1 0h2m6 0h2m-1 0h2m7 0h2m6 0h2m-49 1h2m7 0h2m-1 0h2m0 0h2m3 0h2m-1 0h2m3 0h2m0 0h2m-1 0h2m-1 0h2m-1 0h2m-1 0h2m4 0h2m2 0h2m8 0h2m4 0h2m-70 1h2m9 0h2m-1 0h2m9 0h2m-1 0h2m2 0h2m-1 0h2m1 0h2m-1 0h2m1 0h2m0 0h2m-1 0h2m-1 0h2m1 0h2m-1 0h2m5 0h2m3 0h2m-1 0h2m-46 1h2m1 0h2m-1 0h2m1 0h2m-1 0h2m-1 0h2m2 0h2m2 0h2m1 0h2m-1 0h2m-1 0h2m4 0h2m0 0h2m0 0h2m-1 0h2m-1 0h2m0 0h2m0 0h2m-1 0h2m-41 1h2m-1 0h2m2 0h2m-1 0h2m-1 0h2m-1 0h2m4 0h2m0 0h2m-1 0h2m0 0h2m-1 0h2m0 0h2m-1 0h2m-1 0h2m-1 0h2m-1 0h2m-1 0h2m-1 0h2m-1 0h2m-1 0h2m-1 0h2m0 0h2m11 0h2m-1 0h2m-1 0h2m-59 1h2m6 0h2m3 0h2m1 0h2m-1 0h2m4 0h2m0 0h2m1 0h2m3 0h2m-1 0h2m-1 0h2m-1 0h2m-1 0h2m-1 0h2m-1 0h2m-1 0h2m1 0h2m10 0h2m0 0h2m-1 0h2m7 0h2m-74 1h2m7 0h2m16 0h2m-1 0h2m-1 0h2m4 0h2m0 0h2m0 0h2m-1 0h2m-1 0h2m-1 0h2m-1 0h2m0 0h2m-1 0h2m-1 0h2m3 0h2m0 0h2m-1 0h2m14 0h2m-68 1h2m4 0h2m4 0h2m1 0h2m-1 0h2m-1 0h2m0 0h2m6 0h2m-1 0h2m2 0h2m1 0h2m0 0h2m0 0h2m1 0h2m0 0h2m1 0h2m-1 0h2m3 0h2m6 0h2m-57 1h2m5 0h2m-1 0h2m1 0h2m-1 0h2m-1 0h2m2 0h2m-1 0h2m0 0h2m-1 0h2m-1 0h2m1 0h2m1 0h2m0 0h2m-1 0h2m2 0h2m0 0h2m-1 0h2m1 0h2m2 0h2m4 0h2m-63 1h2m-1 0h2m11 0h2m-1 0h2m0 0h2m0 0h2m5 0h2m-1 0h2m-1 0h2m0 0h2m-1 0h2m-1 0h2m-1 0h2m-1 0h2m1 0h2m-1 0h2m-1 0h2m-1 0h2m-1 0h2m-1 0h2m1 0h2m0 0h2m2 0h2m4 0h2m7 0h2m-55 1h2m-1 0h2m-1 0h2m1 0h2m-1 0h2m0 0h2m0 0h2m1 0h2m-1 0h2m-1 0h2m2 0h2m-1 0h2m-1 0h2m-1 0h2m-1 0h2m-1 0h2m-1 0h2m-1 0h2m-1 0h2m-1 0h2m-1 0h2m-1 0h2m0 0h2m-1 0h2m-1 0h2m0 0h2m1 0h2m-1 0h2m9 0h2m-52 1h2m-1 0h2m1 0h2m-1 0h2m-1 0h2m4 0h2m-1 0h2m-1 0h2m2 0h2m-1 0h2m-1 0h2m-1 0h2m-1 0h2m-1 0h2m-1 0h2m-1 0h2m-1 0h2m0 0h2m-1 0h2m-1 0h2m-1 0h2m-1 0h2m0 0h2m-1 0h2m-1 0h2m0 0h2m-1 0h2m-1 0h2m0 0h2m0 0h2m2 0h2m3 0h2m-67 1h2m0 0h2m0 0h2m-1 0h2m5 0h2m-1 0h2m1 0h2m0 0h2m0 0h2m0 0h2m1 0h2m-1 0h2m-1 0h2m-1 0h2m-1 0h2m-1 0h2m2 0h2m-1 0h2m1 0h2m0 0h2m-1 0h2m-1 0h2m-1 0h2m1 0h2m8 0h2m6 0h2m16 0h2m-80 1h2m-1 0h2m-1 0h2m4 0h2m0 0h2m2 0h2m-1 0h2m-1 0h2m1 0h2m-1 0h2m-1 0h2m-1 0h2m-1 0h2m0 0h2m-1 0h2m-1 0h2m-1 0h2m-1 0h2m-1 0h2m0 0h2m0 0h2m-1 0h2m-1 0h2m0 0h2m0 0h2m-1 0h2m0 0h2m-1 0h2m-1 0h2m-1 0h2m3 0h2m0 0h2m-1 0h2m3 0h2m-68 1h2m6 0h2m1 0h2m0 0h2m4 0h2m-1 0h2m-1 0h2m-1 0h2m2 0h2m0 0h2m-1 0h2m-1 0h2m-1 0h2m-1 0h2m-1 0h2m-1 0h2m-1 0h2m0 0h2m-1 0h2m0 0h2m0 0h2m0 0h2m-1 0h2m-1 0h2m0 0h2m-1 0h2m-1 0h2m-1 0h2m1 0h2m0 0h2m0 0h2m-1 0h2m2 0h2m-1 0h2m4 0h2m-64 1h2m-1 0h2m8 0h2m1 0h2m-1 0h2m-1 0h2m-1 0h2m0 0h2m-1 0h2m-1 0h2m0 0h2m-1 0h2m-1 0h2m-1 0h2m0 0h2m-1 0h2m-1 0h2m-1 0h2m-1 0h2m-1 0h2m-1 0h2m-1 0h2m-1 0h2m0 0h2m-1 0h2m-1 0h2m-1 0h2m0 0h2m-1 0h2m-1 0h2m1 0h2m0 0h2m-1 0h2m0 0h2m-58 1h2m4 0h2m1 0h2m-1 0h2m-1 0h2m-1 0h2m-1 0h2m0 0h2m-1 0h2m-1 0h2m-1 0h2m-1 0h2m-1 0h2m-1 0h2m-1 0h2m-1 0h2m4 0h2m-1 0h2m-1 0h2m-1 0h2m-1 0h2m0 0h2m0 0h2m-1 0h2m-1 0h2m0 0h2m-1 0h2m0 0h2m-1 0h2m-1 0h2m-1 0h2m-1 0h2m0 0h2m4 0h2m13 0h2m-70 1h2m1 0h2m0 0h2m0 0h2m-1 0h2m-1 0h2m1 0h2m-1 0h2m-1 0h2m0 0h2m-1 0h2m1 0h2m1 0h2m-1 0h2m-1 0h2m0 0h2m-1 0h2m-1 0h2m0 0h2m1 0h2m-1 0h2m-1 0h2m-1 0h2m-1 0h2m-1 0h2m-1 0h2m-1 0h2m0 0h2m-1 0h2m1 0h2m1 0h2m-1 0h2m5 0h2m-1 0h2m5 0h2m-67 1h2m1 0h2m2 0h2m-1 0h2m-1 0h2m-1 0h2m-1 0h2m-1 0h2m-1 0h2m-1 0h2m-1 0h2m-1 0h2m-1 0h2m-1 0h2m0 0h2m-1 0h2m0 0h2m-1 0h2m-1 0h2m-1 0h2m-1 0h2m-1 0h2m-1 0h2m-1 0h2m-1 0h2m-1 0h2m-1 0h2m-1 0h2m-1 0h2m-1 0h2m0 0h2m1 0h2m-1 0h2m-1 0h2m-1 0h2m-1 0h2m-1 0h2m-1 0h2m3 0h2m0 0h2m1 0h2m-60 1h2m6 0h2m2 0h2m-1 0h2m0 0h2m-1 0h2m-1 0h2m-1 0h2m-1 0h2m-1 0h2m0 0h2m-1 0h2m0 0h2m-1 0h2m-1 0h2m-1 0h2m-1 0h2m-1 0h2m-1 0h2m-1 0h2m-1 0h2m-1 0h2m-1 0h2m-1 0h2m0 0h2m-1 0h2m-1 0h2m-1 0h2m1 0h2m0 0h2m-1 0h2m-1 0h2m-1 0h2m-1 0h2m-1 0h2m4 0h2m-63 1h2m-1 0h2m-1 0h2m3 0h2m4 0h2m0 0h2m0 0h2m1 0h2m1 0h2m0 0h2m1 0h2m1 0h2m-1 0h2m-1 0h2m-1 0h2m-1 0h2m-1 0h2m-1 0h2m-1 0h2m-1 0h2m0 0h2m-1 0h2m-1 0h2m-1 0h2m-1 0h2m0 0h2m0 0h2m0 0h2m3 0h2m0 0h2m0 0h2m0 0h2m1 0h2m-70 1h2m4 0h2m3 0h2m0 0h2m4 0h2m-1 0h2m0 0h2m-1 0h2m1 0h2m-1 0h2m-1 0h2m2 0h2m0 0h2m-1 0h2m-1 0h2m-1 0h2m-1 0h2m-1 0h2m-1 0h2m-1 0h2m-1 0h2m0 0h2m-1 0h2m-1 0h2m-1 0h2m-1 0h2m0 0h2m-1 0h2m-1 0h2m-1 0h2m-1 0h2m0 0h2m2 0h2m12 0h2m-71 1h2m0 0h2m-1 0h2m4 0h2m-1 0h2m0 0h2m1 0h2m0 0h2m-1 0h2m-1 0h2m-1 0h2m-1 0h2m1 0h2m-1 0h2m-1 0h2m-1 0h2m-1 0h2m-1 0h2m-1 0h2m-1 0h2m-1 0h2m1 0h2m0 0h2m1 0h2m1 0h2m-1 0h2m-1 0h2m0 0h2m0 0h2m-1 0h2m-1 0h2m0 0h2m0 0h2m1 0h2m-49 1h2m0 0h2m0 0h2m0 0h2m1 0h2m-1 0h2m-1 0h2m-1 0h2m0 0h2m-1 0h2m0 0h2m-1 0h2m0 0h2m-1 0h2m-1 0h2m-1 0h2m-1 0h2m-1 0h2m-1 0h2m-1 0h2m-1 0h2m-1 0h2m-1 0h2m-1 0h2m0 0h2m0 0h2m0 0h2m-1 0h2m-1 0h2m-1 0h2m-1 0h2m2 0h2m1 0h2m0 0h2m-66 1h2m-1 0h2m6 0h2m1 0h2m-1 0h2m-1 0h2m0 0h2m-1 0h2m-1 0h2m-1 0h2m-1 0h2m0 0h2m-1 0h2m1 0h2m1 0h2m-1 0h2m-1 0h2m0 0h2m-1 0h2m-1 0h2m-1 0h2m-1 0h2m-1 0h2m-1 0h2m-1 0h2m-1 0h2m0 0h2m-1 0h2m0 0h2m1 0h2m1 0h2m-1 0h2m-1 0h2m0 0h2m0 0h2m7 0h2m-1 0h2m-70 1h2m-1 0h2m5 0h2m0 0h2m2 0h2m-1 0h2m3 0h2m1 0h2m0 0h2m0 0h2m-1 0h2m-1 0h2m-1 0h2m-1 0h2m-1 0h2m-1 0h2m-1 0h2m-1 0h2m0 0h2m-1 0h2m-1 0h2m-1 0h2m-1 0h2m-1 0h2m-1 0h2m-1 0h2m-1 0h2m0 0h2m-1 0h2m-1 0h2m-1 0h2m0 0h2m0 0h2m-1 0h2m-1 0h2m-1 0h2m-1 0h2m-1 0h2m2 0h2m0 0h2m9 0h2m-77 1h2m-1 0h2m3 0h2m2 0h2m2 0h2m1 0h2m-1 0h2m-1 0h2m-1 0h2m-1 0h2m0 0h2m-1 0h2m-1 0h2m-1 0h2m-1 0h2m1 0h2m0 0h2m-1 0h2m-1 0h2m-1 0h2m-1 0h2m-1 0h2m-1 0h2m-1 0h2m-1 0h2m-1 0h2m-1 0h2m1 0h2m-1 0h2m0 0h2m0 0h2m2 0h2m-1 0h2m0 0h2m-1 0h2m3 0h2m0 0h2m-53 1h2m0 0h2m-1 0h2m-1 0h2m0 0h2m-1 0h2m-1 0h2m-1 0h2m0 0h2m-1 0h2m-1 0h2m-1 0h2m-1 0h2m-1 0h2m-1 0h2m-1 0h2m0 0h2m-1 0h2m-1 0h2m-1 0h2m1 0h2m-1 0h2m0 0h2m-1 0h2m-1 0h2m-1 0h2m0 0h2m-1 0h2m-1 0h2m2 0h2m0 0h2m-57 1h2m1 0h2m6 0h2m-1 0h2m1 0h2m1 0h2m0 0h2m-1 0h2m0 0h2m-1 0h2m-1 0h2m-1 0h2m0 0h2m-1 0h2m-1 0h2m-1 0h2m-1 0h2m0 0h2m-1 0h2m0 0h2m-1 0h2m-1 0h2m-1 0h2m-1 0h2m-1 0h2m0 0h2m-1 0h2m-1 0h2m-1 0h2m2 0h2m-1 0h2m4 0h2m1 0h2m2 0h2m0 0h2m4 0h2m-67 1h2m-1 0h2m2 0h2m1 0h2m0 0h2m2 0h2m-1 0h2m-1 0h2m0 0h2m-1 0h2m-1 0h2m1 0h2m-1 0h2m1 0h2m2 0h2m1 0h2m0 0h2m0 0h2m-1 0h2m4 0h2m0 0h2m2 0h2m1 0h2m-49 1h2m-1 0h2m2 0h2m0 0h2m0 0h2m-1 0h2m1 0h2m0 0h2m0 0h2m-1 0h2m-1 0h2m-1 0h2m-1 0h2m-1 0h2m0 0h2m-1 0h2m-1 0h2m-1 0h2m0 0h2m2 0h2m-1 0h2m-1 0h2m-1 0h2m2 0h2m0 0h2m0 0h2m-1 0h2m-53 1h2m-1 0h2m2 0h2m0 0h2m-1 0h2m1 0h2m-1 0h2m-1 0h2m-1 0h2m-1 0h2m0 0h2m1 0h2m-1 0h2m-1 0h2m-1 0h2m-1 0h2m-1 0h2m0 0h2m-1 0h2m-1 0h2m-1 0h2m0 0h2m0 0h2m-1 0h2m0 0h2m0 0h2m0 0h2m0 0h2m-1 0h2m2 0h2m0 0h2m-55 1h2m1 0h2m0 0h2m-1 0h2m1 0h2m-1 0h2m0 0h2m0 0h2m-1 0h2m-1 0h2m-1 0h2m-1 0h2m2 0h2m-1 0h2m-1 0h2m0 0h2m-1 0h2m2 0h2m-1 0h2m-1 0h2m0 0h2m0 0h2m3 0h2m-1 0h2m7 0h2m2 0h2m-70 1h2m6 0h2m4 0h2m-1 0h2m0 0h2m-1 0h2m0 0h2m3 0h2m-1 0h2m-1 0h2m-1 0h2m1 0h2m-1 0h2m-1 0h2m-1 0h2m1 0h2m0 0h2m-1 0h2m-1 0h2m-1 0h2m-1 0h2m0 0h2m-1 0h2m-1 0h2m0 0h2m2 0h2m-1 0h2m0 0h2m-1 0h2m-1 0h2m-1 0h2m-45 1h2m1 0h2m-1 0h2m1 0h2m1 0h2m-1 0h2m2 0h2m0 0h2m0 0h2m-1 0h2m-1 0h2m0 0h2m-1 0h2m-1 0h2m-1 0h2m-1 0h2m0 0h2m0 0h2m-1 0h2m-1 0h2m5 0h2m6 0h2m2 0h2m1 0h2m-63 1h2m0 0h2m1 0h2m0 0h2m3 0h2m-1 0h2m-1 0h2m1 0h2m-1 0h2m-1 0h2m-1 0h2m3 0h2m2 0h2m-1 0h2m4 0h2m5 0h2m4 0h2m-44 1h2m-1 0h2m1 0h2m-1 0h2m-1 0h2m-1 0h2m1 0h2m0 0h2m2 0h2m1 0h2m0 0h2m-1 0h2m1 0h2m-1 0h2m1 0h2m2 0h2m-1 0h2m-1 0h2m-1 0h2m-1 0h2m-1 0h2m-1 0h2m2 0h2m0 0h2m5 0h2m-66 1h2m5 0h2m2 0h2m-1 0h2m3 0h2m1 0h2m1 0h2m0 0h2m-1 0h2m0 0h2m0 0h2m-1 0h2m-1 0h2m2 0h2m-1 0h2m1 0h2m-1 0h2m1 0h2m-1 0h2m-1 0h2m-1 0h2m-1 0h2m9 0h2m-1 0h2m-45 1h2m0 0h2m1 0h2m2 0h2m0 0h2m0 0h2m0 0h2m-1 0h2m-1 0h2m-1 0h2m1 0h2m-1 0h2m-1 0h2m5 0h2m-1 0h2m-28 1h2m-1 0h2m-1 0h2m0 0h2m3 0h2m0 0h2m0 0h2m-1 0h2m3 0h2m2 0h2m-1 0h2m0 0h2m0 0h2m0 0h2m6 0h2m-43 1h2m-1 0h2m1 0h2m6 0h2m1 0h2m-1 0h2m-1 0h2m0 0h2m-1 0h2m1 0h2m0 0h2m0 0h2m0 0h2m-1 0h2m3 0h2m-1 0h2m-52 1h2m6 0h2m0 0h2m-1 0h2m4 0h2m-1 0h2m5 0h2m-1 0h2m-1 0h2m0 0h2m0 0h2m-1 0h2m2 0h2m3 0h2m-1 0h2m-1 0h2m9 0h2m-65 1h2m18 0h2m-1 0h2m1 0h2m6 0h2m6 0h2m6 0h2m10 0h2m-1 0h2m-60 1h2m7 0h2m16 0h2m10 0h2m-1 0h2m1 0h2m4 0h2m6 0h2m-51 1h2m-1 0h2m18 0h2m8 0h2m2 0h2m-1 0h2m5 0h2m4 0h2m-46 1h2m11 0h2m14 0h2m12 0h2m2 0h2m-44 1h2m13 0h2m-1 0h2m-1 0h2m2 0h2m2 0h2m2 0h2m-28 1h2m2 0h2m7 0h2m-1 0h2m-1 0h2m0 0h2m5 0h2m3 0h2m0 0h2m-34 1h2m12 0h2m0 0h2m2 0h2m5 0h2m-27 1h2m2 0h2m-1 0h2m3 0h2m-1 0h2m6 0h2m-1 0h2m4 0h2m24 0h2m-53 1h2m17 0h2m2 0h2m-19 1h2m14 0h2m0 0h2m1 0h2m-1 0h2m-34 1h2m19 0h2m21 0h2m-33 1h2m-21 1h2m14 0h2m0 0h2m8 0h2m9 0h2m-50 1h2m39 0h2m12 0h2m-29 1h2m0 0h2m3 0h2m-22 1h2m38 0h2m-34 1h2m14 0h2m0 0h2m-14 1h2m1 0h2m1 0h2m-24 1h2m9 0h2m10 0h2m-24 1h2m0 0h2m0 0h2m4 0h2m0 0h2m1 0h2m0 0h2m7 0h2m6 0h2m-37 1h2m11 0h2m6 0h2m-1 0h2m10 0h2m-43 1h2m6 0h2m0 0h2m7 0h2m8 0h2m4 0h2m5 0h2m-45 1h2m3 0h2m8 0h2m2 0h2m5 0h2m6 0h2m1 0h2m-32 1h2m0 0h2m-1 0h2m4 0h2m1 0h2m0 0h2m2 0h2m-1 0h2m3 0h2m9 0h2m4 0h2m-57 1h2m11 0h2m9 0h2m0 0h2m-1 0h2m0 0h2m-1 0h2m-1 0h2m-1 0h2m-1 0h2m-1 0h2m-1 0h2m2 0h2m0 0h2m4 0h2m-36 1h2m0 0h2m4 0h2m5 0h2m0 0h2m2 0h2m1 0h2m-1 0h2m1 0h2m0 0h2m2 0h2m-1 0h2m1 0h2m-1 0h2m-47 1h2m-1 0h2m3 0h2m-1 0h2m6 0h2m-1 0h2m1 0h2m0 0h2m-1 0h2m-1 0h2m1 0h2m-1 0h2m-1 0h2m1 0h2m-1 0h2m-1 0h2m-1 0h2m0 0h2m-1 0h2m1 0h2m0 0h2m1 0h2m-1 0h2m-55 1h2m9 0h2m5 0h2m2 0h2m-1 0h2m3 0h2m1 0h2m0 0h2m1 0h2m0 0h2m1 0h2m-1 0h2m0 0h2m1 0h2m-1 0h2m1 0h2m-47 1h2m7 0h2m12 0h2m0 0h2m2 0h2m-1 0h2m3 0h2m5 0h2m-54 1h2m18 0h2m0 0h2m-1 0h2m1 0h2m-1 0h2m2 0h2m0 0h2m0 0h2m-1 0h2m1 0h2m-1 0h2m-1 0h2m-1 0h2m4 0h2m9 0h2m2 0h2m-51 1h2m3 0h2m0 0h2m0 0h2m-1 0h2m2 0h2m-1 0h2m0 0h2m8 0h2m-1 0h2m3 0h2m2 0h2m-1 0h2m1 0h2m0 0h2m0 0h2m0 0h2m-56 1h2m0 0h2m3 0h2m1 0h2m0 0h2m4 0h2m-1 0h2m6 0h2m4 0h2m4 0h2m-1 0h2m0 0h2m0 0h2m2 0h2m24 0h2m-68 1h2m-1 0h2m-1 0h2m5 0h2m-1 0h2m-1 0h2m-1 0h2m2 0h2m-1 0h2m1 0h2m0 0h2m0 0h2m0 0h2m-1 0h2m-1 0h2m-1 0h2m-1 0h2m4 0h2m1 0h2m0 0h2m8 0h2m-1 0h2m-60 1h2m8 0h2m2 0h2m1 0h2m0 0h2m1 0h2m-1 0h2m1 0h2m0 0h2m-1 0h2m-1 0h2m-1 0h2m-1 0h2m-1 0h2m0 0h2m2 0h2m0 0h2m0 0h2m3 0h2m0 0h2m-1 0h2m1 0h2m-57 1h2m6 0h2m0 0h2m1 0h2m0 0h2m-1 0h2m0 0h2m2 0h2m-1 0h2m-1 0h2m0 0h2m-1 0h2m0 0h2m-1 0h2m-1 0h2m-1 0h2m-1 0h2m0 0h2m0 0h2m-1 0h2m-1 0h2m-1 0h2m0 0h2m-1 0h2m1 0h2m7 0h2m1 0h2m-68 1h2m12 0h2m2 0h2m0 0h2m1 0h2m-1 0h2m-1 0h2m-1 0h2m0 0h2m0 0h2m-1 0h2m-1 0h2m-1 0h2m-1 0h2m0 0h2m-1 0h2m-1 0h2m0 0h2m1 0h2m-1 0h2m-1 0h2m2 0h2m-1 0h2m-1 0h2m-1 0h2m0 0h2m6 0h2m2 0h2m6 0h2m-62 1h2m-1 0h2m-1 0h2m-1 0h2m-1 0h2m-1 0h2m1 0h2m-1 0h2m-1 0h2m0 0h2m-1 0h2m-1 0h2m-1 0h2m1 0h2m-1 0h2m-1 0h2m0 0h2m-1 0h2m-1 0h2m1 0h2m-1 0h2m0 0h2m-1 0h2m-1 0h2m-1 0h2m0 0h2m1 0h2m1 0h2m-1 0h2m-60 1h2m13 0h2m3 0h2m0 0h2m-1 0h2m0 0h2m-1 0h2m1 0h2m-1 0h2m-1 0h2m-1 0h2m1 0h2m0 0h2m-1 0h2m-1 0h2m-1 0h2m-1 0h2m-1 0h2m-1 0h2m2 0h2m-1 0h2m-1 0h2m0 0h2m0 0h2m-1 0h2m-1 0h2m0 0h2m2 0h2m0 0h2m2 0h2m1 0h2m-61 1h2m10 0h2m-1 0h2m1 0h2m-1 0h2m-1 0h2m2 0h2m1 0h2m-1 0h2m2 0h2m-1 0h2m-1 0h2m-1 0h2m0 0h2m-1 0h2m0 0h2m3 0h2m0 0h2m1 0h2m0 0h2m6 0h2m-60 1h2m7 0h2m-1 0h2m4 0h2m0 0h2m-1 0h2m-1 0h2m-1 0h2m0 0h2m0 0h2m1 0h2m-1 0h2m-1 0h2m1 0h2m0 0h2m-1 0h2m-1 0h2m0 0h2m0 0h2m0 0h2m1 0h2m-58 1h2m8 0h2m5 0h2m2 0h2m0 0h2m-1 0h2m0 0h2m0 0h2m0 0h2m-1 0h2m-1 0h2m-1 0h2m-1 0h2m0 0h2m-1 0h2m-1 0h2m-1 0h2m-1 0h2m-1 0h2m0 0h2m0 0h2m-1 0h2m0 0h2m-1 0h2m0 0h2m-1 0h2m1 0h2m7 0h2m1 0h2m-1 0h2m-1 0h2m-57 1h2m2 0h2m1 0h2m-1 0h2m1 0h2m-1 0h2m-1 0h2m0 0h2m0 0h2m-1 0h2m-1 0h2m0 0h2m-1 0h2m-1 0h2m0 0h2m0 0h2m-1 0h2m-1 0h2m0 0h2m-1 0h2m0 0h2m-1 0h2m-1 0h2m-1 0h2m2 0h2m-1 0h2m4 0h2m1 0h2m-56 1h2m-1 0h2m1 0h2m1 0h2m0 0h2m0 0h2m-1 0h2m-1 0h2m2 0h2m-1 0h2m0 0h2m-1 0h2m-1 0h2m-1 0h2m0 0h2m-1 0h2m1 0h2m-1 0h2m-1 0h2m-1 0h2m-1 0h2m-1 0h2m-1 0h2m-1 0h2m0 0h2m2 0h2m-1 0h2m-1 0h2m-1 0h2m8 0h2m-1 0h2m-54 1h2m-1 0h2m4 0h2m0 0h2m-1 0h2m0 0h2m-1 0h2m0 0h2m-1 0h2m0 0h2m-1 0h2m-1 0h2m-1 0h2m-1 0h2m-1 0h2m-1 0h2m-1 0h2m-1 0h2m-1 0h2m-1 0h2m-1 0h2m-1 0h2m0 0h2m-1 0h2m-1 0h2m-1 0h2m-1 0h2m-1 0h2m1 0h2m1 0h2m3 0h2m-61 1h2m5 0h2m-1 0h2m-1 0h2m-1 0h2m4 0h2m3 0h2m-1 0h2m-1 0h2m0 0h2m1 0h2m-1 0h2m1 0h2m-1 0h2m-1 0h2m0 0h2m-1 0h2m-1 0h2m1 0h2m3 0h2m-1 0h2m-1 0h2m0 0h2m-1 0h2m-1 0h2m1 0h2m-1 0h2m-1 0h2m-1 0h2m-50 1h2m-1 0h2m0 0h2m0 0h2m2 0h2m1 0h2m1 0h2m2 0h2m-1 0h2m-1 0h2m-1 0h2m-1 0h2m-1 0h2m-1 0h2m-1 0h2m-1 0h2m0 0h2m-1 0h2m-1 0h2m0 0h2m0 0h2m-1 0h2m1 0h2m-1 0h2m-1 0h2m-1 0h2m-1 0h2m2 0h2m8 0h2m0 0h2m-67 1h2m4 0h2m0 0h2m0 0h2m-1 0h2m-1 0h2m0 0h2m-1 0h2m-1 0h2m1 0h2m-1 0h2m-1 0h2m-1 0h2m-1 0h2m-1 0h2m2 0h2m-1 0h2m-1 0h2m-1 0h2m-1 0h2m-1 0h2m0 0h2m0 0h2m-1 0h2m-1 0h2m-1 0h2m-1 0h2m-1 0h2m0 0h2m0 0h2m1 0h2m0 0h2m5 0h2m4 0h2m-70 1h2m6 0h2m-1 0h2m-1 0h2m-1 0h2m-1 0h2m-1 0h2m3 0h2m-1 0h2m0 0h2m0 0h2m-1 0h2m-1 0h2m-1 0h2m-1 0h2m-1 0h2m-1 0h2m-1 0h2m-1 0h2m-1 0h2m-1 0h2m-1 0h2m-1 0h2m-1 0h2m0 0h2m-1 0h2m-1 0h2m-1 0h2m0 0h2m-1 0h2m-1 0h2m-1 0h2m-1 0h2m-1 0h2m0 0h2m2 0h2m-1 0h2m0 0h2m4 0h2m0 0h2m-70 1h2m2 0h2m3 0h2m1 0h2m2 0h2m1 0h2m-1 0h2m-1 0h2m-1 0h2m-1 0h2m-1 0h2m0 0h2m-1 0h2m0 0h2m0 0h2m-1 0h2m-1 0h2m0 0h2m0 0h2m-1 0h2m0 0h2m-1 0h2m-1 0h2m0 0h2m-1 0h2m0 0h2m0 0h2m-1 0h2m-1 0h2m3 0h2m0 0h2m-1 0h2m8 0h2m4 0h2m-70 1h2m5 0h2m-1 0h2m2 0h2m-1 0h2m-1 0h2m0 0h2m-1 0h2m-1 0h2m0 0h2m0 0h2m-1 0h2m0 0h2m-1 0h2m-1 0h2m-1 0h2m-1 0h2m-1 0h2m0 0h2m-1 0h2m-1 0h2m-1 0h2m-1 0h2m-1 0h2m-1 0h2m-1 0h2m-1 0h2m0 0h2m-1 0h2m0 0h2m0 0h2m1 0h2m0 0h2m0 0h2m-57 1h2m3 0h2m0 0h2m-1 0h2m0 0h2m0 0h2m-1 0h2m-1 0h2m0 0h2m-1 0h2m-1 0h2m0 0h2m-1 0h2m-1 0h2m-1 0h2m-1 0h2m-1 0h2m0 0h2m-1 0h2m-1 0h2m-1 0h2m-1 0h2m1 0h2m-1 0h2m-1 0h2m1 0h2m3 0h2m-1 0h2m-1 0h2m-1 0h2m2 0h2m3 0h2m10 0h2m-1 0h2m-78 1h2m3 0h2m6 0h2m-1 0h2m5 0h2m2 0h2m-1 0h2m0 0h2m4 0h2m-1 0h2m-1 0h2m-1 0h2m-1 0h2m-1 0h2m0 0h2m-1 0h2m-1 0h2m-1 0h2m3 0h2m0 0h2m0 0h2m0 0h2m-1 0h2m0 0h2m-1 0h2m0 0h2m-50 1h2m0 0h2m3 0h2m2 0h2m-1 0h2m-1 0h2m0 0h2m0 0h2m-1 0h2m-1 0h2m-1 0h2m-1 0h2m-1 0h2m-1 0h2m0 0h2m0 0h2m2 0h2m-1 0h2m0 0h2m-1 0h2m-1 0h2m0 0h2m8 0h2m11 0h2m-65 1h2m4 0h2m9 0h2m-1 0h2m-1 0h2m-1 0h2m-1 0h2m0 0h2m0 0h2m-1 0h2m0 0h2m0 0h2m-1 0h2m-1 0h2m-1 0h2m-1 0h2m-1 0h2m1 0h2m2 0h2m12 0h2m-63 1h2m3 0h2m5 0h2m0 0h2m0 0h2m1 0h2m2 0h2m-1 0h2m0 0h2m0 0h2m-1 0h2m-1 0h2m0 0h2m-1 0h2m0 0h2m2 0h2m1 0h2m0 0h2m0 0h2m-1 0h2m0 0h2m2 0h2m-1 0h2m0 0h2m-61 1h2m4 0h2m0 0h2m3 0h2m0 0h2m0 0h2m-1 0h2m0 0h2m1 0h2m-1 0h2m2 0h2m-1 0h2m-1 0h2m-1 0h2m0 0h2m-1 0h2m-1 0h2m0 0h2m0 0h2m-1 0h2m0 0h2m1 0h2m-1 0h2m-1 0h2m2 0h2m-1 0h2m1 0h2m-1 0h2m0 0h2m-56 1h2m4 0h2m0 0h2m5 0h2m2 0h2m2 0h2m-1 0h2m0 0h2m-1 0h2m1 0h2m1 0h2m0 0h2m0 0h2m-1 0h2m-1 0h2m1 0h2m1 0h2m-1 0h2m7 0h2m-47 1h2m0 0h2m-1 0h2m-1 0h2m0 0h2m0 0h2m0 0h2m-1 0h2m5 0h2m0 0h2m0 0h2m-1 0h2m-1 0h2m0 0h2m-1 0h2m-1 0h2m1 0h2m0 0h2m2 0h2m5 0h2m0 0h2m-61 1h2m8 0h2m-1 0h2m2 0h2m3 0h2m-1 0h2m2 0h2m0 0h2m-1 0h2m-1 0h2m0 0h2m-1 0h2m0 0h2m-1 0h2m-1 0h2m-1 0h2m3 0h2m10 0h2m8 0h2m-56 1h2m0 0h2m2 0h2m-1 0h2m4 0h2m2 0h2m0 0h2m-1 0h2m-1 0h2m-1 0h2m-1 0h2m1 0h2m-1 0h2m-1 0h2m-1 0h2m-1 0h2m-1 0h2m-1 0h2m1 0h2m-1 0h2m-1 0h2m5 0h2m0 0h2m-1 0h2m-53 1h2m-1 0h2m6 0h2m4 0h2m-1 0h2m-1 0h2m5 0h2m0 0h2m-1 0h2m-1 0h2m3 0h2m1 0h2m0 0h2m1 0h2m-1 0h2m1 0h2m-1 0h2m-1 0h2m-1 0h2m0 0h2m-1 0h2m-37 1h2m2 0h2m2 0h2m-1 0h2m3 0h2m-1 0h2m1 0h2m-1 0h2m-1 0h2m2 0h2m0 0h2m-1 0h2m0 0h2m0 0h2m2 0h2m-45 1h2m-1 0h2m0 0h2m0 0h2m-1 0h2m7 0h2m-1 0h2m3 0h2m0 0h2m0 0h2m-1 0h2m3 0h2m5 0h2m-42 1h2m1 0h2m3 0h2m0 0h2m0 0h2m-1 0h2m2 0h2m-1 0h2m-1 0h2m0 0h2m0 0h2m1 0h2m1 0h2m1 0h2m0 0h2m-1 0h2m4 0h2m-1 0h2m-43 1h2m11 0h2m1 0h2m1 0h2m13 0h2m-40 1h2m11 0h2m1 0h2m-1 0h2m0 0h2m0 0h2m7 0h2m-1 0h2m4 0h2m-23 1h2m1 0h2m3 0h2m1 0h2m0 0h2m-1 0h2m-1 0h2m0 0h2m4 0h2m3 0h2m10 0h2m-61 1h2m3 0h2m12 0h2m7 0h2m-1 0h2m6 0h2m1 0h2m-36 1h2m2 0h2m5 0h2m0 0h2m-1 0h2m3 0h2m3 0h2m7 0h2m8 0h2m1 0h2m-53 1h2m-1 0h2m11 0h2m0 0h2m3 0h2m11 0h2m-1 0h2m0 0h2m9 0h2m-1 0h2m9 0h2m-48 1h2m4 0h2m1 0h2m0 0h2m15 0h2m11 0h2m-53 1h2m6 0h2m6 0h2m47 0h2m-66 1h2m9 0h2m17 0h2m8 0h2m5 0h2m-60 1h2m1 0h2m27 0h2m16 0h2m-37 1h2m-3 1h2m2 0h2m0 0h2m3 0h2m5 0h2m-15 1h2m0 0h2m-1 0h2m27 0h2m-45 1h2m3 0h2m23 0h2m14 0h2m-26 1h2m32 0h2m-50 1h2m22 0h2m-11 1h2m-11 2h2m26 2h2m-22 5h2" stroke="#222" stroke-width="2.40" fill="none"/>
<path d="M359.6 329V421.9M321.4 390.5H413.8" stroke="#3a3ab8" stroke-width=".55" fill="none"/>
<path d="M321.4 329V421.9" stroke="#999" stroke-width="1.1" fill="none"/>
<path d="M321.4 421.9H413.8" stroke="#555" stroke-width="1.1" fill="none"/>
<path d="M320.0 403.3H321.4M320.0 384.7H321.4M320.0 366.2H321.4M320.0 347.6H321.4M339.9 421.9v1.4M358.4 421.9v1.4M376.8 421.9v1.4M395.3 421.9v1.4" stroke="#888" stroke-width=".7" fill="none"/>
<text x="323.6" y="335.1" font-size="4.5" fill="#5050a8" stroke="#5050a8" stroke-width=".12" text-anchor="start">67.8</text>
<text x="412.6" y="335.1" font-size="4.5" fill="#5050a8" stroke="#5050a8" stroke-width=".12" text-anchor="end">0.321</text>
<text x="323.6" y="420.3" font-size="4.5" fill="#5050a8" stroke="#5050a8" stroke-width=".12" text-anchor="start">31.5</text>
<text x="412.6" y="420.3" font-size="4.5" fill="#5050a8" stroke="#5050a8" stroke-width=".12" text-anchor="end">0.293</text>
<text x="367.6" y="429.3" font-size="5.4" font-weight="bold" fill="#333" text-anchor="middle" textLength="9.4" lengthAdjust="spacingAndGlyphs" stroke="#333" stroke-width="0.14">GFP</text>
<text transform="translate(317.0,375.4) rotate(-90)" font-size="5" font-weight="bold" fill="#333" text-anchor="middle" textLength="8.8" lengthAdjust="spacingAndGlyphs" stroke="#333" stroke-width="0.14">CD4</text>
<path filter="url(#soft)" transform="scale(0.333333)" d="M1282 990h2m82 46h2m12 28h2m-50 26h2m-16 2h2m90 4h2m-122 3h2m18 3h2m-15 2h2m33 0h2m67 1h2m-112 1h2m36 6h2m105 3h2m-81 9h2m31 2h2m-94 2h2m136 0h2m-109 1h2m25 0h2m6 1h2m40 2h2m-42 2h2m57 2h2m-88 1h2m56 0h2m39 1h2m-25 3h2m-14 1h2m40 9h2m-62 4h2m-18 4h2m51 4h2m-44 21h2m16 0h2m-43 5h2m2 1h2m53 1h2m-60 2h2m-8 1h2m3 0h2m0 0h2m19 0h2m-33 1h2m19 0h2m4 0h2m12 0h2m-18 2h2m-31 1h2m16 1h2m6 0h2m-22 1h2m8 0h2m8 0h2m4 0h2m1 0h2m15 2h2m-49 1h2m20 0h2m0 0h2m-26 1h2m29 0h2m-27 1h2m15 0h2m-48 1h2m15 0h2m39 1h2m3 0h2m-50 2h2m13 1h2m26 0h2m-21 1h2m20 0h2m-36 1h2m0 1h2m5 0h2m-15 1h2m-5 1h2m101 0h2m-84 1h2m8 2h2m-55 1h2m21 0h2m25 2h2m8 12h2m-25 1h2m2 5h2m-36 11h2m-14 6h2" stroke="#5a5a5a" stroke-width="2.40" fill="none"/>
<path filter="url(#soft)" transform="scale(0.333333)" d="M1298 1166h2m32 0h2m-30 2h2m10 0h2m-3 1h2m-43 1h2m29 0h2m-12 1h2m2 0h2m8 0h2m-21 1h2m2 0h2m28 0h2m0 0h2m-34 1h2m25 0h2m5 0h2m1 0h2m-54 1h2m7 0h2m10 0h2m2 0h2m18 0h2m2 0h2m-24 1h2m0 0h2m2 0h2m4 0h2m-39 1h2m8 0h2m5 0h2m5 0h2m6 0h2m-1 0h2m5 0h2m11 0h2m-48 1h2m2 0h2m9 0h2m1 0h2m1 0h2m1 0h2m-1 0h2m2 0h2m1 0h2m2 0h2m-40 1h2m9 0h2m6 0h2m6 0h2m0 0h2m-29 1h2m2 0h2m8 0h2m-1 0h2m6 0h2m-1 0h2m0 0h2m-1 0h2m3 0h2m5 0h2m-22 1h2m4 0h2m0 0h2m-1 0h2m4 0h2m5 0h2m0 0h2m3 0h2m-38 1h2m0 0h2m1 0h2m2 0h2m5 0h2m8 0h2m2 0h2m1 0h2m0 0h2m-43 1h2m9 0h2m1 0h2m3 0h2m0 0h2m-1 0h2m-1 0h2m5 0h2m107 0h2m-152 1h2m0 0h2m1 0h2m-1 0h2m2 0h2m3 0h2m0 0h2m-1 0h2m1 0h2m3 0h2m20 0h2m-58 1h2m10 0h2m3 0h2m4 0h2m4 0h2m0 0h2m0 0h2m8 0h2m2 0h2m2 0h2m-49 1h2m5 0h2m8 0h2m0 0h2m-1 0h2m-1 0h2m0 0h2m0 0h2m-1 0h2m2 0h2m0 0h2m0 0h2m3 0h2m-1 0h2m-1 0h2m-1 0h2m-1 0h2m7 0h2m-54 1h2m0 0h2m0 0h2m0 0h2m1 0h2m1 0h2m0 0h2m2 0h2m1 0h2m0 0h2m1 0h2m-1 0h2m-1 0h2m-1 0h2m3 0h2m-1 0h2m-1 0h2m0 0h2m-1 0h2m-1 0h2m5 0h2m0 0h2m7 0h2m1 0h2m80 0h2m-148 1h2m6 0h2m0 0h2m4 0h2m-1 0h2m2 0h2m-1 0h2m-1 0h2m3 0h2m0 0h2m-1 0h2m5 0h2m-1 0h2m-1 0h2m1 0h2m0 0h2m11 0h2m1 0h2m-57 1h2m5 0h2m3 0h2m-1 0h2m0 0h2m-1 0h2m-1 0h2m2 0h2m-1 0h2m0 0h2m1 0h2m2 0h2m-1 0h2m0 0h2m-1 0h2m10 0h2m3 0h2m-47 1h2m3 0h2m-1 0h2m2 0h2m-1 0h2m-1 0h2m0 0h2m-1 0h2m-1 0h2m-1 0h2m-1 0h2m0 0h2m1 0h2m0 0h2m-1 0h2m2 0h2m1 0h2m0 0h2m9 0h2m-50 1h2m0 0h2m1 0h2m0 0h2m0 0h2m-1 0h2m-1 0h2m-1 0h2m-1 0h2m0 0h2m-1 0h2m-1 0h2m-1 0h2m-1 0h2m1 0h2m3 0h2m-1 0h2m2 0h2m0 0h2m-1 0h2m1 0h2m1 0h2m89 0h2m-145 1h2m6 0h2m8 0h2m1 0h2m-1 0h2m-1 0h2m0 0h2m-1 0h2m0 0h2m0 0h2m1 0h2m-1 0h2m-1 0h2m-1 0h2m0 0h2m-1 0h2m-1 0h2m1 0h2m2 0h2m-1 0h2m3 0h2m0 0h2m8 0h2m90 0h2m-161 1h2m0 0h2m5 0h2m2 0h2m4 0h2m-1 0h2m1 0h2m0 0h2m-1 0h2m-1 0h2m1 0h2m-1 0h2m0 0h2m0 0h2m0 0h2m-1 0h2m0 0h2m0 0h2m-1 0h2m0 0h2m-1 0h2m1 0h2m-1 0h2m-1 0h2m4 0h2m-1 0h2m0 0h2m-56 1h2m0 0h2m1 0h2m1 0h2m3 0h2m1 0h2m0 0h2m-1 0h2m-1 0h2m-1 0h2m0 0h2m-1 0h2m-1 0h2m-1 0h2m-1 0h2m-1 0h2m-1 0h2m-1 0h2m0 0h2m1 0h2m-1 0h2m-1 0h2m-1 0h2m-1 0h2m-1 0h2m-1 0h2m-1 0h2m0 0h2m-1 0h2m-1 0h2m0 0h2m-1 0h2m2 0h2m8 0h2m-1 0h2m61 0h2m5 0h2m1 0h2m5 0h2m-150 1h2m6 0h2m4 0h2m-1 0h2m2 0h2m0 0h2m-1 0h2m0 0h2m-1 0h2m0 0h2m-1 0h2m-1 0h2m1 0h2m0 0h2m-1 0h2m0 0h2m-1 0h2m-1 0h2m0 0h2m-1 0h2m0 0h2m-1 0h2m-1 0h2m0 0h2m9 0h2m0 0h2m64 0h2m12 0h2m1 0h2m-136 1h2m-1 0h2m0 0h2m3 0h2m-1 0h2m3 0h2m-1 0h2m0 0h2m-1 0h2m-1 0h2m-1 0h2m-1 0h2m2 0h2m-1 0h2m0 0h2m-1 0h2m-1 0h2m-1 0h2m1 0h2m2 0h2m-1 0h2m0 0h2m-1 0h2m6 0h2m0 0h2m0 0h2m64 0h2m-134 1h2m1 0h2m3 0h2m5 0h2m1 0h2m-1 0h2m0 0h2m2 0h2m0 0h2m-1 0h2m-1 0h2m-1 0h2m-1 0h2m-1 0h2m0 0h2m1 0h2m-1 0h2m0 0h2m-1 0h2m0 0h2m-1 0h2m0 0h2m-1 0h2m-1 0h2m-1 0h2m-1 0h2m-1 0h2m0 0h2m7 0h2m65 0h2m11 0h2m14 0h2m-1 0h2m-162 1h2m1 0h2m1 0h2m4 0h2m0 0h2m-1 0h2m-1 0h2m3 0h2m-1 0h2m0 0h2m1 0h2m-1 0h2m-1 0h2m-1 0h2m-1 0h2m-1 0h2m-1 0h2m-1 0h2m-1 0h2m-1 0h2m-1 0h2m0 0h2m0 0h2m-1 0h2m-1 0h2m-1 0h2m-1 0h2m-1 0h2m-1 0h2m-1 0h2m-1 0h2m-1 0h2m2 0h2m0 0h2m0 0h2m0 0h2m3 0h2m56 0h2m7 0h2m-127 1h2m10 0h2m-1 0h2m-1 0h2m-1 0h2m-1 0h2m-1 0h2m-1 0h2m0 0h2m-1 0h2m-1 0h2m-1 0h2m-1 0h2m-1 0h2m-1 0h2m1 0h2m1 0h2m-1 0h2m-1 0h2m-1 0h2m-1 0h2m1 0h2m-1 0h2m-1 0h2m-1 0h2m-1 0h2m-1 0h2m2 0h2m-1 0h2m0 0h2m-1 0h2m0 0h2m-1 0h2m-1 0h2m-1 0h2m59 0h2m-1 0h2m13 0h2m-1 0h2m1 0h2m2 0h2m10 0h2m-154 1h2m-1 0h2m3 0h2m-1 0h2m-1 0h2m1 0h2m0 0h2m-1 0h2m-1 0h2m-1 0h2m-1 0h2m-1 0h2m0 0h2m-1 0h2m1 0h2m-1 0h2m-1 0h2m-1 0h2m0 0h2m-1 0h2m-1 0h2m-1 0h2m-1 0h2m0 0h2m-1 0h2m-1 0h2m4 0h2m-1 0h2m-1 0h2m0 0h2m4 0h2m0 0h2m90 0h2m-152 1h2m0 0h2m2 0h2m0 0h2m0 0h2m-1 0h2m0 0h2m-1 0h2m-1 0h2m-1 0h2m-1 0h2m-1 0h2m-1 0h2m-1 0h2m-1 0h2m0 0h2m-1 0h2m-1 0h2m-1 0h2m-1 0h2m-1 0h2m-1 0h2m-1 0h2m-1 0h2m-1 0h2m-1 0h2m-1 0h2m-1 0h2m-1 0h2m-1 0h2m2 0h2m3 0h2m-1 0h2m-1 0h2m-1 0h2m-1 0h2m2 0h2m9 0h2m50 0h2m4 0h2m3 0h2m12 0h2m1 0h2m0 0h2m6 0h2m3 0h2m-165 1h2m2 0h2m2 0h2m-1 0h2m-1 0h2m-1 0h2m-1 0h2m-1 0h2m1 0h2m0 0h2m0 0h2m0 0h2m-1 0h2m-1 0h2m-1 0h2m-1 0h2m-1 0h2m-1 0h2m-1 0h2m-1 0h2m-1 0h2m1 0h2m-1 0h2m-1 0h2m-1 0h2m-1 0h2m-1 0h2m-1 0h2m-1 0h2m0 0h2m1 0h2m0 0h2m9 0h2m57 0h2m5 0h2m7 0h2m5 0h2m0 0h2m6 0h2m-148 1h2m-1 0h2m5 0h2m1 0h2m-1 0h2m-1 0h2m-1 0h2m0 0h2m-1 0h2m-1 0h2m-1 0h2m0 0h2m-1 0h2m-1 0h2m-1 0h2m-1 0h2m-1 0h2m0 0h2m-1 0h2m0 0h2m-1 0h2m-1 0h2m-1 0h2m-1 0h2m-1 0h2m-1 0h2m-1 0h2m0 0h2m-1 0h2m-1 0h2m0 0h2m1 0h2m1 0h2m-1 0h2m4 0h2m7 0h2m50 0h2m6 0h2m10 0h2m2 0h2m2 0h2m2 0h2m0 0h2m-152 1h2m1 0h2m2 0h2m1 0h2m-1 0h2m-1 0h2m-1 0h2m-1 0h2m1 0h2m0 0h2m-1 0h2m-1 0h2m-1 0h2m-1 0h2m0 0h2m-1 0h2m-1 0h2m-1 0h2m-1 0h2m-1 0h2m-1 0h2m-1 0h2m0 0h2m0 0h2m-1 0h2m-1 0h2m-1 0h2m-1 0h2m1 0h2m2 0h2m2 0h2m5 0h2m0 0h2m1 0h2m42 0h2m3 0h2m12 0h2m1 0h2m0 0h2m4 0h2m0 0h2m1 0h2m0 0h2m-1 0h2m1 0h2m1 0h2m-160 1h2m4 0h2m0 0h2m2 0h2m-1 0h2m0 0h2m-1 0h2m-1 0h2m0 0h2m-1 0h2m-1 0h2m-1 0h2m-1 0h2m0 0h2m-1 0h2m0 0h2m-1 0h2m-1 0h2m-1 0h2m-1 0h2m-1 0h2m-1 0h2m-1 0h2m-1 0h2m-1 0h2m0 0h2m-1 0h2m-1 0h2m-1 0h2m-1 0h2m-1 0h2m-1 0h2m-1 0h2m0 0h2m-1 0h2m-1 0h2m1 0h2m-1 0h2m4 0h2m5 0h2m63 0h2m-1 0h2m-1 0h2m1 0h2m2 0h2m1 0h2m1 0h2m0 0h2m4 0h2m0 0h2m-158 1h2m1 0h2m1 0h2m1 0h2m-1 0h2m5 0h2m-1 0h2m-1 0h2m-1 0h2m1 0h2m-1 0h2m0 0h2m-1 0h2m-1 0h2m-1 0h2m-1 0h2m-1 0h2m0 0h2m0 0h2m0 0h2m-1 0h2m-1 0h2m1 0h2m3 0h2m-1 0h2m-1 0h2m0 0h2m-1 0h2m0 0h2m0 0h2m6 0h2m-1 0h2m0 0h2m2 0h2m41 0h2m13 0h2m3 0h2m1 0h2m-1 0h2m1 0h2m0 0h2m0 0h2m4 0h2m5 0h2m0 0h2m-1 0h2m-1 0h2m-1 0h2m-165 1h2m1 0h2m4 0h2m0 0h2m0 0h2m-1 0h2m-1 0h2m1 0h2m-1 0h2m-1 0h2m-1 0h2m1 0h2m1 0h2m-1 0h2m-1 0h2m-1 0h2m1 0h2m-1 0h2m-1 0h2m-1 0h2m-1 0h2m-1 0h2m-1 0h2m1 0h2m-1 0h2m0 0h2m-1 0h2m1 0h2m-1 0h2m1 0h2m70 0h2m-1 0h2m1 0h2m2 0h2m2 0h2m5 0h2m-1 0h2m0 0h2m2 0h2m-1 0h2m0 0h2m-1 0h2m1 0h2m2 0h2m6 0h2m-170 1h2m4 0h2m-1 0h2m1 0h2m2 0h2m-1 0h2m-1 0h2m0 0h2m0 0h2m1 0h2m0 0h2m-1 0h2m-1 0h2m-1 0h2m-1 0h2m-1 0h2m0 0h2m-1 0h2m-1 0h2m-1 0h2m-1 0h2m-1 0h2m-1 0h2m-1 0h2m-1 0h2m-1 0h2m-1 0h2m-1 0h2m4 0h2m0 0h2m0 0h2m1 0h2m9 0h2m57 0h2m0 0h2m3 0h2m-1 0h2m6 0h2m-1 0h2m0 0h2m0 0h2m1 0h2m1 0h2m0 0h2m-1 0h2m-1 0h2m3 0h2m3 0h2m-168 1h2m-1 0h2m3 0h2m0 0h2m-1 0h2m-1 0h2m-1 0h2m2 0h2m-1 0h2m-1 0h2m-1 0h2m-1 0h2m-1 0h2m-1 0h2m-1 0h2m0 0h2m-1 0h2m-1 0h2m-1 0h2m0 0h2m-1 0h2m-1 0h2m-1 0h2m-1 0h2m-1 0h2m-1 0h2m-1 0h2m-1 0h2m-1 0h2m0 0h2m-1 0h2m-1 0h2m1 0h2m1 0h2m-1 0h2m1 0h2m-1 0h2m52 0h2m12 0h2m8 0h2m-1 0h2m0 0h2m-1 0h2m-1 0h2m-1 0h2m-1 0h2m1 0h2m-1 0h2m-1 0h2m0 0h2m0 0h2m4 0h2m0 0h2m-163 1h2m6 0h2m3 0h2m-1 0h2m-1 0h2m1 0h2m-1 0h2m0 0h2m0 0h2m0 0h2m-1 0h2m0 0h2m-1 0h2m-1 0h2m-1 0h2m-1 0h2m0 0h2m-1 0h2m-1 0h2m-1 0h2m-1 0h2m-1 0h2m-1 0h2m-1 0h2m-1 0h2m0 0h2m0 0h2m3 0h2m-1 0h2m0 0h2m0 0h2m1 0h2m-1 0h2m0 0h2m0 0h2m0 0h2m-1 0h2m61 0h2m0 0h2m-1 0h2m-1 0h2m-1 0h2m-1 0h2m0 0h2m-1 0h2m0 0h2m1 0h2m0 0h2m9 0h2m4 0h2m-164 1h2m4 0h2m0 0h2m-1 0h2m3 0h2m-1 0h2m-1 0h2m-1 0h2m-1 0h2m1 0h2m-1 0h2m-1 0h2m-1 0h2m-1 0h2m-1 0h2m-1 0h2m-1 0h2m-1 0h2m-1 0h2m0 0h2m0 0h2m0 0h2m-1 0h2m-1 0h2m-1 0h2m-1 0h2m-1 0h2m0 0h2m-1 0h2m-1 0h2m-1 0h2m-1 0h2m0 0h2m-1 0h2m-1 0h2m0 0h2m4 0h2m0 0h2m-1 0h2m42 0h2m19 0h2m0 0h2m5 0h2m2 0h2m-1 0h2m0 0h2m4 0h2m2 0h2m9 0h2m6 0h2m-176 1h2m2 0h2m6 0h2m3 0h2m0 0h2m-1 0h2m-1 0h2m-1 0h2m-1 0h2m-1 0h2m2 0h2m-1 0h2m0 0h2m-1 0h2m-1 0h2m-1 0h2m0 0h2m-1 0h2m-1 0h2m-1 0h2m-1 0h2m1 0h2m0 0h2m1 0h2m-1 0h2m4 0h2m-1 0h2m-1 0h2m3 0h2m60 0h2m3 0h2m3 0h2m0 0h2m2 0h2m-1 0h2m4 0h2m1 0h2m-1 0h2m-1 0h2m-1 0h2m0 0h2m0 0h2m4 0h2m0 0h2m-1 0h2m-1 0h2m-1 0h2m-164 1h2m1 0h2m-1 0h2m7 0h2m-1 0h2m0 0h2m0 0h2m-1 0h2m-1 0h2m-1 0h2m-1 0h2m-1 0h2m-1 0h2m-1 0h2m1 0h2m-1 0h2m-1 0h2m0 0h2m-1 0h2m-1 0h2m-1 0h2m-1 0h2m-1 0h2m-1 0h2m0 0h2m-1 0h2m-1 0h2m-1 0h2m-1 0h2m-1 0h2m-1 0h2m-1 0h2m-1 0h2m-1 0h2m1 0h2m2 0h2m-1 0h2m68 0h2m0 0h2m0 0h2m4 0h2m-1 0h2m-1 0h2m-1 0h2m1 0h2m-1 0h2m1 0h2m6 0h2m-1 0h2m-1 0h2m12 0h2m-175 1h2m7 0h2m0 0h2m-1 0h2m-1 0h2m0 0h2m0 0h2m-1 0h2m0 0h2m-1 0h2m0 0h2m-1 0h2m-1 0h2m-1 0h2m-1 0h2m-1 0h2m-1 0h2m-1 0h2m-1 0h2m-1 0h2m-1 0h2m-1 0h2m-1 0h2m-1 0h2m-1 0h2m3 0h2m-1 0h2m2 0h2m0 0h2m1 0h2m-1 0h2m4 0h2m1 0h2m-1 0h2m60 0h2m0 0h2m2 0h2m1 0h2m-1 0h2m-1 0h2m-1 0h2m3 0h2m3 0h2m1 0h2m0 0h2m-1 0h2m3 0h2m3 0h2m-167 1h2m2 0h2m0 0h2m3 0h2m1 0h2m2 0h2m-1 0h2m0 0h2m0 0h2m-1 0h2m-1 0h2m-1 0h2m-1 0h2m-1 0h2m-1 0h2m-1 0h2m-1 0h2m-1 0h2m-1 0h2m-1 0h2m-1 0h2m0 0h2m-1 0h2m-1 0h2m-1 0h2m-1 0h2m-1 0h2m-1 0h2m-1 0h2m-1 0h2m-1 0h2m-1 0h2m-1 0h2m-1 0h2m-1 0h2m-1 0h2m-1 0h2m72 0h2m3 0h2m2 0h2m-1 0h2m-1 0h2m3 0h2m0 0h2m0 0h2m0 0h2m-1 0h2m1 0h2m1 0h2m3 0h2m0 0h2m20 0h2m-179 1h2m8 0h2m0 0h2m-1 0h2m-1 0h2m-1 0h2m0 0h2m2 0h2m-1 0h2m0 0h2m-1 0h2m-1 0h2m0 0h2m-1 0h2m-1 0h2m-1 0h2m-1 0h2m0 0h2m-1 0h2m-1 0h2m0 0h2m-1 0h2m2 0h2m0 0h2m4 0h2m7 0h2m-1 0h2m59 0h2m-1 0h2m-1 0h2m0 0h2m0 0h2m-1 0h2m-1 0h2m-1 0h2m-1 0h2m5 0h2m7 0h2m0 0h2m-1 0h2m1 0h2m-158 1h2m4 0h2m-1 0h2m2 0h2m-1 0h2m-1 0h2m-1 0h2m-1 0h2m-1 0h2m3 0h2m-1 0h2m0 0h2m-1 0h2m-1 0h2m1 0h2m-1 0h2m-1 0h2m-1 0h2m-1 0h2m-1 0h2m0 0h2m-1 0h2m-1 0h2m-1 0h2m-1 0h2m-1 0h2m-1 0h2m0 0h2m0 0h2m3 0h2m6 0h2m64 0h2m3 0h2m-1 0h2m1 0h2m-1 0h2m0 0h2m1 0h2m0 0h2m2 0h2m2 0h2m-1 0h2m0 0h2m5 0h2m1 0h2m0 0h2m4 0h2m-168 1h2m-1 0h2m0 0h2m3 0h2m0 0h2m-1 0h2m-1 0h2m-1 0h2m-1 0h2m-1 0h2m-1 0h2m-1 0h2m-1 0h2m-1 0h2m-1 0h2m-1 0h2m-1 0h2m-1 0h2m-1 0h2m-1 0h2m0 0h2m-1 0h2m-1 0h2m2 0h2m3 0h2m-1 0h2m5 0h2m2 0h2m-1 0h2m61 0h2m4 0h2m0 0h2m3 0h2m0 0h2m-1 0h2m0 0h2m-1 0h2m-1 0h2m2 0h2m-1 0h2m-1 0h2m-1 0h2m-1 0h2m2 0h2m-1 0h2m0 0h2m0 0h2m1 0h2m-1 0h2m2 0h2m-1 0h2m3 0h2m-167 1h2m-1 0h2m-1 0h2m-1 0h2m-1 0h2m0 0h2m2 0h2m-1 0h2m0 0h2m3 0h2m-1 0h2m-1 0h2m0 0h2m-1 0h2m-1 0h2m-1 0h2m-1 0h2m-1 0h2m-1 0h2m-1 0h2m1 0h2m-1 0h2m-1 0h2m-1 0h2m-1 0h2m-1 0h2m-1 0h2m0 0h2m3 0h2m2 0h2m1 0h2m40 0h2m10 0h2m2 0h2m6 0h2m0 0h2m0 0h2m0 0h2m-1 0h2m-1 0h2m0 0h2m6 0h2m1 0h2m3 0h2m-151 1h2m7 0h2m-1 0h2m2 0h2m2 0h2m0 0h2m0 0h2m1 0h2m-1 0h2m-1 0h2m-1 0h2m-1 0h2m-1 0h2m-1 0h2m0 0h2m-1 0h2m-1 0h2m-1 0h2m-1 0h2m-1 0h2m-1 0h2m0 0h2m0 0h2m-1 0h2m1 0h2m-1 0h2m-1 0h2m3 0h2m2 0h2m-1 0h2m2 0h2m2 0h2m46 0h2m7 0h2m1 0h2m6 0h2m0 0h2m-1 0h2m-1 0h2m1 0h2m3 0h2m-1 0h2m2 0h2m2 0h2m0 0h2m2 0h2m3 0h2m0 0h2m3 0h2m-176 1h2m2 0h2m5 0h2m0 0h2m-1 0h2m0 0h2m-1 0h2m-1 0h2m-1 0h2m0 0h2m0 0h2m-1 0h2m0 0h2m-1 0h2m-1 0h2m1 0h2m-1 0h2m0 0h2m-1 0h2m-1 0h2m-1 0h2m-1 0h2m-1 0h2m2 0h2m0 0h2m-1 0h2m2 0h2m5 0h2m3 0h2m2 0h2m56 0h2m0 0h2m0 0h2m-1 0h2m-1 0h2m-1 0h2m-1 0h2m4 0h2m4 0h2m-1 0h2m0 0h2m4 0h2m1 0h2m19 0h2m13 0h2m-196 1h2m5 0h2m1 0h2m1 0h2m-1 0h2m-1 0h2m0 0h2m-1 0h2m-1 0h2m0 0h2m-1 0h2m0 0h2m-1 0h2m0 0h2m-1 0h2m-1 0h2m-1 0h2m-1 0h2m-1 0h2m-1 0h2m0 0h2m0 0h2m0 0h2m-1 0h2m0 0h2m-1 0h2m1 0h2m1 0h2m-1 0h2m0 0h2m2 0h2m67 0h2m5 0h2m2 0h2m0 0h2m-1 0h2m0 0h2m-1 0h2m0 0h2m1 0h2m3 0h2m-1 0h2m0 0h2m1 0h2m-159 1h2m3 0h2m4 0h2m0 0h2m-1 0h2m-1 0h2m2 0h2m1 0h2m-1 0h2m1 0h2m-1 0h2m-1 0h2m-1 0h2m-1 0h2m-1 0h2m0 0h2m1 0h2m-1 0h2m-1 0h2m-1 0h2m-1 0h2m-1 0h2m0 0h2m0 0h2m2 0h2m-1 0h2m7 0h2m67 0h2m7 0h2m0 0h2m2 0h2m2 0h2m1 0h2m0 0h2m-1 0h2m-1 0h2m1 0h2m-1 0h2m7 0h2m3 0h2m-1 0h2m-1 0h2m1 0h2m-172 1h2m1 0h2m0 0h2m2 0h2m-1 0h2m0 0h2m1 0h2m-1 0h2m-1 0h2m-1 0h2m-1 0h2m-1 0h2m-1 0h2m-1 0h2m-1 0h2m0 0h2m-1 0h2m0 0h2m-1 0h2m-1 0h2m-1 0h2m-1 0h2m0 0h2m0 0h2m-1 0h2m3 0h2m0 0h2m1 0h2m57 0h2m1 0h2m11 0h2m12 0h2m2 0h2m2 0h2m1 0h2m0 0h2m0 0h2m1 0h2m2 0h2m0 0h2m5 0h2m1 0h2m-179 1h2m-1 0h2m0 0h2m6 0h2m2 0h2m2 0h2m-1 0h2m-1 0h2m0 0h2m0 0h2m1 0h2m-1 0h2m-1 0h2m2 0h2m3 0h2m-1 0h2m-1 0h2m3 0h2m1 0h2m5 0h2m0 0h2m-1 0h2m0 0h2m39 0h2m22 0h2m0 0h2m4 0h2m-1 0h2m0 0h2m7 0h2m-1 0h2m2 0h2m3 0h2m0 0h2m2 0h2m-1 0h2m2 0h2m-1 0h2m14 0h2m-185 1h2m3 0h2m-1 0h2m0 0h2m3 0h2m2 0h2m-1 0h2m-1 0h2m0 0h2m-1 0h2m0 0h2m2 0h2m1 0h2m-1 0h2m-1 0h2m5 0h2m-1 0h2m-1 0h2m0 0h2m-1 0h2m-1 0h2m-1 0h2m0 0h2m0 0h2m84 0h2m-1 0h2m2 0h2m5 0h2m0 0h2m8 0h2m0 0h2m0 0h2m-154 1h2m0 0h2m1 0h2m2 0h2m3 0h2m-1 0h2m-1 0h2m-1 0h2m0 0h2m1 0h2m1 0h2m2 0h2m-1 0h2m1 0h2m4 0h2m76 0h2m2 0h2m-1 0h2m2 0h2m2 0h2m-1 0h2m2 0h2m0 0h2m5 0h2m0 0h2m-1 0h2m12 0h2m0 0h2m4 0h2m-192 1h2m7 0h2m-1 0h2m1 0h2m4 0h2m0 0h2m5 0h2m-1 0h2m-1 0h2m0 0h2m-1 0h2m-1 0h2m0 0h2m0 0h2m-1 0h2m0 0h2m-1 0h2m0 0h2m0 0h2m1 0h2m-1 0h2m-1 0h2m1 0h2m71 0h2m5 0h2m7 0h2m0 0h2m-1 0h2m1 0h2m5 0h2m1 0h2m-1 0h2m1 0h2m-1 0h2m1 0h2m-1 0h2m-1 0h2m4 0h2m0 0h2m1 0h2m19 0h2m-190 1h2m6 0h2m1 0h2m7 0h2m1 0h2m0 0h2m0 0h2m2 0h2m1 0h2m-1 0h2m4 0h2m1 0h2m72 0h2m2 0h2m9 0h2m7 0h2m0 0h2m-1 0h2m5 0h2m6 0h2m0 0h2m2 0h2m-1 0h2m20 0h2m-191 1h2m3 0h2m1 0h2m-1 0h2m2 0h2m1 0h2m3 0h2m-1 0h2m7 0h2m0 0h2m-1 0h2m0 0h2m-1 0h2m-1 0h2m-1 0h2m1 0h2m90 0h2m1 0h2m11 0h2m1 0h2m0 0h2m17 0h2m0 0h2m3 0h2m-191 1h2m3 0h2m8 0h2m3 0h2m0 0h2m-1 0h2m-1 0h2m1 0h2m5 0h2m5 0h2m1 0h2m12 0h2m83 0h2m6 0h2m1 0h2m-1 0h2m2 0h2m0 0h2m-1 0h2m0 0h2m5 0h2m14 0h2m0 0h2m-181 1h2m3 0h2m4 0h2m-1 0h2m1 0h2m1 0h2m0 0h2m-1 0h2m1 0h2m-1 0h2m0 0h2m1 0h2m92 0h2m3 0h2m6 0h2m9 0h2m2 0h2m2 0h2m-1 0h2m5 0h2m-166 1h2m0 0h2m9 0h2m0 0h2m0 0h2m0 0h2m-1 0h2m2 0h2m-1 0h2m0 0h2m-1 0h2m2 0h2m2 0h2m0 0h2m1 0h2m100 0h2m4 0h2m1 0h2m15 0h2m5 0h2m-190 1h2m14 0h2m1 0h2m11 0h2m0 0h2m0 0h2m2 0h2m-1 0h2m1 0h2m1 0h2m107 0h2m3 0h2m2 0h2m2 0h2m-1 0h2m11 0h2m-167 1h2m8 0h2m0 0h2m1 0h2m-1 0h2m1 0h2m0 0h2m0 0h2m9 0h2m2 0h2m8 0h2m78 0h2m3 0h2m13 0h2m0 0h2m-171 1h2m11 0h2m1 0h2m2 0h2m2 0h2m1 0h2m3 0h2m9 0h2m-1 0h2m1 0h2m8 0h2m6 0h2m73 0h2m26 0h2m1 0h2m1 0h2m10 0h2m13 0h2m-179 1h2m0 0h2m0 0h2m0 0h2m6 0h2m1 0h2m3 0h2m0 0h2m115 0h2m5 0h2m1 0h2m3 0h2m2 0h2m-168 1h2m14 0h2m1 0h2m0 0h2m17 0h2m98 0h2m13 0h2m-167 1h2m1 0h2m6 0h2m12 0h2m-1 0h2m8 0h2m78 0h2m19 0h2m13 0h2m13 0h2m0 0h2m3 0h2m0 0h2m8 0h2m-170 1h2m24 0h2m8 0h2m104 0h2m13 0h2m6 0h2m-170 1h2m-1 0h2m1 0h2m14 0h2m7 0h2m0 0h2m114 0h2m10 0h2m5 0h2m-161 1h2m27 0h2m109 0h2m7 0h2m13 0h2m-148 1h2m110 0h2m-128 1h2m12 0h2m118 0h2m-161 1h2m15 0h2m2 0h2m5 0h2m4 0h2m1 0h2m136 0h2m6 0h2m-167 1h2m146 0h2m9 0h2m2 0h2m1 0h2m-183 1h2m17 0h2m11 0h2m143 0h2m11 0h2m-45 1h2m33 0h2m0 0h2m0 1h2m-193 1h2m185 0h2m2 0h2m-183 1h2m36 0h2m-21 1h2m15 1h2m118 0h2m-103 2h2m123 0h2m12 1h2m-21 5h2m26 3h2" stroke="#222" stroke-width="2.40" fill="none"/>
<path d="M461.4 329V421.9M423.3 390.4H515.6" stroke="#3a3ab8" stroke-width=".55" fill="none"/>
<path d="M423.3 329V421.9" stroke="#999" stroke-width="1.1" fill="none"/>
<path d="M423.3 421.9H515.6" stroke="#555" stroke-width="1.1" fill="none"/>
<path d="M421.90000000000003 403.3H423.3M421.90000000000003 384.7H423.3M421.90000000000003 366.2H423.3M421.90000000000003 347.6H423.3M441.8 421.9v1.4M460.2 421.9v1.4M478.7 421.9v1.4M497.1 421.9v1.4" stroke="#888" stroke-width=".7" fill="none"/>
<text x="425.5" y="335.1" font-size="4.5" fill="#5050a8" stroke="#5050a8" stroke-width=".12" text-anchor="start">0.83</text>
<text x="514.4" y="335.1" font-size="4.5" fill="#5050a8" stroke="#5050a8" stroke-width=".12" text-anchor="end">0.201</text>
<text x="425.5" y="420.3" font-size="4.5" fill="#5050a8" stroke="#5050a8" stroke-width=".12" text-anchor="start">83.7</text>
<text x="514.4" y="420.3" font-size="4.5" fill="#5050a8" stroke="#5050a8" stroke-width=".12" text-anchor="end">15.3</text>
<text x="469.5" y="429.3" font-size="5.4" font-weight="bold" fill="#333" text-anchor="middle" textLength="9.4" lengthAdjust="spacingAndGlyphs" stroke="#333" stroke-width="0.14">GFP</text>
<text transform="translate(418.9,375.4) rotate(-90)" font-size="5" font-weight="bold" fill="#333" text-anchor="middle" textLength="8.8" lengthAdjust="spacingAndGlyphs" stroke="#333" stroke-width="0.14">CD4</text>
<path d="M312.3 225.7H516.4V431.6H312.3ZM414.5 225.7V431.6M312.3 328.7H516.4" stroke="#555" stroke-width="1.3" fill="none"/>
</svg></body></html>
